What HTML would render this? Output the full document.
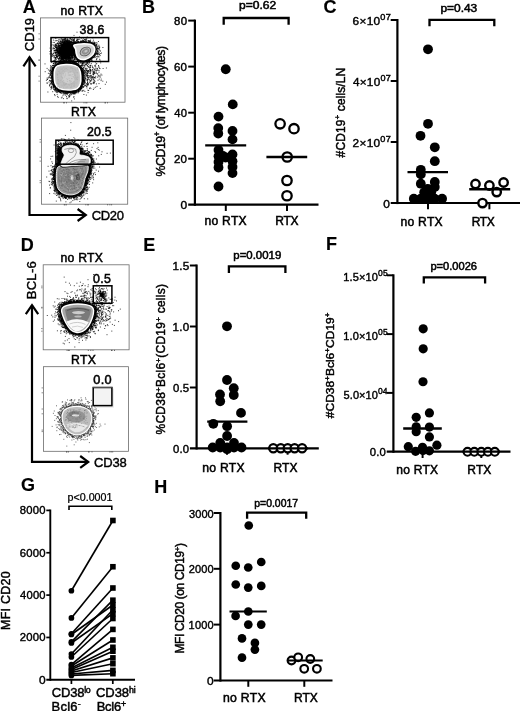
<!DOCTYPE html>
<html><head><meta charset="utf-8"><title>Figure</title><style>html,body{margin:0;padding:0;background:#fff}svg{display:block}</style></head><body>
<svg width="520" height="711" viewBox="0 0 520 711" font-family="'Liberation Sans', sans-serif" fill="#000">
<rect width="520" height="711" fill="#fff"/>
<text transform="translate(23.2 12.7) translate(-0.450 0) scale(1.0000 1)" font-size="18" letter-spacing="0.000" stroke="#000" stroke-width="0.15" font-weight="bold">A</text>
<text transform="translate(143.2 13) translate(-1.170 0) scale(1.0000 1)" font-size="18" letter-spacing="0.000" stroke="#000" stroke-width="0.15" font-weight="bold">B</text>
<text transform="translate(324.3 13) translate(-0.720 0) scale(1.0000 1)" font-size="18" letter-spacing="0.000" stroke="#000" stroke-width="0.15" font-weight="bold">C</text>
<text transform="translate(21.8 251.3) translate(-1.170 0) scale(1.0000 1)" font-size="18" letter-spacing="0.000" stroke="#000" stroke-width="0.15" font-weight="bold">D</text>
<text transform="translate(144.3 251.2) translate(-1.170 0) scale(1.0000 1)" font-size="18" letter-spacing="0.000" stroke="#000" stroke-width="0.15" font-weight="bold">E</text>
<text transform="translate(327.2 249.7) translate(-1.170 0) scale(1.0000 1)" font-size="18" letter-spacing="0.000" stroke="#000" stroke-width="0.15" font-weight="bold">F</text>
<text transform="translate(21.6 490.8) translate(-0.720 0) scale(1.0000 1)" font-size="18" letter-spacing="0.000" stroke="#000" stroke-width="0.15" font-weight="bold">G</text>
<text transform="translate(155.5 493) translate(-1.170 0) scale(1.0000 1)" font-size="18" letter-spacing="0.000" stroke="#000" stroke-width="0.15" font-weight="bold">H</text>
<rect x="40.4" y="17.9" width="84.6" height="84.30000000000001" fill="#fff" stroke="#6a6a6a" stroke-width="0.8"/>
<path d="M64.5 102.8h0M63.5 102.8h0M66.5 102.8h0M39.1 39.0h0M39.1 33.8h0M86.9 102.8h0M85.9 102.8h0M84.0 102.8h0M39.1 60.1h0M39.1 60.1h0M105.1 102.8h0M107.5 102.8h0M105.3 102.8h0M39.1 81.1h0M39.1 76.2h0" fill="none" stroke="#333" stroke-width="0.8" stroke-linecap="square" opacity="1"/>
<path d="M57.7 64.5h0M56.0 63.5h0M57.0 65.2h0M57.5 65.1h0M57.2 64.7h0M57.6 66.2h0M57.7 64.8h0M57.7 65.2h0M56.4 62.5h0M57.7 64.6h0M57.9 65.0h0M57.7 63.0h0M57.6 63.3h0M57.8 64.8h0M57.4 65.6h0M57.8 65.9h0M57.7 64.9h0M58.5 65.4h0M58.0 64.9h0M58.5 64.4h0M57.9 64.9h0M57.9 62.9h0M58.4 64.7h0M58.1 65.2h0M58.3 63.1h0M59.1 64.3h0M58.9 64.5h0M58.4 64.2h0M58.7 65.5h0M58.6 65.7h0M58.8 64.7h0M58.8 64.4h0M59.4 64.9h0M59.2 64.3h0M58.6 63.6h0M58.0 63.5h0M59.5 64.7h0M59.0 64.4h0M59.8 65.4h0M59.9 64.5h0M59.0 63.8h0M59.4 65.8h0M59.2 62.1h0M59.4 65.3h0M59.6 65.2h0M60.0 63.1h0M59.6 62.6h0M59.7 63.0h0M60.1 62.8h0M60.0 62.8h0M59.2 63.0h0M59.9 62.3h0M60.3 65.4h0M60.5 64.6h0M60.2 64.6h0M59.6 63.7h0M60.1 62.4h0M60.3 63.5h0M60.5 63.3h0M61.2 64.9h0M60.3 62.1h0M60.4 64.4h0M60.4 63.8h0M60.0 61.9h0M61.0 62.4h0M60.8 65.1h0M60.4 63.0h0M59.6 61.9h0M61.3 64.3h0M61.1 65.1h0M60.9 64.1h0M60.9 62.1h0M62.1 63.8h0M61.1 64.9h0M61.8 64.4h0M61.7 64.6h0M61.1 64.3h0M61.8 62.9h0M61.3 62.0h0M62.0 63.7h0M61.8 62.2h0M61.7 64.0h0M61.4 60.8h0M61.1 62.5h0M61.9 62.7h0M61.6 63.9h0M62.3 64.7h0M62.2 63.2h0M62.7 64.4h0M62.1 64.4h0M61.9 61.2h0M61.7 62.8h0M62.1 62.4h0M62.6 64.2h0M62.5 64.6h0M62.6 64.5h0M61.4 62.8h0M62.1 63.9h0M62.2 64.4h0M62.4 64.5h0M63.0 62.7h0M63.0 64.5h0M63.1 63.3h0M63.2 65.1h0M62.9 64.6h0M62.5 62.0h0M62.6 64.9h0M63.2 63.5h0M63.7 62.8h0M63.7 64.3h0M63.1 63.6h0M62.9 64.5h0M63.2 62.1h0M63.6 62.9h0M63.8 62.6h0M64.0 63.6h0M64.7 64.2h0M63.5 64.5h0M63.9 62.9h0M63.9 64.0h0M64.1 64.0h0M63.9 61.8h0M64.0 63.2h0M64.4 62.0h0M63.6 61.8h0M64.1 65.0h0M63.7 63.1h0M63.9 63.7h0M65.6 64.1h0M64.2 64.7h0M64.9 63.4h0M64.3 60.9h0M64.2 62.3h0M63.9 64.5h0M65.1 63.4h0M64.7 63.9h0M65.4 64.4h0M65.4 64.4h0M64.5 62.3h0M65.5 64.0h0M64.4 64.6h0M65.4 64.3h0M64.6 64.3h0M65.1 61.9h0M65.5 64.3h0M66.2 62.9h0M65.7 64.1h0M65.3 64.0h0M65.3 62.1h0M65.4 63.8h0M66.0 64.1h0M65.8 62.9h0M65.8 63.9h0M65.9 63.1h0M64.6 63.3h0M66.8 63.9h0M66.6 63.4h0M66.1 63.3h0M66.1 62.4h0M66.1 63.8h0M66.5 63.8h0M66.4 63.5h0M66.0 62.1h0M66.7 63.8h0M66.2 62.3h0M66.2 64.0h0M66.6 64.0h0M66.3 65.0h0M67.0 62.6h0M67.1 62.8h0M67.9 63.1h0M67.1 62.0h0M66.9 62.7h0M66.7 62.8h0M67.0 63.8h0M67.1 64.5h0M67.1 63.1h0M67.3 65.2h0M67.4 61.8h0M67.0 63.4h0M67.6 62.5h0M66.6 61.8h0M68.0 62.2h0M67.3 62.2h0M67.9 61.8h0M68.2 64.3h0M67.1 64.4h0M68.2 63.3h0M68.3 64.5h0M67.8 64.0h0M67.9 65.1h0M67.9 63.7h0M67.9 63.7h0M68.3 61.4h0M68.1 63.9h0M67.7 63.7h0M67.7 62.0h0M69.3 60.3h0M68.6 61.6h0M68.4 63.9h0M68.6 63.6h0M68.4 62.1h0M69.2 64.2h0M68.9 63.5h0M68.7 62.6h0M69.2 61.4h0M68.3 63.3h0M68.7 64.5h0M69.0 60.7h0M68.8 62.6h0M69.4 62.6h0M68.8 63.9h0M69.5 64.3h0M69.8 64.8h0M69.0 64.2h0M69.1 64.2h0M69.7 63.0h0M69.7 63.8h0M69.9 64.2h0M69.9 60.6h0M69.6 60.3h0M69.8 62.9h0M69.5 62.0h0M69.2 61.4h0M69.8 63.1h0M68.7 64.2h0M70.9 62.1h0M70.3 64.3h0M70.5 62.6h0M69.9 62.4h0M70.9 64.0h0M70.5 63.6h0M70.5 63.9h0M70.2 63.4h0M70.5 62.3h0M70.2 63.2h0M70.4 64.1h0M70.3 62.8h0M70.7 64.0h0M70.6 64.3h0M70.7 62.7h0M71.7 63.5h0M71.1 64.5h0M72.0 60.0h0M72.1 60.6h0M71.6 64.3h0M70.9 65.0h0M71.7 64.3h0M71.8 64.3h0M70.9 64.9h0M71.1 63.5h0M70.8 62.0h0M71.0 62.7h0M71.5 63.0h0M70.9 64.8h0M71.1 64.4h0M72.7 61.8h0M72.3 62.2h0M71.9 64.7h0M71.5 62.9h0M72.1 64.6h0M72.1 65.1h0M71.8 63.0h0M72.7 63.1h0M71.9 64.1h0M72.4 62.4h0M71.5 63.2h0M72.6 62.7h0M71.8 64.2h0M72.3 64.7h0M72.8 64.3h0M72.7 62.3h0M72.8 65.1h0M73.1 63.9h0M72.6 65.0h0M73.0 63.2h0M73.0 63.3h0M73.4 62.2h0M72.4 64.5h0M73.6 63.2h0M72.6 64.9h0M73.3 61.4h0M73.3 64.5h0M73.6 63.4h0M73.5 64.0h0M73.8 63.3h0M73.2 64.4h0M73.7 65.3h0M73.7 62.2h0M74.4 63.4h0M73.1 63.9h0M74.4 64.5h0M73.3 65.5h0M73.4 64.1h0M73.7 65.4h0M73.4 63.7h0M74.5 64.6h0M74.1 64.3h0M74.7 63.1h0M74.2 63.8h0M73.9 64.9h0M74.2 64.8h0M74.9 62.9h0M73.6 65.1h0M75.1 65.1h0M74.4 64.2h0M75.1 62.5h0M74.7 62.7h0M76.2 62.7h0M74.9 65.1h0M74.8 64.2h0M75.0 64.6h0M74.9 65.3h0M75.6 63.7h0M75.0 64.2h0M74.9 64.9h0M74.8 65.1h0M74.8 64.4h0M75.9 63.7h0M74.7 65.4h0M75.2 65.7h0M75.9 63.6h0M76.2 63.1h0M75.8 63.9h0M76.4 63.7h0M75.7 64.4h0M74.7 65.1h0M76.2 62.8h0M76.0 65.0h0M75.7 64.3h0M76.8 63.3h0M76.7 65.0h0M76.7 64.5h0M76.1 66.3h0M76.3 64.9h0M75.8 65.0h0M76.6 64.4h0M75.6 65.9h0M76.2 64.5h0M76.0 65.7h0M76.9 65.4h0M77.5 63.5h0M76.9 65.6h0M77.1 63.9h0M77.3 65.2h0M77.4 64.0h0M76.5 65.4h0M77.0 65.1h0M76.7 66.2h0M77.2 65.3h0M77.1 64.3h0M78.9 63.8h0M76.8 66.4h0M78.3 64.3h0M76.9 66.5h0M77.2 65.6h0M78.7 64.6h0M78.6 64.6h0M78.1 65.4h0M77.6 65.8h0M77.2 66.3h0M77.3 66.8h0M78.8 64.2h0M76.7 66.2h0M78.1 65.6h0M78.0 66.8h0M78.3 66.0h0M77.6 66.5h0M78.0 66.1h0M77.7 65.7h0M78.5 64.8h0M78.2 65.6h0M78.0 67.0h0M77.9 66.9h0M78.8 66.0h0M78.3 66.6h0M78.5 66.5h0M78.8 65.6h0M78.8 65.5h0M79.4 65.8h0M77.7 67.0h0M78.4 66.9h0M78.2 67.1h0M79.0 66.5h0M78.5 66.9h0M78.3 66.7h0M78.4 67.0h0M79.7 66.3h0M79.8 65.9h0M78.9 66.7h0M81.2 65.9h0M78.7 68.1h0M80.7 65.5h0M81.4 65.7h0M81.7 65.1h0M82.0 64.7h0M80.0 67.3h0M79.5 67.5h0M79.9 66.9h0M79.2 67.9h0M80.1 67.3h0M81.9 65.5h0M80.7 66.3h0M80.4 67.1h0M82.0 66.1h0M81.0 67.0h0M80.0 67.2h0M80.0 67.8h0M79.6 67.5h0M79.7 67.8h0M79.5 67.8h0M79.7 67.0h0M79.7 68.4h0M80.5 67.9h0M79.5 68.1h0M81.6 67.5h0M79.9 68.3h0M79.9 68.6h0M80.0 69.2h0M80.9 68.1h0M80.4 68.4h0M79.9 69.0h0M80.5 68.7h0M81.2 68.0h0M79.6 69.5h0M80.6 68.7h0M83.5 67.6h0M79.6 69.2h0M80.0 68.9h0M82.7 68.4h0M80.9 69.7h0M80.4 69.1h0M82.6 68.6h0M82.2 69.0h0M81.8 68.7h0M82.0 69.1h0M81.2 69.1h0M80.6 69.0h0M79.9 69.9h0M80.5 70.1h0M83.4 69.3h0M81.5 70.0h0M80.4 70.0h0M80.3 70.1h0M80.4 70.5h0M80.9 70.2h0M81.9 70.3h0M83.2 68.6h0M81.2 69.6h0M81.9 70.7h0M81.5 70.7h0M81.0 70.3h0M80.7 71.3h0M80.2 71.0h0M80.9 71.0h0M80.8 70.5h0M82.2 69.7h0M79.6 70.3h0M81.0 71.1h0M81.8 71.4h0M81.5 70.7h0M79.6 71.6h0M81.9 70.7h0M80.9 71.0h0M82.3 71.2h0M82.3 70.8h0M82.7 71.5h0M81.2 71.3h0M80.5 71.5h0M80.5 71.2h0M82.7 71.2h0M80.3 71.7h0M83.5 71.4h0M80.4 71.6h0M81.8 71.8h0M82.4 72.1h0M82.5 72.0h0M81.1 71.4h0M82.9 71.1h0M80.6 71.9h0M82.8 71.6h0M81.1 72.6h0M81.3 72.2h0M80.5 72.5h0M83.3 72.2h0M81.9 72.1h0M81.0 72.0h0M82.1 72.1h0M82.2 72.3h0M80.7 72.2h0M82.4 72.2h0M82.5 72.3h0M81.8 72.8h0M81.5 72.7h0M81.0 73.0h0M82.2 72.7h0M80.8 72.7h0M80.9 73.2h0M81.1 73.1h0M80.5 73.9h0M84.0 72.3h0M80.3 73.2h0M81.9 72.8h0M81.4 73.2h0M81.2 73.8h0M83.0 73.7h0M81.3 73.8h0M80.4 73.8h0M82.2 74.0h0M83.9 73.6h0M80.6 73.4h0M81.8 74.0h0M82.6 73.9h0M81.6 73.2h0M82.8 74.9h0M83.9 74.1h0M83.0 73.2h0M79.7 74.3h0M83.3 73.9h0M81.3 74.9h0M81.5 74.2h0M81.4 74.0h0M82.6 73.8h0M84.3 73.8h0M83.5 74.2h0M82.5 74.6h0M82.0 75.4h0M81.8 74.9h0M82.1 74.1h0M85.6 74.8h0M82.1 75.4h0M80.4 75.0h0M83.0 74.6h0M83.7 74.8h0M81.6 74.9h0M81.7 75.0h0M80.9 76.3h0M80.9 75.3h0M81.0 75.8h0M81.8 75.6h0M82.3 75.6h0M81.3 75.8h0M81.5 76.3h0M82.1 75.0h0M82.0 75.2h0M82.4 75.9h0M80.9 75.8h0M82.5 75.3h0M82.5 75.9h0M81.3 75.8h0M81.6 76.1h0M81.2 76.5h0M82.1 76.5h0M81.9 75.8h0M82.9 75.5h0M84.3 75.8h0M81.8 76.0h0M81.9 76.3h0M81.6 76.2h0M81.3 76.2h0M81.8 76.7h0M82.8 77.2h0M81.2 76.6h0M81.5 77.1h0M81.1 76.8h0M82.7 76.6h0M81.4 77.2h0M81.1 76.8h0M82.0 76.9h0M84.2 76.6h0M83.1 76.6h0M81.4 76.8h0M82.4 77.4h0M81.3 77.7h0M83.6 77.4h0M81.0 77.6h0M82.0 77.5h0M81.3 77.2h0M80.8 77.8h0M82.7 77.6h0M82.5 77.8h0M82.3 77.4h0M83.7 77.2h0M82.2 78.3h0M81.1 77.7h0M82.0 78.4h0M82.3 78.1h0M82.2 77.7h0M81.4 77.5h0M82.1 78.8h0M82.3 78.3h0M83.2 78.9h0M84.0 78.5h0M81.5 78.4h0M81.3 78.0h0M82.6 78.4h0M81.1 79.3h0M80.9 78.0h0M82.7 79.0h0M82.0 79.1h0M83.3 79.1h0M82.0 79.0h0M81.5 79.5h0M83.4 79.3h0M81.9 79.2h0M81.8 79.6h0M83.6 79.2h0M81.0 78.7h0M84.1 78.9h0M80.8 79.6h0M82.1 80.1h0M80.8 79.5h0M84.3 80.4h0M83.3 80.3h0M82.4 79.4h0M82.0 80.0h0M83.2 79.6h0M81.7 79.8h0M83.6 81.0h0M81.6 79.8h0M81.9 79.3h0M82.6 79.6h0M82.0 80.7h0M82.5 80.1h0M82.9 80.4h0M81.8 80.8h0M83.9 80.7h0M81.6 80.9h0M81.6 80.8h0M82.5 80.8h0M84.4 79.9h0M82.4 81.3h0M83.9 80.7h0M81.0 80.7h0M80.8 80.3h0M82.6 81.7h0M84.4 81.2h0M83.8 81.2h0M80.6 81.0h0M83.7 81.9h0M83.3 82.0h0M80.9 80.8h0M83.0 81.1h0M82.2 80.9h0M81.7 81.1h0M81.8 81.8h0M83.5 80.9h0M81.6 82.3h0M84.4 82.1h0M81.4 81.3h0M81.8 82.1h0M82.1 82.2h0M82.1 81.8h0M80.8 82.0h0M82.2 82.5h0M81.1 81.8h0M81.7 82.2h0M81.7 81.9h0M85.0 82.5h0M81.0 82.3h0M81.5 82.7h0M84.1 83.1h0M80.4 82.0h0M80.5 82.4h0M81.7 82.7h0M80.8 82.7h0M80.8 82.7h0M81.8 82.6h0M82.1 82.4h0M83.5 82.9h0M81.1 83.1h0M82.7 83.2h0M82.5 83.9h0M81.6 83.2h0M80.7 82.9h0M81.5 83.0h0M80.2 83.0h0M81.1 83.2h0M81.7 83.4h0M82.3 84.0h0M81.3 83.4h0M81.9 83.2h0M82.8 84.2h0M82.7 83.8h0M82.7 84.5h0M82.1 84.0h0M83.3 84.3h0M81.0 83.9h0M82.2 84.1h0M83.1 84.3h0M82.2 84.3h0M82.4 84.6h0M80.2 84.6h0M80.3 84.5h0M82.3 84.5h0M80.4 84.7h0M79.9 84.2h0M80.6 85.4h0M81.0 84.7h0M82.2 84.6h0M82.6 84.6h0M82.0 84.5h0M80.7 85.3h0M81.4 85.4h0M80.7 85.4h0M80.4 85.3h0M80.8 85.1h0M80.7 85.1h0M80.7 84.5h0M80.8 85.8h0M80.1 85.1h0M83.1 86.1h0M83.6 87.1h0M82.4 86.3h0M82.5 85.7h0M83.4 86.8h0M79.9 85.2h0M80.0 85.3h0M81.8 86.2h0M81.1 85.6h0M81.9 85.8h0M80.0 85.5h0M83.0 87.0h0M81.1 86.2h0M81.5 85.9h0M80.2 85.3h0M82.0 87.3h0M79.8 86.1h0M81.3 86.1h0M80.9 86.9h0M79.9 86.2h0M80.8 86.8h0M79.8 86.4h0M80.6 86.8h0M82.1 87.8h0M81.2 86.9h0M79.3 86.1h0M80.7 87.2h0M80.3 87.0h0M79.5 87.2h0M80.4 87.6h0M81.7 88.1h0M79.5 86.8h0M81.1 86.9h0M80.8 87.8h0M81.5 88.6h0M79.3 87.1h0M79.7 87.0h0M81.7 88.7h0M79.6 87.8h0M80.2 87.4h0M79.2 86.9h0M79.1 86.8h0M79.4 87.4h0M81.3 88.8h0M79.5 88.0h0M79.4 87.3h0M80.5 89.2h0M80.7 88.4h0M80.0 88.5h0M80.2 87.7h0M79.2 87.5h0M78.9 87.7h0M78.6 88.0h0M78.9 88.6h0M78.1 87.7h0M79.2 88.8h0M80.1 88.8h0M80.4 89.4h0M79.9 88.6h0M78.3 89.4h0M79.8 89.0h0M78.5 87.9h0M80.0 90.7h0M79.6 88.9h0M80.3 90.6h0M79.2 88.6h0M78.3 87.8h0M78.3 88.3h0M78.7 90.1h0M78.4 89.0h0M79.3 90.0h0M78.6 89.7h0M78.1 88.8h0M78.8 89.9h0M78.6 89.7h0M78.0 88.7h0M78.6 88.9h0M77.4 89.5h0M78.6 89.9h0M77.6 89.1h0M78.3 90.4h0M78.3 90.3h0M78.2 91.0h0M77.5 89.0h0M77.3 88.3h0M78.7 91.2h0M78.7 91.0h0M76.5 88.8h0M77.1 88.7h0M77.1 89.4h0M78.1 92.9h0M78.0 91.7h0M78.3 92.1h0M77.3 89.0h0M78.3 91.5h0M78.0 91.1h0M77.3 89.6h0M77.6 90.0h0M77.1 90.8h0M76.4 90.6h0M76.5 88.9h0M76.4 89.6h0M75.9 89.1h0M76.8 90.0h0M75.6 89.9h0M76.9 90.8h0M76.8 91.6h0M76.4 88.6h0M76.8 90.1h0M76.6 89.3h0M75.7 91.3h0M76.0 91.1h0M75.0 90.8h0M76.2 90.6h0M75.7 89.1h0M76.0 89.7h0M76.9 90.1h0M75.9 91.3h0M76.2 92.8h0M75.4 91.3h0M76.4 91.3h0M75.2 89.5h0M75.7 92.5h0M75.6 92.5h0M76.1 92.7h0M75.7 92.9h0M74.8 90.9h0M75.2 89.9h0M74.5 91.1h0M74.3 91.2h0M75.1 90.4h0M75.2 92.1h0M75.0 89.5h0M75.2 91.2h0M74.7 90.2h0M74.9 89.5h0M74.5 92.1h0M74.6 92.8h0M73.8 91.0h0M73.8 92.1h0M73.0 90.8h0M74.2 89.9h0M74.6 89.3h0M74.1 89.8h0M73.7 90.8h0M73.8 92.0h0M74.5 90.5h0M73.9 90.2h0M73.5 89.9h0M74.4 92.5h0M73.7 91.4h0M73.3 91.7h0M73.7 93.3h0M73.5 91.3h0M73.8 91.9h0M74.2 93.6h0M72.9 92.7h0M72.9 90.4h0M73.3 91.4h0M74.0 93.5h0M73.8 92.1h0M74.4 93.2h0M73.6 89.8h0M73.5 90.4h0M73.8 91.3h0M72.7 92.7h0M73.2 92.5h0M72.6 92.2h0M73.0 91.0h0M72.5 90.7h0M72.0 90.2h0M72.3 90.2h0M72.2 90.4h0M72.5 90.4h0M72.6 92.9h0M72.7 92.3h0M72.2 91.4h0M72.3 91.6h0M73.1 93.1h0M72.9 93.0h0M71.6 92.4h0M71.3 90.1h0M72.4 92.1h0M71.1 91.1h0M71.4 90.1h0M72.2 92.1h0M72.0 91.2h0M71.7 92.7h0M72.3 91.7h0M71.9 90.4h0M71.2 90.2h0M71.9 90.3h0M71.8 92.6h0M71.7 90.4h0M72.3 92.7h0M70.9 90.1h0M70.6 92.2h0M71.3 91.0h0M70.0 90.8h0M71.2 90.4h0M70.4 90.8h0M71.2 91.2h0M70.8 92.7h0M70.9 89.9h0M70.4 90.2h0M70.0 90.6h0M71.5 90.0h0M70.9 90.3h0M70.5 92.2h0M69.9 92.4h0M70.6 90.6h0M70.1 94.0h0M69.9 92.0h0M69.9 91.2h0M69.5 89.6h0M69.9 92.2h0M69.8 92.2h0M70.1 92.0h0M69.6 90.2h0M69.6 90.4h0M69.3 92.3h0M70.8 90.0h0M70.0 90.7h0M68.8 91.7h0M69.3 90.3h0M68.8 91.3h0M68.9 92.6h0M68.8 90.6h0M69.1 95.6h0M68.6 92.1h0M68.8 90.1h0M70.2 90.3h0M68.5 92.1h0M69.4 90.2h0M68.8 90.6h0M69.2 91.5h0M68.9 91.9h0M68.0 90.6h0M68.3 91.7h0M68.6 91.0h0M69.0 89.7h0M68.7 92.0h0M69.1 91.8h0M68.8 92.8h0M68.5 93.0h0M68.5 92.0h0M68.9 90.5h0M68.0 91.5h0M67.9 90.0h0M67.6 91.4h0M68.5 91.9h0M68.0 91.4h0M67.7 91.3h0M67.9 92.0h0M67.4 89.7h0M67.0 90.0h0M68.0 92.5h0M67.8 91.6h0M67.2 93.7h0M67.8 90.7h0M67.5 92.0h0M67.3 93.6h0M67.6 92.2h0M68.5 91.1h0M66.7 90.4h0M66.2 91.1h0M67.5 91.4h0M67.9 90.0h0M66.3 91.6h0M67.1 90.9h0M67.4 90.4h0M66.3 90.5h0M67.0 91.4h0M66.8 93.3h0M67.0 92.3h0M67.2 90.6h0M67.2 92.5h0M66.9 91.0h0M67.0 91.8h0M65.8 91.3h0M66.6 90.5h0M66.0 92.1h0M65.9 92.6h0M67.0 89.9h0M65.9 91.8h0M66.5 91.0h0M66.2 91.6h0M65.9 89.8h0M66.1 90.2h0M66.4 91.1h0M66.6 92.0h0M64.9 90.6h0M65.6 92.2h0M65.3 93.0h0M65.7 90.0h0M66.3 89.8h0M65.4 90.7h0M65.3 91.4h0M65.1 93.5h0M65.2 89.8h0M65.3 90.8h0M65.1 90.7h0M65.0 93.7h0M65.2 89.9h0M65.5 92.2h0M65.2 90.3h0M64.4 91.9h0M64.6 89.3h0M65.0 90.1h0M64.6 90.8h0M65.1 89.8h0M64.9 91.6h0M64.8 90.1h0M64.8 89.5h0M64.8 91.1h0M64.3 90.0h0M64.5 90.2h0M64.5 91.0h0M64.7 91.3h0M63.5 90.3h0M64.1 90.4h0M63.1 90.4h0M63.3 90.0h0M64.5 89.4h0M63.5 91.3h0M63.7 91.8h0M63.7 92.5h0M63.7 90.0h0M63.3 91.7h0M63.9 92.3h0M64.2 92.1h0M63.8 93.9h0M62.5 91.8h0M62.5 91.3h0M63.1 90.6h0M63.3 91.6h0M62.3 90.5h0M62.8 90.6h0M63.1 89.9h0M62.1 89.6h0M62.8 91.5h0M63.0 90.2h0M62.7 91.5h0M63.0 91.8h0M63.4 91.1h0M62.7 90.8h0M62.7 92.8h0M62.0 90.1h0M62.1 89.7h0M62.6 90.8h0M61.9 91.3h0M62.3 90.8h0M61.7 93.3h0M62.1 91.6h0M61.8 92.8h0M61.9 90.4h0M62.2 90.4h0M62.8 90.7h0M62.2 91.4h0M62.2 89.5h0M61.1 90.1h0M61.5 89.6h0M61.7 91.1h0M60.5 90.3h0M61.4 90.7h0M61.5 89.6h0M61.6 89.1h0M61.7 90.6h0M60.9 89.4h0M61.7 90.7h0M61.6 89.7h0M61.0 89.8h0M60.2 90.3h0M60.6 90.9h0M60.6 90.4h0M61.0 89.3h0M60.4 92.3h0M61.1 89.6h0M60.5 92.2h0M60.2 92.5h0M60.3 90.2h0M62.0 89.6h0M61.1 89.6h0M60.2 91.3h0M60.3 90.8h0M59.6 91.2h0M59.2 90.3h0M60.0 90.2h0M59.7 91.7h0M59.4 90.8h0M60.8 88.7h0M59.4 90.8h0M59.7 90.8h0M61.1 89.2h0M59.7 89.9h0M58.6 90.5h0M58.6 91.3h0M59.3 89.7h0M59.1 90.9h0M59.0 91.1h0M59.2 91.3h0M59.2 90.3h0M58.4 91.7h0M59.6 90.5h0M59.8 89.3h0M59.7 88.8h0M58.6 90.7h0M57.9 90.4h0M58.0 91.7h0M58.1 89.7h0M58.4 90.4h0M58.0 91.4h0M57.9 90.9h0M58.9 88.5h0M58.7 89.0h0M58.7 89.5h0M57.2 92.2h0M59.1 88.5h0M57.0 90.4h0M54.6 94.5h0M58.6 89.1h0M57.8 89.3h0M58.0 88.8h0M57.4 90.2h0M58.1 88.7h0M58.1 89.1h0M57.7 89.8h0M58.6 89.7h0M57.7 89.4h0M58.1 88.3h0M56.5 90.0h0M57.8 88.5h0M58.6 88.8h0M57.8 88.2h0M55.7 91.7h0M58.1 88.6h0M57.9 89.0h0M57.2 88.2h0M56.8 87.7h0M57.8 88.3h0M57.3 87.7h0M57.4 88.3h0M56.9 89.8h0M55.7 90.3h0M57.0 88.7h0M57.8 87.9h0M55.5 89.7h0M55.6 88.5h0M54.8 90.0h0M55.6 89.6h0M57.0 87.5h0M56.7 88.5h0M56.6 88.3h0M57.0 87.2h0M57.0 88.1h0M56.9 88.8h0M56.0 88.8h0M57.3 87.0h0M55.5 88.4h0M56.5 87.6h0M56.6 87.0h0M55.3 89.0h0M55.3 88.4h0M55.3 88.9h0M56.9 87.8h0M54.8 88.1h0M56.4 87.9h0M56.2 86.6h0M56.1 87.1h0M56.5 86.1h0M55.3 87.4h0M56.3 87.6h0M55.5 87.1h0M55.6 88.5h0M56.9 86.2h0M55.2 86.8h0M55.5 86.8h0M56.1 86.4h0M53.4 87.7h0M55.6 86.3h0M55.6 87.4h0M56.6 87.1h0M55.0 87.6h0M54.6 86.6h0M54.7 86.7h0M54.9 86.5h0M54.9 86.2h0M55.8 85.7h0M55.8 86.0h0M54.4 86.8h0M54.0 87.0h0M55.3 86.0h0M56.1 86.4h0M54.6 85.8h0M55.3 85.6h0M53.5 86.9h0M55.4 85.0h0M54.9 86.2h0M54.0 87.0h0M54.7 85.8h0M55.7 85.5h0M52.1 86.9h0M53.9 86.2h0M54.3 85.0h0M54.8 84.7h0M54.6 84.9h0M55.4 85.4h0M55.8 84.4h0M55.0 85.7h0M51.1 87.3h0M53.6 85.6h0M54.7 85.6h0M54.9 84.5h0M53.1 84.7h0M54.2 84.9h0M54.2 85.0h0M55.2 84.5h0M53.5 85.1h0M53.6 85.0h0M54.8 83.7h0M53.5 85.2h0M53.4 85.1h0M55.1 83.9h0M55.3 83.4h0M54.6 83.8h0M52.2 85.2h0M53.6 84.7h0M49.7 86.0h0M55.3 84.1h0M53.4 84.5h0M54.6 84.6h0M54.4 83.6h0M54.1 83.4h0M55.3 83.3h0M52.1 84.4h0M54.0 83.7h0M52.1 83.8h0M53.9 83.3h0M55.1 83.6h0M54.6 83.6h0M54.5 83.8h0M54.1 83.1h0M54.9 83.2h0M53.0 82.8h0M54.0 82.2h0M53.7 82.9h0M54.3 82.4h0M54.7 82.3h0M49.7 84.3h0M53.0 83.1h0M53.6 82.7h0M53.3 82.5h0M54.2 82.5h0M51.7 83.2h0M55.0 82.9h0M54.1 81.8h0M51.6 82.8h0M54.1 81.8h0M52.9 82.8h0M53.9 82.0h0M51.5 82.9h0M53.6 82.0h0M54.3 82.7h0M53.6 82.0h0M51.7 82.4h0M53.5 81.4h0M54.2 82.3h0M54.7 81.5h0M54.7 81.4h0M53.8 81.5h0M52.8 81.5h0M54.4 81.2h0M51.4 81.5h0M53.8 81.0h0M52.3 81.6h0M52.7 80.9h0M52.8 81.8h0M52.4 81.4h0M50.5 81.8h0M53.3 81.3h0M54.0 81.4h0M52.9 80.2h0M53.8 80.4h0M51.1 80.7h0M51.2 80.6h0M53.9 80.6h0M53.2 80.6h0M53.4 81.3h0M54.1 80.7h0M54.4 80.2h0M52.5 81.4h0M54.6 80.0h0M53.6 81.3h0M53.6 80.6h0M53.0 79.9h0M54.8 79.4h0M52.6 80.2h0M54.5 78.7h0M53.6 80.3h0M53.2 79.4h0M54.0 79.7h0M49.5 80.4h0M53.5 80.1h0M53.4 79.9h0M53.5 79.5h0M52.3 79.8h0M52.1 80.0h0M52.9 79.7h0M52.4 79.6h0M53.8 79.2h0M53.3 79.1h0M53.3 79.1h0M52.7 79.8h0M53.2 79.1h0M54.4 79.2h0M52.3 79.1h0M53.2 78.8h0M53.0 79.2h0M52.3 79.3h0M53.5 78.9h0M51.8 78.0h0M51.4 78.3h0M52.3 78.8h0M53.7 78.1h0M54.5 78.0h0M53.5 78.7h0M52.7 78.6h0M53.1 78.3h0M53.3 78.2h0M53.7 78.4h0M53.6 78.8h0M50.9 78.5h0M54.0 78.8h0M54.3 77.8h0M53.3 77.5h0M51.3 77.5h0M53.8 77.8h0M54.7 77.2h0M53.8 77.8h0M53.8 77.7h0M51.2 77.7h0M53.5 77.4h0M53.4 77.8h0M53.8 77.6h0M52.8 77.6h0M52.6 77.4h0M53.7 77.1h0M51.8 76.7h0M53.4 77.4h0M52.3 76.4h0M53.2 76.8h0M53.2 77.2h0M50.8 77.3h0M53.8 76.6h0M53.8 76.9h0M54.1 76.7h0M52.0 77.5h0M53.8 76.7h0M53.5 76.5h0M53.2 76.2h0M53.4 76.1h0M53.1 76.8h0M53.0 76.8h0M53.1 76.6h0M53.3 76.8h0M52.1 76.3h0M53.1 76.5h0M54.1 76.7h0M53.0 76.6h0M53.7 76.0h0M52.7 75.5h0M54.5 75.7h0M54.2 75.2h0M52.1 76.2h0M52.4 76.4h0M53.9 75.3h0M51.8 76.1h0M53.8 75.5h0M52.8 75.9h0M52.3 76.2h0M52.3 75.1h0M52.3 75.4h0M52.9 75.2h0M54.3 75.0h0M51.4 75.2h0M53.8 74.7h0M52.6 75.5h0M53.2 74.6h0M52.3 75.3h0M52.3 75.4h0M54.0 74.6h0M53.7 75.0h0M53.9 74.7h0M54.2 74.9h0M53.9 74.9h0M54.4 74.6h0M54.3 74.8h0M50.9 74.6h0M53.4 74.1h0M53.0 74.4h0M53.5 74.7h0M53.2 74.2h0M52.8 73.9h0M51.3 73.8h0M49.9 73.5h0M52.8 74.3h0M48.4 73.3h0M53.3 74.1h0M51.2 74.1h0M53.6 73.7h0M54.0 73.8h0M52.9 73.3h0M51.9 73.4h0M53.2 73.7h0M53.0 73.1h0M53.6 74.0h0M52.9 73.6h0M53.8 73.5h0M50.8 72.8h0M53.0 73.4h0M53.4 73.3h0M53.1 73.0h0M53.2 73.3h0M52.9 73.7h0M54.2 73.0h0M53.3 72.7h0M54.5 72.8h0M53.5 72.5h0M54.1 72.2h0M53.7 72.5h0M54.1 73.2h0M53.4 72.1h0M51.6 72.3h0M53.2 72.0h0M49.9 71.1h0M52.5 71.9h0M52.3 71.9h0M52.2 72.3h0M53.2 72.8h0M51.5 71.5h0M53.6 72.0h0M52.3 71.4h0M52.3 71.6h0M54.0 71.4h0M52.6 71.8h0M54.2 71.5h0M53.8 72.1h0M50.9 70.8h0M52.9 71.9h0M52.5 71.1h0M53.3 71.8h0M53.6 70.9h0M52.3 71.0h0M54.4 71.2h0M50.8 70.6h0M53.8 71.0h0M51.9 70.3h0M54.0 70.7h0M54.3 70.8h0M52.7 70.7h0M50.0 71.3h0M54.2 71.0h0M51.7 71.0h0M53.1 69.7h0M52.5 70.0h0M53.5 70.4h0M53.6 69.7h0M54.5 71.0h0M53.8 70.6h0M53.2 70.2h0M53.6 70.2h0M53.5 71.0h0M52.6 69.5h0M51.1 69.5h0M54.0 69.4h0M53.1 70.0h0M51.0 69.0h0M53.3 69.7h0M52.8 69.3h0M53.3 70.4h0M52.5 69.7h0M51.8 68.7h0M54.2 69.5h0M54.5 69.8h0M53.8 69.1h0M54.3 69.5h0M53.6 68.8h0M54.3 69.4h0M53.7 69.3h0M52.9 68.6h0M55.0 68.9h0M53.8 69.0h0M54.1 68.9h0M52.9 68.3h0M52.6 68.5h0M54.0 69.0h0M53.4 68.7h0M51.4 66.9h0M54.7 68.6h0M51.1 67.8h0M54.1 69.0h0M54.6 68.8h0M54.4 68.5h0M54.1 67.6h0M53.4 67.6h0M53.4 67.7h0M54.0 68.2h0M53.9 67.6h0M54.0 68.4h0M51.0 66.7h0M54.5 68.6h0M55.6 67.6h0M54.6 67.9h0M54.4 68.4h0M54.1 67.8h0M55.3 68.0h0M55.3 68.1h0M55.1 67.9h0M53.5 67.5h0M54.3 67.2h0M54.9 67.2h0M54.4 67.3h0M53.0 65.4h0M55.5 67.2h0M54.1 67.2h0M53.0 65.8h0M52.4 65.8h0M53.9 66.3h0M54.9 66.3h0M55.3 67.3h0M55.4 66.9h0M53.7 65.5h0M54.5 66.4h0M55.5 67.2h0M55.5 66.8h0M55.7 67.3h0M55.3 67.1h0M56.1 66.4h0M55.0 65.4h0M55.5 66.7h0M55.3 65.8h0M55.2 66.1h0M55.8 66.3h0M54.9 65.4h0M54.9 64.9h0M55.6 66.0h0M56.3 66.4h0M56.4 66.1h0M55.9 65.3h0M56.0 65.8h0M56.1 65.8h0M56.5 66.8h0M55.4 65.0h0M56.1 66.1h0M55.4 63.9h0M56.4 64.1h0M56.7 65.6h0M56.3 65.7h0M57.2 66.1h0M56.8 64.9h0M56.2 64.9h0M55.5 63.3h0M56.9 64.5h0M55.9 62.9h0M56.3 64.4h0M55.6 62.0h0M57.0 65.3h0M57.5 66.6h0M55.5 62.2h0M56.6 65.1h0M56.2 62.9h0M55.2 57.8h0M55.2 60.0h0M55.6 58.5h0M56.1 59.5h0M56.5 56.9h0M59.1 65.1h0M58.7 64.6h0M59.7 64.5h0M59.4 65.1h0M58.5 62.1h0M58.9 61.8h0M60.4 65.3h0M59.1 60.2h0M60.8 64.2h0M60.5 65.1h0M60.0 61.9h0M61.2 61.3h0M61.3 64.4h0M61.0 61.4h0M62.7 64.4h0M61.5 56.2h0M61.8 61.5h0M62.3 62.6h0M61.4 55.8h0M63.3 62.8h0M62.9 61.7h0M62.0 56.6h0M63.9 64.0h0M64.2 62.1h0M63.1 60.0h0M65.4 59.6h0M65.1 63.6h0M64.6 62.1h0M65.2 64.5h0M65.8 61.0h0M65.9 62.9h0M66.8 63.2h0M65.8 62.6h0M66.3 60.2h0M67.6 55.8h0M66.9 62.7h0M67.2 62.6h0M68.2 63.6h0M68.6 58.8h0M68.1 61.6h0M69.0 56.8h0M69.2 60.2h0M69.3 57.8h0M69.7 64.6h0M69.9 60.2h0M69.9 64.2h0M69.9 64.1h0M70.9 64.4h0M71.2 56.7h0M70.3 64.6h0M71.2 65.0h0M71.7 64.5h0M72.0 60.6h0M72.1 64.3h0M72.5 63.9h0M71.6 64.4h0M73.5 63.0h0M73.0 64.1h0M74.1 58.1h0M73.9 63.1h0M73.8 62.0h0M74.4 62.4h0M74.6 61.7h0M74.9 63.4h0M74.9 60.4h0M75.0 63.6h0M75.3 62.4h0M77.3 60.6h0M75.7 64.1h0M77.9 61.6h0M77.5 61.1h0M76.7 65.2h0M77.6 65.0h0M78.8 62.3h0M77.3 65.9h0M78.0 64.6h0M77.3 66.4h0M77.5 65.9h0M78.6 65.8h0M78.4 66.0h0M82.7 63.1h0M82.2 63.6h0M82.6 63.8h0M79.4 66.4h0M83.9 64.3h0M79.7 66.8h0M80.9 67.7h0M82.7 65.9h0M84.7 66.0h0M81.1 67.8h0M81.6 67.9h0M79.6 69.0h0M80.8 68.7h0M82.2 68.7h0M86.0 68.1h0M81.7 69.9h0M86.7 68.9h0M80.1 70.4h0M80.1 70.9h0M85.8 70.2h0M83.8 70.2h0M87.0 70.9h0M80.5 72.2h0M83.5 72.0h0M81.9 72.6h0M88.8 71.3h0M89.0 71.8h0M83.2 72.5h0M87.3 73.5h0M81.8 74.1h0M81.5 74.5h0M81.9 74.8h0M81.7 74.2h0M84.1 75.4h0M82.0 75.6h0M82.8 74.6h0M83.3 75.1h0M83.4 75.4h0M82.5 76.2h0M83.9 75.1h0M87.4 76.3h0M93.4 76.2h0M84.0 77.6h0M81.5 77.9h0M84.8 77.5h0M82.6 78.1h0M85.3 78.4h0M83.5 78.1h0M81.9 79.4h0M85.6 79.0h0M87.2 80.0h0M82.7 79.5h0M91.4 80.2h0M87.4 80.2h0M81.0 80.2h0M82.7 80.8h0M84.2 81.2h0M80.8 81.0h0M84.6 81.8h0M81.3 82.1h0M84.8 82.6h0M86.6 83.7h0M83.2 82.2h0M82.2 83.2h0M83.1 83.7h0M86.8 85.1h0M80.7 83.4h0M80.9 84.5h0M84.8 86.3h0M80.4 84.4h0M79.7 84.6h0M89.5 88.6h0M82.9 87.2h0M82.1 86.1h0M79.8 85.5h0M79.5 85.9h0M81.4 87.2h0M81.2 86.9h0M81.0 87.3h0M81.0 88.7h0M83.8 90.3h0M80.6 88.9h0M82.9 90.9h0M82.1 91.3h0M82.2 90.4h0M79.9 89.6h0M79.5 89.3h0M77.8 88.2h0M79.4 91.1h0M78.9 91.7h0M77.6 88.2h0M77.2 90.0h0M76.8 89.0h0M76.9 92.0h0M76.5 88.8h0M76.3 89.1h0M76.1 91.3h0M75.7 89.5h0M76.8 92.2h0M75.7 90.1h0M75.4 93.2h0M75.3 91.0h0M73.9 90.8h0M74.9 94.1h0M73.9 89.7h0M73.9 93.8h0M74.4 98.9h0M74.1 96.8h0M74.1 91.1h0M73.1 94.1h0M73.5 97.1h0M72.2 92.8h0M72.3 91.3h0M71.7 94.2h0M71.6 90.8h0M71.9 92.0h0M70.7 91.4h0M71.7 100.9h0M71.2 93.6h0M70.6 91.8h0M70.5 93.2h0M70.1 95.8h0M71.1 94.8h0M69.5 96.5h0M69.7 94.4h0M69.3 92.4h0M68.9 95.7h0M69.0 96.6h0M69.0 97.6h0M67.4 94.0h0M67.8 92.6h0M67.0 98.2h0M67.0 94.8h0M66.5 96.6h0M67.1 98.7h0M66.4 93.2h0M66.3 92.8h0M66.4 93.7h0M65.1 93.9h0M64.9 90.5h0M64.9 93.7h0M65.3 95.2h0M64.3 92.6h0M64.6 90.1h0M64.2 91.3h0M63.4 98.6h0M63.0 95.3h0M63.4 93.8h0M62.2 97.1h0M61.4 97.9h0M63.2 90.9h0M61.5 91.2h0M61.4 91.3h0M61.3 92.2h0M61.5 89.4h0M60.4 93.0h0M60.4 90.9h0M58.2 97.4h0M57.6 96.4h0M59.6 92.2h0M59.3 91.8h0M59.1 90.2h0M57.2 94.3h0M57.8 92.0h0M58.5 90.7h0M55.0 95.6h0M56.5 91.8h0M56.7 92.0h0M57.1 89.4h0M56.3 90.5h0M54.9 90.8h0M58.0 87.8h0M57.1 88.9h0M54.8 89.8h0M56.0 88.6h0M54.2 89.5h0M52.7 91.7h0M56.3 86.5h0M53.6 89.2h0M53.2 88.2h0M47.9 92.0h0M51.0 89.2h0M55.2 86.3h0M51.7 88.0h0M51.5 88.0h0M53.4 87.0h0M53.3 86.0h0M51.0 87.3h0M53.5 86.1h0M54.0 85.1h0M51.6 86.5h0M49.6 85.4h0M52.5 84.6h0M52.5 83.4h0M50.7 84.2h0M55.3 82.9h0M50.6 83.4h0M46.9 83.0h0M47.4 83.1h0M51.8 82.6h0M49.0 82.0h0M53.3 81.1h0M54.6 81.1h0M51.1 80.6h0M51.3 81.2h0M52.1 80.2h0M46.4 80.3h0M52.9 79.3h0M49.9 80.7h0M47.4 79.5h0M52.8 79.3h0M52.0 79.2h0M47.3 79.3h0M48.2 77.9h0M52.7 78.3h0M47.1 78.1h0M48.9 77.8h0M51.6 77.0h0M49.5 77.2h0M49.1 76.7h0M52.3 76.1h0M51.9 76.7h0M53.3 76.2h0M50.0 75.4h0M51.2 75.9h0M50.3 75.5h0M52.7 75.1h0M50.6 74.4h0M50.0 74.7h0M51.2 73.8h0M53.1 74.3h0M51.3 73.3h0M51.2 73.0h0M51.8 72.1h0M50.4 72.7h0M52.9 72.2h0M45.2 71.7h0M53.8 72.1h0M50.0 70.3h0M52.1 71.8h0M52.8 71.2h0M50.9 71.2h0M48.4 69.9h0M52.8 70.2h0M50.3 70.0h0M54.0 69.6h0M47.1 68.4h0M52.7 68.3h0M52.8 68.9h0M50.4 68.0h0M52.4 67.5h0M54.9 68.4h0M52.7 67.6h0M45.0 63.9h0M50.7 65.7h0M53.0 65.8h0M54.8 66.6h0M53.3 65.1h0M51.6 62.3h0M56.4 66.9h0M55.0 64.8h0M54.2 63.1h0M52.9 61.4h0M53.6 60.7h0M55.0 61.3h0M55.0 62.2h0M73.0 45.2h0M72.1 44.6h0M72.4 44.2h0M73.6 44.5h0M72.4 42.7h0M72.4 42.9h0M73.9 44.7h0M73.8 44.5h0M73.7 43.6h0M73.7 44.2h0M74.4 44.4h0M74.1 43.8h0M73.5 42.2h0M73.6 43.1h0M74.2 43.3h0M75.0 44.2h0M73.8 42.2h0M74.2 43.4h0M74.5 42.3h0M75.0 44.3h0M75.5 43.2h0M75.1 44.5h0M75.9 44.7h0M75.4 43.9h0M75.4 43.4h0M75.6 44.6h0M75.9 43.1h0M76.2 43.6h0M75.8 42.0h0M75.8 42.3h0M75.6 41.7h0M76.3 44.3h0M76.2 43.3h0M76.3 44.3h0M76.5 44.6h0M76.0 43.7h0M77.4 42.7h0M77.0 42.5h0M77.2 44.2h0M76.0 42.9h0M76.9 42.0h0M76.7 43.0h0M78.1 43.6h0M76.9 43.9h0M77.3 43.5h0M76.9 42.8h0M77.1 42.6h0M78.2 44.0h0M78.4 43.9h0M77.6 43.8h0M78.0 43.6h0M77.9 44.2h0M78.4 43.4h0M77.8 43.8h0M78.4 43.7h0M78.4 43.6h0M78.0 42.1h0M78.1 43.6h0M78.5 43.4h0M77.6 39.2h0M78.7 43.9h0M78.5 42.6h0M78.7 42.3h0M78.3 41.4h0M79.0 42.7h0M79.5 43.6h0M78.5 42.7h0M79.2 44.4h0M79.2 42.3h0M78.3 41.5h0M79.4 44.0h0M79.2 41.8h0M79.6 43.5h0M78.7 43.6h0M79.5 43.1h0M79.8 43.8h0M80.3 43.7h0M80.4 42.4h0M80.1 43.6h0M79.7 43.8h0M79.7 42.7h0M79.7 43.9h0M80.1 42.1h0M81.0 43.1h0M80.0 42.9h0M80.5 41.1h0M80.3 43.5h0M81.5 42.4h0M80.7 42.3h0M80.4 42.8h0M80.9 41.6h0M80.9 41.9h0M81.2 41.9h0M81.1 43.6h0M80.6 42.0h0M80.7 43.9h0M81.8 43.6h0M82.2 41.1h0M81.2 42.5h0M82.1 43.2h0M81.8 41.3h0M81.6 43.7h0M81.8 44.2h0M82.0 43.0h0M82.7 42.9h0M81.9 43.5h0M81.8 43.6h0M82.2 43.9h0M81.9 41.7h0M82.7 43.6h0M82.1 41.0h0M81.8 41.7h0M83.1 42.1h0M82.4 43.9h0M82.5 43.6h0M83.0 43.0h0M82.5 42.5h0M83.5 43.4h0M83.2 43.3h0M83.5 40.7h0M83.2 41.3h0M83.2 41.9h0M83.3 42.6h0M83.3 43.6h0M84.3 43.4h0M83.9 41.9h0M83.0 40.9h0M83.1 40.6h0M83.6 43.1h0M84.2 39.6h0M83.9 42.7h0M83.9 43.3h0M84.4 41.9h0M84.4 42.8h0M84.7 43.6h0M84.7 41.3h0M85.2 42.3h0M85.1 43.3h0M85.1 43.6h0M85.3 42.2h0M84.6 41.1h0M85.4 42.8h0M86.1 42.5h0M85.0 39.6h0M85.0 41.9h0M84.6 43.3h0M84.7 42.8h0M85.5 39.9h0M86.0 40.5h0M85.8 43.1h0M85.9 43.0h0M85.9 41.0h0M85.9 42.6h0M85.6 43.3h0M87.4 42.6h0M86.3 39.5h0M86.3 43.1h0M86.4 41.7h0M86.2 41.9h0M86.2 42.4h0M87.1 42.7h0M86.9 43.5h0M87.0 41.8h0M86.9 42.6h0M87.3 43.3h0M87.1 40.9h0M86.7 43.3h0M88.0 42.7h0M87.9 42.7h0M87.5 43.3h0M87.3 43.6h0M87.8 42.5h0M89.0 40.5h0M88.4 42.2h0M87.8 42.7h0M87.8 44.2h0M88.8 42.5h0M88.0 43.6h0M88.5 42.4h0M88.5 43.3h0M88.0 44.1h0M88.7 41.3h0M88.8 41.7h0M89.4 41.1h0M89.1 42.7h0M89.4 41.6h0M88.9 44.0h0M89.1 42.3h0M88.9 42.6h0M89.0 43.0h0M89.7 42.8h0M89.4 44.0h0M90.1 40.9h0M89.8 42.5h0M88.9 43.5h0M89.7 44.1h0M89.7 44.0h0M89.9 44.4h0M89.6 43.1h0M89.8 43.5h0M90.4 43.2h0M89.9 43.4h0M90.7 42.7h0M90.7 41.9h0M90.5 43.0h0M91.1 42.9h0M90.5 43.7h0M91.1 42.7h0M90.7 43.2h0M91.1 42.4h0M90.9 44.4h0M91.5 44.3h0M91.7 43.0h0M92.1 42.5h0M91.4 44.6h0M92.3 43.1h0M91.1 44.4h0M92.1 44.3h0M91.4 44.2h0M91.8 44.6h0M92.1 44.6h0M92.2 44.2h0M92.1 43.1h0M93.0 43.6h0M93.1 44.0h0M92.1 44.9h0M92.3 43.8h0M93.3 43.3h0M91.8 45.6h0M93.9 44.2h0M92.6 43.9h0M92.7 44.1h0M93.3 43.9h0M94.0 42.2h0M92.9 45.3h0M94.2 44.9h0M92.6 45.1h0M94.5 43.5h0M93.8 44.5h0M92.6 45.4h0M94.3 43.6h0M94.5 43.7h0M94.3 45.4h0M95.6 42.9h0M94.8 43.8h0M95.1 44.6h0M94.5 45.0h0M96.8 42.6h0M96.0 44.6h0M94.4 45.0h0M94.8 45.2h0M94.7 46.3h0M93.4 46.0h0M97.0 43.8h0M94.9 45.8h0M96.3 45.9h0M95.0 45.6h0M93.5 46.2h0M95.4 45.9h0M94.5 46.9h0M94.3 47.3h0M94.0 47.1h0M97.1 46.1h0M95.9 45.6h0M95.1 47.0h0M95.7 47.3h0M94.0 47.2h0M95.1 47.9h0M93.9 47.5h0M95.1 47.4h0M96.0 47.8h0M95.0 48.0h0M95.0 47.9h0M95.2 47.5h0M96.9 47.6h0M95.3 47.7h0M96.0 48.2h0M95.8 48.1h0M95.4 48.9h0M96.8 48.5h0M95.6 48.0h0M95.4 49.3h0M96.5 49.0h0M98.7 48.8h0M95.5 49.6h0M95.1 49.2h0M97.1 49.4h0M96.9 49.1h0M94.3 49.2h0M97.0 48.9h0M95.9 49.5h0M96.0 50.1h0M97.0 50.4h0M94.9 50.0h0M96.6 49.5h0M96.7 50.8h0M95.0 49.9h0M95.5 49.8h0M95.5 50.2h0M95.6 50.3h0M95.5 51.0h0M95.0 50.8h0M94.8 50.2h0M94.6 51.3h0M95.8 51.1h0M94.7 50.8h0M95.3 51.4h0M95.2 51.2h0M94.7 51.9h0M97.9 52.3h0M95.6 52.0h0M96.4 52.3h0M95.6 51.5h0M95.0 51.7h0M95.0 51.5h0M99.2 52.9h0M95.4 52.0h0M94.5 51.8h0M96.4 52.0h0M94.5 52.4h0M94.8 52.1h0M94.8 51.7h0M94.7 51.8h0M96.9 53.3h0M95.8 53.1h0M95.1 53.2h0M96.2 53.8h0M95.6 54.0h0M95.3 53.3h0M94.0 54.0h0M97.2 54.2h0M94.8 53.6h0M94.1 53.7h0M95.0 54.1h0M95.2 53.8h0M94.1 53.3h0M94.2 54.3h0M93.8 53.7h0M93.5 53.7h0M96.0 54.4h0M94.0 53.7h0M93.9 54.4h0M93.8 53.9h0M95.0 55.3h0M93.9 54.5h0M97.9 56.1h0M93.9 55.0h0M93.0 54.7h0M94.4 55.5h0M93.3 54.3h0M94.5 55.0h0M92.5 54.3h0M93.0 54.5h0M93.6 55.1h0M95.2 55.9h0M95.2 57.4h0M93.5 55.7h0M93.2 55.2h0M92.7 54.8h0M93.2 55.7h0M94.2 56.2h0M92.6 55.1h0M93.3 55.3h0M93.2 56.8h0M92.3 55.5h0M94.6 56.9h0M93.0 56.9h0M91.9 55.9h0M92.2 56.1h0M92.1 55.0h0M93.0 55.9h0M92.0 55.4h0M92.4 56.8h0M93.6 57.3h0M91.6 55.6h0M92.6 56.9h0M94.0 57.7h0M92.8 57.6h0M92.3 57.1h0M91.1 55.8h0M92.9 57.5h0M91.6 56.4h0M91.1 57.1h0M91.6 56.5h0M92.4 58.3h0M91.5 56.1h0M91.3 56.7h0M90.7 57.2h0M90.6 56.5h0M91.7 57.6h0M91.6 57.9h0M90.8 57.1h0M90.3 57.1h0M91.5 58.1h0M90.3 57.7h0M90.6 57.0h0M91.4 58.9h0M90.0 56.8h0M90.7 58.2h0M90.8 58.4h0M90.3 58.4h0M90.4 57.8h0M90.5 57.8h0M90.2 57.8h0M90.4 57.9h0M91.1 58.6h0M90.8 58.4h0M88.9 58.2h0M91.1 59.1h0M90.3 59.6h0M89.4 58.2h0M90.1 58.9h0M90.3 59.4h0M90.7 59.9h0M89.3 57.9h0M89.6 58.6h0M89.0 57.6h0M89.0 58.0h0M89.4 58.6h0M88.6 59.4h0M88.4 58.0h0M88.7 58.5h0M89.5 59.7h0M89.0 59.6h0M88.5 58.6h0M89.5 60.5h0M89.1 59.7h0M87.5 58.5h0M88.8 60.2h0M88.6 59.9h0M87.8 59.8h0M89.0 59.7h0M88.7 59.3h0M88.6 60.7h0M88.5 59.4h0M87.5 59.3h0M87.4 58.7h0M89.1 61.5h0M87.9 58.8h0M87.8 59.4h0M87.0 59.6h0M88.0 59.3h0M87.9 61.2h0M87.6 62.1h0M86.8 58.8h0M87.4 61.2h0M87.1 60.6h0M87.4 59.9h0M86.9 60.9h0M87.6 61.8h0M86.6 61.0h0M87.0 59.6h0M86.7 60.0h0M86.5 60.0h0M85.6 59.4h0M86.2 59.9h0M85.2 59.6h0M86.3 59.9h0M86.3 60.3h0M85.2 59.1h0M86.0 60.1h0M86.2 61.1h0M85.6 60.3h0M85.1 59.6h0M85.5 61.3h0M85.3 59.7h0M85.8 61.1h0M85.3 60.6h0M85.4 61.0h0M85.0 61.6h0M84.9 62.3h0M85.2 60.6h0M84.7 60.4h0M84.9 59.7h0M84.9 60.5h0M84.3 59.6h0M83.8 59.9h0M84.3 61.1h0M84.3 60.3h0M84.0 59.9h0M83.8 61.0h0M83.7 60.4h0M83.6 60.3h0M83.9 59.7h0M83.6 61.2h0M83.3 60.5h0M83.6 60.6h0M83.3 63.0h0M83.2 62.5h0M83.4 60.7h0M82.4 63.0h0M83.0 59.2h0M83.0 60.4h0M82.1 61.0h0M82.9 61.4h0M82.7 59.6h0M82.1 63.0h0M82.4 60.2h0M82.1 59.7h0M81.7 61.7h0M82.3 61.3h0M81.3 60.2h0M81.6 59.3h0M81.0 63.2h0M81.3 59.6h0M81.6 62.2h0M80.5 62.2h0M81.4 60.2h0M80.5 60.7h0M81.3 61.1h0M80.6 61.0h0M81.5 60.1h0M80.7 60.2h0M81.0 60.7h0M81.0 61.1h0M80.5 59.6h0M80.6 60.5h0M80.2 61.6h0M81.0 59.4h0M79.7 59.7h0M79.2 60.3h0M80.2 59.9h0M78.9 61.6h0M79.9 60.2h0M78.5 63.0h0M79.7 61.4h0M79.1 61.1h0M79.3 60.2h0M78.6 61.8h0M79.0 61.0h0M79.5 59.6h0M78.1 60.2h0M79.0 59.3h0M79.9 58.2h0M78.3 60.2h0M78.2 60.6h0M79.4 59.4h0M79.0 59.6h0M77.6 60.1h0M78.4 59.9h0M78.2 59.6h0M77.7 59.7h0M77.8 59.1h0M78.9 58.4h0M78.4 58.5h0M77.5 59.4h0M77.6 59.0h0M78.1 59.4h0M78.0 59.6h0M77.9 59.0h0M76.8 59.8h0M78.7 58.2h0M78.4 58.0h0M78.0 58.3h0M76.5 59.1h0M77.0 58.9h0M76.1 59.6h0M76.1 58.4h0M76.5 58.0h0M77.6 58.2h0M77.5 57.8h0M76.9 57.4h0M77.3 57.0h0M77.8 56.8h0M77.0 57.2h0M74.5 58.9h0M76.4 58.2h0M77.1 57.0h0M75.4 57.6h0M77.2 57.1h0M76.5 57.2h0M75.7 57.5h0M76.6 55.7h0M76.8 56.1h0M75.5 57.3h0M76.3 55.9h0M76.5 56.8h0M75.5 56.2h0M77.8 55.8h0M75.4 56.0h0M74.2 56.3h0M76.4 55.8h0M76.9 55.6h0M74.4 56.3h0M75.3 56.2h0M76.0 55.6h0M74.2 56.0h0M74.0 56.4h0M75.9 55.2h0M75.6 54.8h0M76.3 55.5h0M74.5 55.8h0M75.2 55.2h0M75.7 55.0h0M75.4 54.8h0M76.7 54.6h0M75.8 55.3h0M72.5 54.9h0M74.6 54.5h0M75.1 55.0h0M75.6 54.6h0M73.9 54.6h0M75.3 54.1h0M73.2 54.8h0M73.6 54.1h0M75.1 54.5h0M75.7 53.3h0M75.9 53.9h0M75.2 54.0h0M75.3 53.5h0M75.2 53.3h0M75.2 53.9h0M76.6 53.1h0M75.5 53.6h0M74.6 53.3h0M75.2 53.1h0M74.8 53.3h0M75.7 53.5h0M75.4 52.3h0M75.4 52.2h0M75.1 52.8h0M73.6 52.7h0M76.0 52.2h0M73.7 52.4h0M75.0 52.9h0M76.0 51.9h0M76.4 51.8h0M76.1 51.7h0M75.5 52.3h0M73.6 51.9h0M75.9 51.9h0M74.7 51.7h0M74.9 52.2h0M73.1 51.7h0M75.6 51.2h0M75.6 50.7h0M74.7 51.1h0M74.4 51.2h0M76.2 51.2h0M73.7 51.2h0M74.7 50.8h0M74.6 50.9h0M74.3 50.6h0M74.6 50.7h0M75.4 50.5h0M75.4 50.6h0M73.8 51.0h0M74.4 51.0h0M75.7 50.2h0M76.1 50.3h0M72.4 50.5h0M71.5 51.1h0M74.7 49.9h0M74.4 49.9h0M75.9 49.9h0M72.3 50.4h0M71.5 50.1h0M73.1 50.3h0M73.5 50.2h0M75.5 49.1h0M75.6 49.3h0M73.8 49.6h0M75.3 49.7h0M75.6 49.2h0M74.0 49.7h0M75.2 49.1h0M75.0 48.9h0M74.6 48.8h0M73.5 49.2h0M73.7 49.3h0M73.7 49.4h0M74.4 47.7h0M75.1 48.3h0M75.2 47.5h0M74.7 48.5h0M72.8 49.6h0M70.9 50.1h0M72.9 48.7h0M73.8 48.6h0M72.3 49.1h0M73.2 48.9h0M74.5 47.7h0M73.3 48.7h0M72.9 48.0h0M74.1 48.0h0M74.3 47.6h0M73.9 47.4h0M73.4 48.0h0M74.4 47.2h0M73.2 48.1h0M73.4 47.9h0M74.4 47.2h0M73.9 46.8h0M73.5 47.6h0M73.5 47.0h0M72.4 47.3h0M74.0 46.6h0M73.5 47.3h0M72.9 46.9h0M71.1 47.5h0M72.6 46.9h0M74.0 46.1h0M72.5 46.4h0M71.8 46.8h0M72.2 46.5h0M73.1 45.2h0M72.8 45.9h0M73.5 46.0h0M73.1 45.7h0M72.6 45.5h0M72.8 45.1h0M73.2 44.0h0M74.4 45.1h0M73.7 42.8h0M74.2 41.2h0M75.0 43.5h0M74.0 39.1h0M74.0 35.4h0M76.3 44.1h0M76.1 42.3h0M76.4 42.7h0M77.1 42.3h0M77.3 42.6h0M77.9 41.7h0M77.1 41.1h0M78.0 41.1h0M77.0 32.2h0M77.7 39.7h0M78.8 44.5h0M79.4 43.2h0M79.5 37.0h0M79.7 39.3h0M80.7 42.3h0M81.0 41.2h0M81.3 43.4h0M81.4 37.8h0M81.8 38.0h0M82.3 41.6h0M82.4 40.0h0M83.5 41.9h0M83.5 38.1h0M83.5 41.3h0M84.4 41.5h0M84.9 39.3h0M85.6 37.7h0M85.4 41.4h0M85.7 42.4h0M86.2 37.9h0M86.7 38.9h0M87.2 37.0h0M87.9 37.6h0M88.4 40.5h0M89.0 42.5h0M88.8 43.3h0M88.9 43.9h0M90.1 41.4h0M90.2 41.3h0M90.6 40.1h0M90.4 43.8h0M92.9 37.9h0M91.4 43.6h0M93.4 40.2h0M92.9 41.9h0M94.1 42.4h0M93.4 43.5h0M94.3 42.4h0M94.8 43.3h0M94.0 45.0h0M98.4 41.5h0M96.7 44.5h0M96.5 45.1h0M95.4 46.3h0M96.4 46.1h0M98.9 45.2h0M99.0 46.9h0M95.1 48.3h0M94.9 48.0h0M99.4 47.4h0M98.6 48.9h0M98.9 48.9h0M99.5 49.0h0M100.0 50.4h0M97.5 50.8h0M98.2 50.9h0M95.2 51.0h0M101.5 53.0h0M94.6 51.3h0M98.3 53.6h0M97.6 53.5h0M97.1 53.8h0M97.5 54.7h0M93.8 53.6h0M98.3 56.8h0M95.2 55.1h0M97.3 56.9h0M94.7 56.5h0M97.0 58.7h0M93.4 55.1h0M96.5 59.1h0M96.4 59.8h0M92.5 57.0h0M92.2 56.2h0M93.0 57.6h0M91.8 57.5h0M95.6 62.0h0M91.8 58.7h0M91.6 59.7h0M90.5 57.8h0M90.9 58.3h0M89.9 58.5h0M90.1 60.6h0M90.0 59.6h0M89.0 57.7h0M88.9 59.0h0M89.3 60.5h0M88.2 59.7h0M88.4 60.4h0M88.9 61.9h0M89.3 63.0h0M87.0 59.0h0M87.1 60.3h0M87.4 61.6h0M86.6 61.0h0M86.8 60.6h0M87.6 65.9h0M85.9 64.1h0M85.1 62.3h0M84.9 63.7h0M84.6 61.7h0M83.7 60.6h0M83.6 61.7h0M83.1 63.1h0M83.2 63.0h0M83.2 59.6h0M82.1 61.7h0M81.7 59.7h0M82.4 61.0h0M80.7 66.5h0M80.8 59.9h0M80.3 62.8h0M80.8 61.4h0M80.3 60.3h0M78.8 65.5h0M79.6 60.1h0M78.9 59.6h0M78.2 60.2h0M73.6 65.8h0M75.0 63.1h0M77.1 59.8h0M69.9 66.9h0M77.1 57.8h0M75.4 59.2h0M76.5 57.1h0M76.3 57.8h0M75.3 57.7h0M75.3 57.5h0M76.8 55.6h0M77.4 55.7h0M74.7 56.2h0M74.0 55.3h0M75.8 54.9h0M76.0 55.0h0M73.1 55.3h0M74.1 54.1h0M74.7 53.3h0M74.6 53.6h0M70.7 54.2h0M75.2 52.6h0M76.1 52.3h0M68.2 52.5h0M71.5 51.5h0M75.2 51.5h0M70.8 51.9h0M72.2 51.3h0M69.8 51.2h0M72.7 50.3h0M72.4 49.9h0M64.6 52.9h0M72.8 50.0h0M73.9 49.7h0M74.7 48.4h0M73.6 48.6h0M73.2 48.5h0M74.3 47.9h0M72.9 47.8h0M72.9 47.3h0M67.2 50.6h0M73.4 46.4h0M71.8 44.8h0M68.5 57.0h0M56.2 49.8h0M69.7 55.6h0M62.4 52.1h0M68.9 55.2h0M63.8 49.6h0M64.4 56.2h0M72.3 48.3h0M66.2 51.6h0M62.4 50.0h0M71.2 54.4h0M63.5 47.3h0M66.3 43.2h0M68.5 51.1h0M60.3 49.4h0M63.6 49.2h0M62.6 57.4h0M62.1 54.4h0M68.0 57.8h0M66.6 50.6h0M67.3 41.1h0M78.9 49.5h0M65.3 44.9h0M66.2 58.6h0M63.1 52.7h0M72.1 55.3h0M64.9 41.9h0M68.9 53.4h0M65.3 48.4h0M75.7 42.7h0M64.4 47.5h0M59.1 47.1h0M62.9 56.7h0M58.2 43.7h0M68.2 42.9h0M56.9 47.5h0M60.9 45.7h0M66.1 52.8h0M63.7 49.2h0M70.5 49.8h0M70.6 47.6h0M69.3 56.9h0M60.0 65.4h0M65.3 48.9h0M66.1 52.9h0M60.9 50.8h0M64.0 57.6h0M58.3 53.8h0M65.3 46.9h0M67.6 49.4h0M67.1 51.7h0M72.9 48.6h0M76.0 56.6h0M74.7 51.5h0M68.3 45.6h0M73.6 44.8h0M62.9 50.6h0M68.1 52.2h0M61.1 48.9h0M69.3 56.4h0M70.7 52.6h0M65.6 47.9h0M64.3 50.1h0M69.5 48.1h0M77.2 45.6h0M71.0 49.6h0M66.2 48.7h0M74.6 49.1h0M69.7 51.2h0M70.6 53.5h0M75.1 47.0h0M62.8 58.9h0M73.3 50.9h0M65.5 51.8h0M73.4 46.8h0M74.1 50.3h0M65.1 48.6h0M56.5 52.2h0M60.3 47.8h0M62.4 51.7h0M70.5 50.8h0M67.9 52.6h0M74.9 53.4h0M74.7 50.3h0M68.7 47.4h0M69.9 46.4h0M69.3 47.5h0M65.1 56.6h0M67.6 54.5h0M65.7 41.4h0M74.2 49.7h0M63.7 55.2h0M61.3 46.9h0M72.6 47.2h0M72.5 49.1h0M65.9 50.9h0M64.4 55.8h0M72.4 50.9h0M69.9 53.2h0M75.3 42.8h0M72.0 55.1h0M65.3 50.6h0M65.2 56.6h0M61.2 53.6h0M73.3 53.4h0M64.5 48.3h0M56.4 45.5h0M72.4 45.9h0M58.7 49.4h0M59.5 52.8h0M62.6 55.2h0M66.3 43.6h0M63.1 47.4h0M62.7 56.6h0M61.9 52.4h0M64.0 53.5h0M59.8 42.9h0M69.5 57.6h0M60.0 49.0h0M64.4 46.0h0M71.7 50.8h0M60.0 49.5h0M73.6 47.1h0M64.3 46.5h0M67.7 47.9h0M71.4 46.5h0M59.7 52.8h0M51.1 45.9h0M68.3 51.8h0M64.0 48.4h0M62.9 49.7h0M64.6 53.3h0M67.0 53.3h0M75.1 49.2h0M65.5 52.4h0M77.4 48.8h0M75.3 56.4h0M53.3 45.7h0M62.0 52.5h0M73.5 50.9h0M67.7 61.2h0M68.7 61.1h0M62.5 58.7h0M64.4 38.7h0M62.8 48.3h0M66.7 54.3h0M70.4 53.1h0M63.2 59.3h0M72.9 50.8h0M64.1 50.4h0M65.8 47.2h0M66.9 47.3h0M70.1 47.4h0M69.4 52.2h0M67.8 53.2h0M61.8 63.2h0M63.5 54.2h0M67.0 48.5h0M75.6 56.0h0M65.6 53.4h0M70.3 58.3h0M72.0 49.8h0M65.7 44.9h0M68.2 54.8h0M65.0 53.8h0M67.6 48.3h0M60.8 56.0h0M79.6 53.3h0M61.5 45.5h0M68.2 53.8h0M74.5 38.7h0M76.2 51.4h0M67.6 52.5h0M65.2 49.2h0M72.2 42.1h0M66.4 53.3h0M58.7 49.8h0M74.6 52.4h0M70.5 54.1h0M68.0 52.3h0M62.9 49.5h0M76.2 44.5h0M66.1 44.3h0M64.3 46.8h0M60.8 51.8h0M62.2 53.2h0M66.1 40.3h0M66.3 52.4h0M68.0 56.5h0M67.7 42.1h0M74.5 45.9h0M66.5 52.2h0M62.6 51.0h0M74.4 42.3h0M58.6 48.4h0M66.1 44.3h0M55.4 55.1h0M68.9 44.0h0M69.8 50.3h0M67.8 44.0h0M65.9 52.9h0M58.2 45.4h0M71.8 60.4h0M70.3 50.2h0M61.5 48.6h0M65.7 52.8h0M65.7 62.8h0M73.6 39.7h0M61.1 50.6h0M71.9 52.6h0M53.2 42.4h0M73.7 53.5h0M79.8 54.5h0M69.3 58.1h0M64.7 47.9h0M61.9 51.8h0M69.2 55.2h0M74.2 53.7h0M73.1 49.3h0M62.2 54.2h0M72.1 57.2h0M66.2 48.2h0M65.2 52.3h0M66.7 49.6h0M68.3 49.1h0M68.7 47.6h0M59.2 49.0h0M76.5 46.5h0M71.6 57.2h0M64.3 51.8h0M55.5 53.4h0M74.7 51.5h0M57.0 47.7h0M63.3 51.1h0M68.4 48.5h0M65.4 46.5h0M69.9 51.5h0M68.7 48.0h0M69.5 49.1h0M68.5 49.8h0M63.7 45.1h0M57.6 43.7h0M58.8 46.5h0M66.0 44.7h0M69.1 61.0h0M53.0 44.7h0M73.2 44.7h0M66.5 47.4h0M70.8 43.3h0M68.5 51.6h0M69.8 52.7h0M67.8 41.7h0M65.4 45.8h0M69.7 49.4h0M67.8 56.1h0M66.5 59.0h0M71.2 43.1h0M64.1 56.6h0M64.5 56.5h0M64.2 49.9h0M72.1 42.6h0M67.4 48.3h0M67.8 59.1h0M69.5 43.8h0M71.8 48.3h0M67.8 56.3h0M65.4 55.3h0M67.9 46.0h0M65.4 43.7h0M72.9 51.3h0M71.8 44.9h0M71.2 44.5h0M68.4 50.5h0M64.0 52.1h0M67.2 46.2h0M63.3 44.0h0M73.9 51.3h0M65.2 54.0h0M62.7 44.7h0M68.8 58.5h0M68.5 51.3h0M75.7 42.7h0M82.3 45.0h0M66.6 43.8h0M60.9 49.3h0M79.2 45.8h0M63.9 51.9h0M61.9 49.2h0M71.1 39.6h0M65.5 49.0h0M64.4 49.9h0M58.0 48.3h0M64.4 45.3h0M73.3 60.6h0M71.0 46.1h0M74.1 53.0h0M62.9 53.5h0M64.1 53.4h0M71.6 56.3h0M61.7 49.9h0M67.0 44.4h0M69.1 54.0h0M60.1 47.7h0M61.5 44.1h0M61.7 57.4h0M63.7 48.5h0M71.9 55.7h0M74.0 40.0h0M70.8 41.7h0M63.8 48.4h0M64.1 60.4h0M66.2 56.4h0M66.1 50.2h0M69.6 52.7h0M69.5 41.8h0M69.5 52.1h0M70.0 50.2h0M69.0 43.9h0M72.7 44.4h0M74.0 55.6h0M66.7 49.0h0M70.9 49.0h0M61.1 51.9h0M60.9 48.2h0M76.0 54.6h0M64.7 50.2h0M63.8 50.4h0M59.8 53.9h0M67.1 47.4h0M63.9 63.8h0M64.8 48.1h0M64.1 48.0h0M73.5 53.9h0M69.1 52.4h0M61.3 38.3h0M74.6 54.1h0M68.1 51.9h0M68.0 50.6h0M65.7 39.2h0M69.8 50.7h0M71.9 52.1h0M65.6 53.6h0M67.9 48.3h0M65.1 48.4h0M65.5 48.2h0M71.9 65.3h0M66.4 56.2h0M64.6 49.7h0M63.3 43.6h0M62.7 47.9h0M67.8 48.8h0M61.0 48.6h0M74.6 46.0h0M67.3 55.6h0M63.0 47.6h0M81.5 56.8h0M64.4 51.3h0M67.5 51.2h0M69.3 49.0h0M55.9 45.6h0M67.8 43.6h0M65.4 58.1h0M68.2 47.2h0M67.7 55.8h0M58.4 44.2h0M63.7 48.3h0M66.6 47.6h0M67.5 50.9h0M61.2 47.3h0M60.8 52.0h0M68.3 53.8h0M62.6 47.8h0M55.9 50.6h0M58.9 52.2h0M72.4 52.7h0M70.1 51.6h0M68.9 55.2h0M73.3 60.7h0M65.7 54.7h0M71.3 52.7h0M68.3 44.1h0M72.4 46.0h0M63.7 46.2h0M69.8 45.6h0M69.3 53.3h0M67.5 48.8h0M70.0 57.1h0M64.7 45.2h0M64.0 46.1h0M65.8 49.7h0M55.5 57.9h0M62.9 48.3h0M57.2 40.6h0M61.9 51.7h0M71.2 41.4h0M68.1 58.1h0M65.6 55.1h0M68.6 45.8h0M72.0 47.4h0M68.8 48.5h0M65.9 51.3h0M73.6 42.0h0M61.4 51.0h0M71.9 49.6h0M66.1 53.2h0M74.9 45.9h0M59.0 49.1h0M70.8 43.9h0M72.6 55.2h0M70.9 46.2h0M60.5 53.8h0M68.3 54.0h0M72.6 55.5h0M65.6 50.5h0M69.3 54.3h0M66.1 47.9h0M62.1 55.7h0M68.7 47.6h0M60.6 47.9h0M60.6 48.2h0M64.3 53.1h0M61.9 41.3h0M64.0 43.6h0M70.7 49.5h0M58.7 46.1h0M66.9 50.3h0M57.8 49.8h0M68.5 55.5h0M72.5 49.9h0M60.5 48.6h0M70.2 45.9h0M73.3 45.7h0M61.4 54.7h0M66.5 52.1h0M65.5 50.6h0M64.1 60.0h0M70.3 49.9h0M69.4 54.7h0M64.4 51.4h0M68.0 47.6h0M63.1 49.5h0M65.5 48.4h0M57.3 50.9h0M70.3 50.9h0M75.5 54.8h0M65.2 47.1h0M69.5 48.6h0M58.9 51.1h0M65.5 49.4h0M70.1 51.5h0M77.1 46.8h0M66.5 52.0h0M64.8 47.9h0M75.7 43.2h0M68.7 41.7h0M68.7 40.8h0M61.2 56.2h0M74.7 51.1h0M53.4 55.6h0M68.2 44.9h0M65.2 43.9h0M66.5 50.1h0M67.6 54.5h0M63.8 39.4h0M61.2 44.2h0M65.2 48.3h0M66.8 57.4h0M67.1 45.1h0M65.5 46.1h0M65.8 53.4h0M61.4 54.0h0M75.9 58.1h0M75.1 50.9h0M60.3 60.6h0M66.7 51.7h0M65.2 45.8h0M70.1 43.5h0M60.1 53.3h0M65.1 46.3h0M69.5 57.6h0M65.6 49.8h0M69.8 55.2h0M72.1 53.9h0M63.7 53.2h0M67.0 42.0h0M73.2 53.4h0M73.8 50.2h0M70.6 50.1h0M67.8 55.1h0M67.3 53.6h0M66.8 56.6h0M70.2 42.2h0M75.3 52.7h0M64.5 47.4h0M76.9 50.9h0M69.5 53.5h0M64.0 59.2h0M77.5 46.6h0M72.7 42.4h0M65.3 50.8h0M67.3 53.3h0M69.0 52.4h0M66.3 52.0h0M64.2 60.3h0M67.3 56.7h0M67.5 49.8h0M66.1 44.1h0M77.3 52.6h0M67.7 48.2h0M73.4 48.9h0M64.7 47.8h0M74.7 52.1h0M66.3 47.3h0M73.4 51.9h0M65.4 55.0h0M71.4 45.5h0M72.7 55.9h0M65.8 43.9h0M72.4 48.8h0M66.0 49.1h0M65.7 54.7h0M61.6 53.2h0M72.8 55.8h0M70.6 51.8h0M66.0 49.9h0M62.7 58.8h0M66.4 45.5h0M71.1 58.0h0M68.4 48.9h0M61.5 53.7h0M65.8 47.2h0M70.0 44.1h0M70.7 38.4h0M64.0 43.4h0M65.8 54.5h0M60.6 57.3h0M63.7 48.1h0M71.9 46.9h0M74.2 49.5h0M66.6 45.7h0M72.7 50.2h0M64.7 45.8h0M63.9 50.0h0M63.5 54.5h0M66.9 47.4h0M69.3 57.6h0M56.8 52.3h0M72.4 51.2h0M71.1 42.9h0M63.4 55.5h0M66.6 50.8h0M70.1 52.3h0M69.3 48.1h0M65.6 57.0h0M64.6 43.4h0M65.3 54.9h0M75.9 51.3h0M64.0 53.5h0M68.5 56.3h0M69.6 54.2h0M69.6 52.6h0M62.6 49.7h0M74.9 57.1h0M71.8 52.5h0M66.5 52.2h0M65.5 55.9h0M65.6 46.8h0M59.2 58.2h0M63.4 46.3h0M69.1 59.4h0M70.4 48.9h0M69.9 46.4h0M65.9 50.7h0M67.2 54.4h0M69.7 59.8h0M71.2 49.1h0M68.4 46.3h0M64.1 48.8h0M72.1 47.1h0M59.5 45.5h0M61.3 49.6h0M65.6 44.8h0M63.3 48.5h0M69.0 53.5h0M73.6 49.2h0M70.2 50.9h0M61.8 47.4h0M77.8 49.7h0M75.2 54.6h0M75.2 49.6h0M71.7 49.0h0M61.8 44.8h0M69.3 42.6h0M68.9 46.2h0M68.9 43.8h0M71.3 49.4h0M59.7 43.4h0M67.5 42.5h0M68.8 52.9h0M64.0 57.4h0M74.2 52.1h0M69.4 52.8h0M65.9 57.0h0M67.3 52.7h0M71.2 45.1h0M73.9 46.5h0M70.2 54.1h0M68.1 56.1h0M64.8 60.6h0M69.6 48.5h0M79.8 50.5h0M59.3 57.5h0M74.7 47.7h0M62.4 56.1h0M67.5 45.8h0M64.9 50.8h0M72.0 58.2h0M64.2 58.1h0M59.9 54.0h0M66.5 52.7h0M65.1 47.0h0M68.6 56.1h0M56.5 50.8h0M65.3 45.2h0M60.7 53.1h0M69.9 53.7h0M57.6 43.0h0M64.2 48.4h0M75.7 48.6h0M67.8 55.4h0M75.3 52.3h0M68.9 60.0h0M65.3 41.7h0M63.6 49.0h0M73.5 52.1h0M73.0 51.0h0M67.4 47.7h0M61.2 53.0h0M69.0 53.3h0M64.6 48.4h0M69.0 53.5h0M76.8 46.2h0M72.0 54.9h0M65.9 51.2h0M66.9 58.0h0M79.5 52.1h0M66.0 55.2h0M69.6 49.6h0M70.9 54.8h0M65.3 54.7h0M56.4 44.2h0M65.7 51.3h0M60.2 57.8h0M65.4 51.3h0M67.0 54.2h0M64.4 54.2h0M63.2 43.2h0M69.7 51.3h0M71.5 41.0h0M67.7 47.3h0M66.3 48.6h0M65.4 47.2h0M72.1 42.0h0M59.1 52.2h0M76.9 46.8h0M62.8 44.8h0M62.3 56.7h0M70.5 55.0h0M68.9 51.7h0M64.4 45.7h0M70.2 62.7h0M65.4 56.8h0M63.8 50.7h0M75.4 50.1h0M70.3 47.7h0M76.3 44.4h0M69.9 49.3h0M68.2 52.3h0M73.6 54.8h0M72.3 52.3h0M62.0 57.1h0M74.6 52.9h0M71.1 49.4h0M60.2 55.4h0M63.7 60.0h0M70.5 50.4h0M64.2 51.0h0M62.3 48.7h0M74.9 49.1h0M76.1 50.0h0M69.2 45.9h0M65.8 48.3h0M60.5 60.1h0M70.1 50.1h0M61.9 50.7h0M62.1 45.7h0M66.3 61.2h0M58.8 53.3h0M60.4 49.8h0M67.5 46.8h0M75.8 53.2h0M64.1 42.4h0M68.0 47.2h0M72.1 45.3h0M73.0 48.2h0M68.1 49.2h0M70.2 56.2h0M64.6 46.0h0M76.4 55.2h0M76.4 55.2h0M67.8 58.6h0M63.9 48.4h0M65.2 53.9h0M63.1 49.6h0M63.1 49.3h0M72.6 56.0h0M66.1 63.1h0M63.8 52.8h0M64.9 39.5h0M61.4 56.7h0M59.1 65.0h0M66.6 51.9h0M73.3 50.7h0M64.1 47.5h0M62.6 53.2h0M64.9 53.1h0M59.9 48.4h0M77.2 52.3h0M66.7 56.4h0M68.5 58.1h0M61.5 54.3h0M62.0 53.9h0M79.1 58.1h0M63.0 52.6h0M69.4 46.9h0M68.3 45.2h0M71.9 55.0h0M66.4 53.9h0M78.7 49.7h0M58.1 52.2h0M65.0 46.6h0M71.5 55.5h0M70.0 58.6h0M64.1 48.4h0M53.9 52.2h0M66.1 50.8h0M62.5 51.6h0M72.3 47.4h0M69.9 49.7h0M66.4 51.1h0M74.5 53.1h0M70.5 51.3h0M56.7 55.2h0M67.0 51.0h0M64.7 42.8h0M74.4 59.6h0M74.8 41.4h0M69.8 44.6h0M66.2 47.9h0M64.1 46.7h0M64.8 54.4h0M75.0 55.1h0M67.1 49.8h0M65.9 50.4h0M64.1 49.6h0M71.2 49.4h0M63.1 49.9h0M67.5 50.1h0M65.8 54.0h0M66.9 45.5h0M69.9 47.0h0M70.9 54.6h0M69.5 52.0h0M60.5 49.5h0M67.7 53.7h0M61.6 49.7h0M59.6 51.4h0M67.5 51.1h0M75.2 54.2h0M66.2 47.6h0M64.9 54.4h0M71.6 48.0h0M66.5 48.4h0M70.5 51.5h0M63.6 46.1h0M73.5 43.5h0M77.0 47.8h0M71.3 53.3h0M71.2 56.2h0M64.8 50.4h0M71.9 53.3h0M63.4 46.8h0M60.0 51.8h0M64.5 42.8h0M64.4 52.1h0M68.0 49.4h0M67.9 53.8h0M61.2 46.5h0M71.9 54.2h0M60.2 46.9h0M74.2 54.3h0M66.4 55.6h0M73.8 57.5h0M60.3 44.1h0M64.6 50.3h0M65.4 51.7h0M74.4 56.0h0M72.0 50.5h0M75.2 52.8h0M68.3 50.4h0M58.1 61.2h0M67.0 55.0h0M78.2 49.6h0M61.4 55.6h0M68.3 45.8h0M71.8 50.6h0M62.2 52.4h0M62.0 55.3h0M77.9 52.1h0M68.2 50.1h0M71.3 50.7h0M72.2 57.6h0M71.3 45.7h0M70.4 49.2h0M68.6 55.3h0M63.8 51.5h0M74.3 46.4h0M66.1 54.1h0M66.0 55.6h0M62.1 43.1h0M69.0 49.8h0M68.6 55.3h0M72.3 48.8h0M65.2 40.9h0M62.3 51.7h0M68.2 43.2h0M71.0 50.3h0M72.5 48.8h0M71.9 45.0h0M57.9 46.5h0M70.5 52.5h0M57.8 51.2h0M70.4 58.8h0M70.9 53.0h0M59.3 52.4h0M57.4 49.1h0M65.3 45.7h0M62.1 49.8h0M70.0 47.3h0M68.6 54.0h0M67.0 60.0h0M65.5 46.9h0M57.7 55.8h0M70.4 49.6h0M68.6 49.9h0M71.4 50.5h0M68.2 50.1h0M62.7 39.6h0M69.8 44.4h0M69.1 53.7h0M76.4 46.8h0M67.8 55.2h0M63.8 47.6h0M69.3 60.7h0M72.4 55.2h0M62.3 53.8h0M72.7 44.3h0M67.1 49.6h0M70.3 41.9h0M70.6 50.5h0M65.8 40.1h0M56.8 47.8h0M70.3 52.6h0M70.8 42.1h0M68.1 57.2h0M59.4 53.7h0M63.5 53.2h0M67.6 42.5h0M61.9 56.8h0M66.5 56.6h0M68.8 54.9h0M65.1 51.6h0M65.2 55.0h0M64.2 56.0h0M74.9 44.5h0M66.2 53.2h0M75.9 56.2h0M67.5 42.0h0M71.2 47.6h0M68.0 52.5h0M60.1 55.8h0M71.6 53.3h0M70.0 52.3h0M60.2 48.0h0M71.1 48.9h0M67.2 52.3h0M67.5 51.8h0M69.5 50.5h0M61.6 49.2h0M71.8 47.2h0M69.4 52.0h0M67.0 46.7h0M64.0 55.1h0M63.3 52.2h0M67.7 51.5h0M76.9 40.8h0M71.8 49.8h0M65.7 47.2h0M67.3 50.7h0M62.5 58.6h0M63.4 49.8h0M60.8 51.3h0M68.8 55.8h0M71.9 48.1h0M75.0 50.0h0M74.7 58.9h0M65.1 45.2h0M69.7 57.6h0M69.0 55.9h0M70.0 54.9h0M73.6 49.1h0M60.1 49.9h0M63.2 44.7h0M66.2 54.0h0M58.0 43.1h0M71.0 46.2h0M65.1 57.1h0M72.6 52.3h0M69.8 52.4h0M60.2 51.4h0M69.3 49.9h0M71.0 54.8h0M67.3 49.3h0M61.2 56.1h0M64.2 52.1h0M74.6 54.3h0M60.8 50.1h0M63.6 42.4h0M63.1 53.4h0M68.7 49.5h0M67.9 44.8h0M63.3 49.7h0M71.0 48.9h0M66.2 52.1h0M74.3 44.3h0M69.7 51.4h0M66.7 51.7h0M57.3 50.7h0M65.9 44.5h0M71.2 49.9h0M65.4 54.2h0M62.5 47.0h0M71.1 54.8h0M77.0 48.3h0M59.9 43.2h0M61.2 51.0h0M65.9 47.2h0M62.1 47.1h0M65.3 56.3h0M70.1 57.2h0M71.1 54.2h0M72.9 52.7h0M74.6 56.0h0M76.0 51.6h0M63.2 62.8h0M65.7 53.1h0M65.2 47.1h0M69.2 45.0h0M66.3 57.4h0M67.7 54.5h0M70.2 52.4h0M67.6 53.5h0M62.3 53.4h0M61.8 46.8h0M64.2 44.0h0M57.3 52.4h0M69.5 53.7h0M77.9 51.4h0M70.7 46.9h0M70.5 44.9h0M76.8 45.8h0M65.0 54.2h0M56.2 57.1h0M62.4 51.5h0M71.9 51.3h0M71.6 48.0h0M70.0 39.9h0M74.5 47.3h0M62.8 50.6h0M75.4 47.1h0M66.9 48.7h0M62.4 44.1h0M69.9 54.0h0M63.3 51.6h0M69.2 52.4h0M66.2 50.7h0M68.4 45.3h0M66.3 54.4h0M64.3 56.9h0M65.8 45.1h0M65.6 43.9h0M70.0 42.7h0M67.1 49.4h0M65.5 52.6h0M68.4 47.8h0M71.1 48.3h0M71.5 57.1h0M68.9 55.0h0M60.4 53.3h0M59.7 49.6h0M63.2 46.7h0M62.4 50.6h0M70.2 44.8h0M64.0 41.4h0M63.5 40.3h0M59.6 52.8h0M71.3 46.5h0M68.7 46.7h0M72.3 59.1h0M54.9 46.3h0M63.9 48.2h0M74.7 58.2h0M66.9 53.6h0M59.2 49.0h0M65.6 49.8h0M68.5 42.9h0M61.9 61.0h0M58.5 50.8h0M70.6 52.9h0M67.3 42.6h0M64.7 42.9h0M76.7 52.3h0M70.6 51.5h0M65.1 56.3h0M71.4 53.6h0M69.9 54.1h0M65.6 52.6h0M67.4 49.3h0M70.2 61.0h0M57.0 57.5h0M64.9 56.4h0M62.0 49.6h0M72.1 50.2h0M68.7 44.6h0M61.4 58.7h0M67.8 50.1h0M60.2 45.4h0M61.9 50.3h0M66.4 47.5h0M63.7 51.0h0M72.8 43.6h0M60.0 56.0h0M60.0 48.5h0M67.6 59.4h0M66.6 55.8h0M67.7 46.5h0M67.9 40.4h0M71.1 57.8h0M66.0 54.5h0M61.8 57.7h0M63.8 46.6h0M63.2 41.8h0M70.3 60.3h0M60.0 49.5h0M69.2 47.7h0M59.3 52.1h0M72.0 51.0h0M61.7 49.0h0M57.5 50.2h0M73.0 55.9h0M66.6 52.6h0M64.4 51.1h0M64.1 51.3h0M64.5 51.5h0M70.4 50.4h0M60.6 53.0h0M65.8 48.1h0M69.8 46.4h0M71.6 53.2h0M63.6 47.1h0M66.4 46.1h0M71.7 39.4h0M67.7 48.8h0M61.6 53.6h0M64.6 52.7h0M64.9 49.1h0M69.6 55.2h0M71.9 50.4h0M74.3 48.8h0M60.3 41.3h0M59.9 46.3h0M58.2 52.1h0M67.2 50.3h0M68.2 50.0h0M65.8 48.9h0M67.2 45.0h0M73.3 58.1h0M67.2 61.7h0M62.2 54.9h0M59.0 53.5h0M63.3 55.4h0M67.6 55.2h0M70.0 53.1h0M65.7 58.3h0M68.8 52.9h0M74.1 49.2h0M75.6 55.8h0M67.4 43.4h0M73.0 49.0h0M67.5 51.1h0M71.7 53.6h0M58.0 47.3h0M68.7 51.4h0M70.9 53.3h0M75.0 47.0h0M73.4 52.4h0M68.5 53.9h0M65.4 54.0h0M66.0 54.1h0M63.3 56.3h0M59.5 47.3h0M66.8 51.7h0M63.1 48.5h0M68.3 55.7h0M73.4 48.2h0M66.7 49.0h0M59.5 48.3h0M72.6 43.9h0M81.1 55.3h0M75.5 51.4h0M55.7 52.7h0M74.8 47.7h0M73.3 54.2h0M70.9 54.2h0M69.9 53.7h0M72.9 52.6h0M70.1 52.6h0M67.7 46.2h0M58.2 45.5h0M60.9 43.2h0M70.4 48.9h0M73.3 65.9h0M70.8 48.2h0M68.9 49.5h0M68.4 60.8h0M74.9 56.8h0M68.4 59.3h0M71.1 54.9h0M61.3 47.5h0M67.9 49.4h0M64.5 40.7h0M63.4 50.0h0M68.6 45.2h0M66.4 59.4h0M67.8 40.8h0M66.1 50.5h0M73.3 51.5h0M73.8 52.2h0M72.8 57.2h0M74.6 51.5h0M61.0 51.5h0M69.4 47.1h0M71.1 49.7h0M70.9 51.5h0M62.5 55.7h0M76.9 55.1h0M68.4 42.0h0M68.6 50.4h0M63.2 41.1h0M69.2 55.3h0M70.5 61.8h0M57.7 52.3h0M66.9 57.6h0M66.9 45.7h0M66.8 52.7h0M63.4 46.6h0M68.4 54.8h0M65.9 52.9h0M64.6 48.8h0M68.0 55.3h0M74.8 49.9h0M69.3 60.3h0M71.1 48.8h0M69.1 43.5h0M56.8 46.8h0M63.5 43.9h0M72.1 48.3h0M67.5 50.9h0M66.1 44.7h0M76.5 40.7h0M66.9 54.0h0M66.1 50.0h0M68.6 51.7h0M65.4 55.9h0M69.5 58.0h0M67.5 40.7h0M59.0 48.0h0M69.3 42.5h0M64.3 56.7h0M68.7 47.0h0M66.5 51.1h0M65.0 49.0h0M64.0 51.6h0M74.8 57.7h0M61.0 62.0h0M66.5 43.6h0M59.8 51.2h0M68.2 47.4h0M63.2 49.5h0M68.3 53.9h0M69.8 38.8h0M64.2 51.8h0M68.9 54.5h0M59.8 58.3h0M61.3 49.5h0M64.8 48.2h0M63.3 54.6h0M70.9 52.3h0M60.9 47.4h0M66.8 52.5h0M64.4 49.2h0M79.9 50.8h0M65.6 38.4h0M63.4 58.6h0M71.2 44.6h0M70.9 51.4h0M63.2 54.5h0M64.1 49.0h0M67.2 51.6h0M65.0 52.0h0M67.1 51.5h0M69.0 47.4h0M60.4 50.2h0M73.1 52.2h0M68.2 46.9h0M61.5 44.4h0M62.6 48.7h0M59.6 49.9h0M59.5 53.8h0M67.0 41.8h0M64.4 51.7h0M68.9 54.4h0M65.4 49.8h0M66.0 53.2h0M63.7 49.7h0M67.8 48.8h0M61.8 57.3h0M69.5 46.0h0M76.6 46.7h0M62.9 48.7h0M69.7 57.9h0M73.7 53.3h0M67.4 53.8h0M63.3 47.1h0M69.7 51.5h0M68.2 45.5h0M68.3 43.4h0M71.6 50.6h0M64.0 48.2h0M63.7 57.3h0M53.0 56.1h0M67.2 51.8h0M62.5 44.0h0M68.2 48.3h0M69.5 55.8h0M66.5 53.2h0M67.9 51.7h0M64.6 51.7h0M69.2 50.9h0M64.9 43.3h0M61.9 58.3h0M72.0 52.0h0M68.5 49.8h0M70.4 55.3h0M65.9 52.1h0M71.7 42.7h0M62.6 47.7h0M61.5 48.4h0M63.0 48.6h0M69.4 44.7h0M67.6 57.4h0M68.0 44.5h0M64.2 56.3h0M65.8 47.4h0M70.9 47.0h0M61.7 53.6h0M67.2 47.3h0M69.3 56.0h0M72.3 51.0h0M69.3 53.0h0M59.9 58.8h0M63.9 47.8h0M63.1 45.8h0M72.4 50.6h0M64.3 41.5h0M67.9 50.3h0M62.1 50.1h0M58.3 53.8h0M61.2 53.0h0M67.6 40.0h0M61.7 47.3h0M70.9 53.5h0M70.1 58.8h0M65.7 48.0h0M58.1 45.4h0M69.8 46.4h0M62.9 55.3h0M55.2 57.4h0M73.3 41.7h0M69.4 50.5h0M71.5 48.9h0M66.5 57.5h0M64.2 52.6h0M70.1 50.0h0M71.3 53.1h0M71.1 42.1h0M62.1 52.0h0M72.7 57.6h0M67.2 46.9h0M61.8 40.9h0M64.7 53.4h0M66.8 43.2h0M66.6 50.8h0M63.5 57.8h0M69.2 56.0h0M67.6 45.7h0M72.3 56.0h0M64.3 44.0h0M71.0 47.7h0M61.5 50.1h0M69.8 46.8h0M67.3 55.5h0M70.7 42.8h0M70.5 59.3h0M71.5 50.1h0M68.9 42.7h0M64.3 48.0h0M77.1 50.6h0M62.4 58.9h0M73.0 42.4h0M66.1 42.2h0M72.1 39.3h0M76.0 45.3h0M62.1 61.0h0M69.7 52.3h0M71.2 45.6h0M71.3 49.2h0M69.6 51.7h0M73.7 44.2h0M60.4 53.8h0M78.4 53.3h0M66.3 53.9h0M61.3 51.0h0M59.1 51.1h0M70.6 59.0h0M64.7 55.2h0M73.5 45.4h0M65.8 41.3h0M62.9 52.7h0M57.4 49.1h0M70.6 57.7h0M55.1 52.5h0M64.2 39.1h0M62.2 53.5h0M67.0 54.0h0M65.7 53.8h0M62.4 45.7h0M66.3 41.9h0M73.0 49.3h0M62.4 46.3h0M62.5 51.2h0M65.3 54.8h0M61.6 50.2h0M59.9 48.2h0M73.6 50.0h0M71.4 50.2h0M61.9 46.2h0M61.7 52.3h0M68.2 65.2h0M75.1 54.8h0M62.4 51.1h0M62.8 62.3h0M63.6 56.4h0M60.6 54.4h0M61.2 48.2h0M67.9 51.2h0M66.8 50.2h0M63.0 50.0h0M66.8 45.9h0M69.8 51.4h0M63.5 57.0h0M64.4 41.1h0M73.1 48.7h0M74.1 52.7h0M62.8 56.1h0M69.3 55.2h0M67.3 58.3h0M71.5 48.9h0M59.9 50.3h0M67.4 45.6h0M66.2 58.0h0M64.8 56.2h0M62.6 45.7h0M71.6 49.7h0M68.1 55.7h0M74.9 44.4h0M69.9 51.7h0M67.8 59.5h0M65.9 47.6h0M69.5 40.4h0M68.8 46.1h0M68.6 46.8h0M69.5 49.3h0M63.7 53.2h0M70.7 42.5h0M60.9 49.2h0M65.3 57.2h0M74.7 52.9h0M72.3 48.9h0M60.5 52.1h0M58.7 58.7h0M68.3 56.4h0M64.0 42.5h0M66.1 53.0h0M66.0 48.0h0M67.4 49.6h0M73.7 44.0h0M56.5 50.1h0M68.4 42.9h0M66.9 52.8h0M68.7 52.1h0M63.5 43.3h0M71.6 48.8h0M60.5 58.3h0M79.4 51.3h0M59.4 55.3h0M68.6 56.8h0M67.1 42.2h0M66.3 48.4h0M68.4 49.6h0M69.7 44.4h0M64.4 47.9h0M69.0 42.0h0M67.1 62.5h0M58.4 55.7h0M67.5 55.5h0M67.3 51.8h0M68.8 52.8h0M61.3 49.9h0M75.8 57.6h0M63.0 45.8h0M66.2 55.8h0M71.4 47.6h0M55.7 50.3h0M59.1 56.5h0M74.1 53.9h0M69.9 53.4h0M75.9 56.0h0M74.0 44.8h0M64.6 50.5h0M56.4 49.1h0M66.9 50.2h0M79.1 49.5h0M66.1 49.9h0M65.4 43.4h0M72.4 50.6h0M68.8 50.7h0M63.3 42.5h0M65.7 53.2h0M66.5 54.2h0M63.3 49.1h0M67.8 50.0h0M67.9 57.7h0M65.0 51.2h0M63.9 53.3h0M68.1 46.8h0M62.2 44.5h0M65.7 51.3h0M64.7 50.0h0M67.7 62.3h0M72.7 62.2h0M67.7 51.6h0M76.4 52.4h0M70.2 48.0h0M64.4 54.4h0M64.2 47.2h0M59.9 52.0h0M66.6 53.3h0M62.9 44.3h0M72.3 50.6h0M70.8 44.8h0M68.5 55.5h0M73.4 59.4h0M58.3 45.0h0M64.5 46.5h0M66.0 46.5h0M60.0 50.3h0M67.6 46.7h0M67.2 44.0h0M65.4 48.8h0M64.8 50.1h0M60.9 43.8h0M63.0 54.2h0M62.5 45.8h0M76.5 49.2h0M65.2 46.1h0M74.1 53.2h0M68.3 58.5h0M61.3 42.1h0M72.3 52.7h0M64.5 54.5h0M66.6 60.3h0M60.9 52.3h0M71.7 55.0h0M65.3 48.5h0M64.9 54.0h0M65.1 49.8h0M71.9 50.0h0M68.2 49.9h0M67.0 39.4h0M62.5 52.4h0M63.9 47.4h0M67.3 62.0h0M63.4 45.7h0M58.4 52.8h0M66.7 46.3h0M65.0 55.4h0M71.9 52.4h0M72.6 55.6h0M64.8 54.5h0M67.8 54.4h0M68.3 61.2h0M61.0 52.3h0M61.8 62.2h0M64.5 48.7h0M66.9 50.3h0M75.2 50.2h0M68.2 55.9h0M74.3 45.7h0M68.5 43.8h0M69.4 57.6h0M64.5 49.1h0M72.7 52.7h0M70.9 48.2h0M65.5 48.6h0M74.5 43.0h0M64.5 58.4h0M66.7 45.0h0M68.1 49.4h0M66.4 53.0h0M70.8 43.0h0M68.0 58.1h0M60.5 50.0h0M61.4 53.9h0M62.9 48.8h0M65.0 52.8h0M60.7 43.4h0M67.9 57.4h0M64.6 52.6h0M68.3 51.0h0M66.9 47.7h0M65.8 56.6h0M69.1 57.0h0M63.5 51.1h0M63.9 43.8h0M71.3 49.1h0M68.1 43.3h0M65.8 49.9h0M65.1 55.6h0M69.2 51.2h0M68.1 48.2h0M63.6 49.1h0M62.1 49.6h0M66.4 56.2h0M64.9 62.8h0M64.5 51.2h0M66.9 47.4h0M66.7 41.5h0M72.3 47.6h0M66.8 41.3h0M69.7 44.0h0M73.5 45.2h0M63.5 53.9h0M73.1 40.4h0M58.9 58.7h0M69.1 42.8h0M64.9 54.0h0M65.1 58.2h0M63.5 51.4h0M72.5 58.0h0M68.1 53.5h0M65.4 50.2h0M64.2 52.5h0M71.0 45.4h0M61.4 50.7h0M76.6 51.7h0M67.6 50.3h0M58.9 46.9h0M74.2 39.8h0M75.6 44.4h0M76.7 63.9h0M74.2 49.8h0M69.8 47.7h0M64.8 51.5h0M51.9 53.4h0M65.5 45.0h0M65.6 53.8h0M63.3 52.3h0M60.5 51.0h0M61.4 54.4h0M62.0 53.6h0M57.4 51.4h0M72.2 46.3h0M67.2 46.1h0M69.3 54.4h0M72.5 57.3h0M73.2 46.8h0M67.5 53.2h0M67.9 43.8h0M76.7 63.5h0M75.7 49.5h0M77.8 45.1h0M69.5 54.5h0M60.1 48.8h0M69.3 53.9h0M55.5 52.4h0M74.6 42.6h0M68.8 55.3h0M62.3 42.4h0M68.2 48.2h0M66.5 49.4h0M66.4 52.1h0M64.4 50.3h0M64.2 46.0h0M68.6 46.2h0M69.5 50.3h0M72.1 53.5h0M57.3 50.3h0M70.1 51.0h0M67.2 56.0h0M70.2 43.6h0M67.4 55.6h0M67.7 43.9h0M70.7 53.6h0M72.5 51.4h0M67.5 54.9h0M61.7 59.3h0M68.9 51.6h0M70.6 54.5h0M56.4 55.3h0M66.4 46.4h0M71.3 55.3h0M68.8 47.3h0M67.5 45.6h0M79.0 47.1h0M71.1 58.9h0M62.8 47.7h0M56.2 49.2h0M60.6 51.3h0M65.9 50.5h0M67.1 48.1h0M67.5 50.1h0M63.5 48.9h0M64.2 43.8h0M66.8 40.9h0M69.5 50.3h0M67.7 56.4h0M71.5 48.2h0M68.6 56.6h0M66.2 52.4h0M68.9 45.1h0M68.3 48.5h0M65.7 52.7h0M70.1 45.8h0M65.7 49.5h0M62.4 52.4h0M66.0 46.8h0M71.4 50.0h0M61.4 50.0h0M66.1 52.0h0M77.7 53.3h0M73.8 49.6h0M69.2 53.0h0M66.4 51.7h0M64.8 54.0h0M62.6 59.3h0M66.3 52.4h0M67.6 42.1h0M69.0 45.9h0M67.9 48.3h0M65.6 42.6h0M60.7 47.6h0M61.8 51.7h0M60.2 51.6h0M69.6 46.6h0M62.3 48.7h0M70.7 57.6h0M77.3 50.9h0M69.9 51.5h0M66.8 45.0h0M65.2 56.2h0M73.5 47.4h0M59.2 60.2h0M67.1 52.8h0M66.1 41.2h0M68.4 45.5h0M65.6 47.3h0M65.7 62.8h0M74.1 40.4h0M59.5 47.9h0M63.7 54.5h0M74.4 46.7h0M69.7 49.4h0M57.5 56.5h0M75.3 46.2h0M69.9 47.8h0M66.5 48.1h0M66.3 50.7h0M64.0 51.9h0M60.7 54.7h0M62.4 40.9h0M70.9 48.7h0M64.4 55.2h0M66.8 60.5h0M69.0 43.1h0M64.5 47.0h0M65.5 59.2h0M79.9 59.3h0M69.1 53.3h0M67.7 39.1h0M73.6 60.7h0M64.4 50.3h0M63.5 49.4h0M62.8 44.6h0M72.7 40.4h0M71.9 44.6h0M65.7 40.1h0M70.1 45.3h0M78.9 45.7h0M68.1 53.9h0M62.3 46.2h0M61.8 53.4h0M68.4 55.7h0M60.0 45.7h0M66.4 48.2h0M68.4 56.3h0M67.6 46.4h0M66.7 46.8h0M63.8 60.1h0M70.2 59.9h0M65.9 50.1h0M60.9 51.7h0M70.4 54.1h0M61.4 51.0h0M71.4 48.1h0M70.3 47.9h0M66.9 47.5h0M59.8 46.2h0M67.8 49.0h0M66.9 47.5h0M71.2 49.6h0M68.8 48.0h0M73.2 50.0h0M69.0 61.9h0M69.0 42.4h0M63.7 52.1h0M60.6 42.9h0M66.4 42.3h0M72.1 52.7h0M65.4 56.7h0M63.7 44.4h0M71.3 50.6h0M65.9 55.8h0M66.3 53.8h0M68.0 56.5h0M69.6 48.1h0M74.2 48.6h0M75.3 43.9h0M67.2 38.9h0M69.4 57.4h0M65.1 52.9h0M65.9 57.9h0M68.6 52.3h0M72.2 42.6h0M70.3 51.2h0M73.2 50.6h0M69.9 50.2h0M62.2 47.9h0M66.1 43.6h0M66.7 48.1h0M75.7 49.2h0M67.6 51.0h0M70.3 42.2h0M58.6 58.7h0M63.0 45.9h0M72.6 52.0h0M63.1 54.3h0M61.5 58.9h0M65.5 52.2h0M66.9 60.4h0M62.4 50.0h0M77.2 40.0h0M64.6 51.9h0M65.9 52.8h0M72.5 44.6h0M63.9 57.3h0M69.6 55.6h0M63.7 46.0h0M61.6 49.5h0M61.5 54.1h0M63.7 53.2h0M59.5 55.1h0M70.2 55.4h0M68.3 62.3h0M71.6 50.7h0M74.7 48.7h0M67.7 58.9h0M64.8 50.5h0M68.2 51.5h0M65.9 55.7h0M77.3 48.5h0M60.0 48.1h0M60.4 44.0h0M62.0 56.0h0M67.7 54.2h0M66.5 55.8h0M65.1 57.2h0M71.2 51.6h0M60.0 44.8h0M68.2 45.1h0M66.2 49.7h0M73.6 47.0h0M67.6 48.1h0M63.4 52.8h0M71.6 43.2h0M74.2 62.0h0M67.7 53.2h0M62.0 48.4h0M68.5 50.0h0M73.6 46.0h0M65.8 53.2h0M66.7 49.2h0M66.4 52.6h0M57.8 63.9h0M70.6 45.1h0M62.7 44.7h0M69.1 40.9h0M78.7 47.7h0M60.3 61.1h0M67.0 53.1h0M66.1 49.2h0M76.9 40.4h0M68.2 46.7h0M65.4 50.2h0M58.2 53.7h0M68.0 53.4h0M64.2 54.3h0M64.8 54.5h0M73.5 53.7h0M60.1 50.9h0M62.1 60.5h0M68.0 44.0h0M59.7 57.3h0M62.2 52.6h0M65.4 49.8h0M64.9 50.6h0M74.7 46.0h0M69.5 53.0h0M63.8 44.9h0M62.8 53.5h0M67.8 55.8h0M68.8 51.1h0M67.1 51.7h0M67.2 54.0h0M62.9 56.0h0M74.8 50.1h0M69.7 44.5h0M67.5 43.2h0M71.8 50.8h0M72.2 56.3h0M63.5 54.7h0M74.4 61.9h0M66.5 53.3h0M64.0 53.8h0M69.9 57.9h0M66.3 50.8h0M69.4 49.7h0M76.9 39.2h0M58.8 47.9h0M70.3 50.6h0M69.0 42.8h0M69.9 53.3h0M74.9 54.7h0M64.1 46.8h0M61.6 48.0h0M66.6 56.9h0M75.0 50.9h0M69.9 49.7h0M60.8 53.2h0M63.5 42.3h0M63.0 58.1h0M61.5 57.5h0M60.5 50.2h0M69.5 48.5h0M62.4 50.5h0M75.1 53.9h0M68.0 53.5h0M72.7 57.3h0M65.7 46.0h0M62.3 50.9h0M65.6 50.6h0M64.1 63.2h0M63.7 57.8h0M62.9 46.5h0M61.4 45.0h0M59.2 46.3h0M65.9 54.1h0M58.5 52.8h0M66.5 50.5h0M56.7 53.0h0M70.2 56.4h0M65.6 56.8h0M67.4 45.9h0M69.5 55.5h0M68.2 50.4h0M65.8 53.9h0M58.3 52.1h0M60.8 47.9h0M68.0 56.8h0M67.0 45.8h0M80.1 52.2h0M54.0 50.0h0M63.5 47.5h0M72.1 61.4h0M67.5 43.7h0M71.2 51.0h0M65.1 51.6h0M61.5 51.5h0M68.7 56.6h0M76.7 47.3h0M68.9 46.5h0M67.6 56.4h0M70.2 49.0h0M75.7 55.1h0M73.0 51.0h0M73.5 49.8h0M71.2 50.7h0M67.0 42.7h0M71.8 53.5h0M64.0 50.9h0M69.9 53.8h0M57.0 58.1h0M62.1 60.2h0M72.6 51.3h0M68.0 52.0h0M65.1 58.3h0M63.8 47.8h0M65.9 42.5h0M72.1 44.5h0M74.4 55.4h0M76.8 47.5h0M65.6 48.2h0M70.9 46.0h0M65.5 38.7h0M67.3 51.6h0M76.7 46.3h0M71.7 53.4h0M71.3 44.9h0M50.1 48.1h0M71.7 51.4h0M74.1 61.6h0M63.6 48.5h0M74.5 42.0h0M54.8 51.9h0M68.7 58.3h0M70.6 50.3h0M64.3 41.2h0M69.6 47.4h0M65.2 52.2h0M57.1 50.1h0M64.0 60.8h0M66.5 56.3h0M62.2 42.4h0M71.4 48.8h0M60.5 56.0h0M69.5 41.7h0M65.9 60.8h0M67.6 43.6h0M62.9 57.7h0M74.4 54.1h0M59.6 54.8h0M63.0 47.9h0M64.6 56.1h0M69.6 53.5h0M64.9 47.9h0M72.4 47.4h0M65.7 53.4h0M66.2 55.7h0M69.8 53.9h0M78.5 47.7h0M77.4 43.9h0M63.7 46.4h0M70.5 57.1h0M78.5 47.8h0M72.3 49.6h0M65.3 40.4h0M71.4 45.7h0M70.3 47.0h0M69.4 45.6h0M69.0 60.0h0M68.9 43.4h0M63.2 51.2h0M71.1 44.1h0M62.5 42.1h0M75.8 52.0h0M68.7 48.2h0M76.6 53.6h0M66.6 56.9h0M70.0 49.0h0M65.2 50.6h0M73.9 43.1h0M58.8 54.1h0M72.3 58.2h0M69.9 42.7h0M71.1 51.4h0M62.0 42.1h0M59.4 50.9h0M60.6 52.4h0M66.3 53.9h0M71.4 45.7h0M65.2 54.4h0M63.9 55.9h0M70.0 55.3h0M64.1 54.7h0M66.0 51.7h0M70.2 47.6h0M63.6 53.8h0M61.7 39.4h0M59.9 48.9h0M70.4 53.3h0M60.0 52.6h0M61.0 56.3h0M69.0 47.2h0M64.7 50.1h0M64.2 56.7h0M68.5 47.5h0M69.3 43.2h0M67.8 48.8h0M64.2 50.2h0M68.2 42.8h0M71.0 47.4h0M68.8 59.3h0M61.7 59.3h0M65.3 60.5h0M63.0 56.0h0M64.2 57.1h0M71.4 52.3h0M63.0 56.0h0M68.9 44.8h0M69.8 49.6h0M66.5 45.3h0M68.1 55.1h0M62.9 54.8h0M58.2 51.1h0M68.3 45.4h0M67.8 43.5h0M76.2 52.6h0M72.3 45.6h0M56.1 50.0h0M73.6 49.6h0M72.7 52.6h0M68.6 56.1h0M64.2 48.3h0M72.4 52.9h0M64.4 44.8h0M71.5 49.7h0M60.8 52.6h0M69.3 62.6h0M62.5 54.5h0M64.7 50.2h0M66.6 58.1h0M68.6 49.7h0M64.0 55.8h0M63.7 52.7h0M69.0 54.5h0M70.8 52.0h0M76.5 54.7h0M63.4 45.7h0M63.7 57.5h0M61.8 58.8h0M69.1 47.4h0M62.3 50.0h0M70.6 50.1h0M70.5 51.4h0M73.5 47.9h0M66.4 44.5h0M65.5 45.2h0M59.8 49.3h0M70.3 38.6h0M61.0 43.1h0M68.8 53.5h0M68.6 49.5h0M63.4 51.5h0M62.9 49.3h0M68.9 49.1h0M72.7 38.9h0M59.5 55.8h0M64.4 48.0h0M64.4 50.2h0M66.3 52.4h0M71.4 60.3h0M57.0 49.9h0M62.8 51.6h0M62.3 50.8h0M68.3 50.3h0M68.1 54.0h0M62.0 50.2h0M72.0 55.4h0M71.6 46.1h0M63.9 55.7h0M67.0 52.0h0M65.4 55.3h0M67.8 45.2h0M68.8 48.6h0M65.8 53.5h0M67.7 47.5h0M61.5 48.1h0M66.4 44.2h0M64.1 62.8h0M64.0 50.8h0M61.2 48.8h0M68.2 51.3h0M59.1 50.7h0M62.4 56.3h0M66.5 58.9h0M68.7 44.3h0M71.5 47.9h0M66.5 51.0h0M60.9 56.7h0M67.7 45.0h0M60.6 52.9h0M72.7 52.6h0M68.5 48.3h0M72.2 53.4h0M63.3 47.3h0M56.9 56.6h0M81.1 49.9h0M69.1 54.5h0M66.0 61.8h0M62.3 46.1h0M74.6 55.3h0M70.6 49.9h0M66.8 51.3h0M69.0 47.3h0M71.9 59.7h0M64.5 45.5h0M67.6 63.5h0M62.5 57.6h0M63.8 46.5h0M72.1 49.6h0M66.8 54.2h0M72.3 51.8h0M74.3 47.0h0M64.6 54.1h0M70.1 41.4h0M65.6 54.1h0M66.3 60.0h0M59.6 51.6h0M63.0 42.1h0M62.6 49.7h0M61.5 46.2h0M69.3 43.7h0M60.2 41.5h0M71.1 41.1h0M74.6 44.5h0M63.7 59.9h0M57.5 58.0h0M56.1 47.2h0M67.4 52.1h0M66.1 52.0h0M73.6 40.3h0M59.8 55.4h0M55.0 45.9h0M79.0 58.2h0M67.1 50.6h0M63.0 44.7h0M58.7 44.1h0M56.2 50.9h0M66.6 44.4h0M64.8 42.0h0M66.3 48.1h0M63.6 51.3h0M72.0 51.4h0M60.0 51.0h0M66.4 53.3h0M70.5 45.1h0M56.7 53.9h0M57.1 52.8h0M80.7 57.7h0M55.0 45.1h0M66.4 48.4h0M68.3 51.6h0M66.1 53.5h0M54.4 57.0h0M55.3 44.7h0M66.5 47.8h0M67.5 43.1h0M61.8 51.6h0M63.6 52.6h0M74.2 54.4h0M57.8 49.9h0M62.6 44.9h0M68.0 47.8h0M65.5 54.0h0M76.9 46.4h0M68.5 63.2h0M73.8 52.0h0M59.5 51.1h0M60.2 47.6h0M53.4 48.4h0M51.7 56.1h0M67.2 47.7h0M64.2 50.9h0M62.5 51.9h0M62.9 52.9h0M59.0 50.6h0M74.4 45.2h0M59.1 55.9h0M66.0 51.1h0M65.2 47.7h0M60.8 53.3h0M65.1 54.1h0M66.8 63.7h0M64.6 58.7h0M65.0 63.8h0M70.1 45.6h0M73.8 46.7h0M70.3 45.6h0M66.3 51.1h0M52.1 56.2h0M68.7 47.1h0M64.6 39.6h0M61.7 46.2h0M69.5 51.7h0M63.1 57.2h0M60.0 54.8h0M62.6 53.0h0M62.2 58.7h0M61.3 62.5h0M69.0 45.2h0M61.3 58.4h0M73.2 42.9h0M65.1 54.0h0M78.8 54.3h0M62.8 55.9h0M64.6 45.0h0M63.8 48.9h0M62.7 50.8h0M66.3 45.5h0M68.3 40.7h0M68.2 53.3h0M66.7 41.2h0M61.0 51.5h0M67.0 54.8h0M54.6 50.4h0M70.8 43.3h0M56.5 47.5h0M62.4 48.7h0M71.8 52.0h0M52.2 55.1h0M64.7 55.5h0M63.9 58.7h0M65.0 47.4h0M56.6 56.0h0M63.2 39.7h0M69.3 58.2h0M51.1 53.8h0M68.1 60.8h0M71.7 45.9h0M66.9 54.8h0M54.9 59.1h0M67.2 55.5h0M58.6 55.4h0M63.8 48.5h0M64.3 52.5h0M54.6 50.4h0M66.3 40.6h0M74.6 66.0h0M68.3 50.4h0M57.6 43.7h0M56.4 55.8h0M58.6 51.6h0M61.3 55.9h0M72.0 56.0h0M68.2 56.9h0M74.7 45.2h0M65.7 46.5h0M64.4 49.1h0M64.8 54.8h0M65.8 56.9h0M61.6 59.4h0M78.1 50.9h0M62.7 53.6h0M68.8 41.4h0M57.4 51.8h0M66.0 43.2h0M64.3 58.3h0M53.8 53.9h0M72.0 42.3h0M71.5 53.2h0M62.1 50.6h0M63.8 50.7h0M62.8 46.0h0M69.7 60.8h0M62.8 59.1h0M59.2 42.7h0M68.0 51.9h0M66.9 44.7h0M61.6 56.7h0M74.0 52.1h0M60.0 58.4h0M75.9 45.5h0M55.9 47.9h0M60.3 48.2h0M58.0 54.5h0M65.9 42.5h0M54.2 63.1h0M67.6 51.8h0M53.5 63.6h0M57.6 51.2h0M66.1 46.1h0M64.8 47.7h0M51.2 42.1h0M60.1 47.3h0M66.7 60.6h0M62.5 63.8h0M61.3 51.2h0M62.6 40.3h0M63.6 49.2h0M58.8 55.1h0M66.5 48.6h0M58.5 52.3h0M59.0 45.3h0M60.9 56.3h0M62.2 49.5h0M61.9 54.1h0M63.0 55.6h0M63.0 55.7h0M62.1 46.0h0M66.5 49.3h0M61.1 59.3h0M60.8 45.8h0M61.8 59.3h0M55.6 57.6h0M67.1 48.1h0M61.8 46.1h0M51.3 44.9h0M55.2 40.8h0M61.2 54.2h0M58.1 48.5h0M59.1 49.3h0M66.3 57.9h0M67.6 52.8h0M72.4 54.9h0M66.8 54.0h0M68.9 44.3h0M58.3 51.1h0M52.8 48.9h0M61.7 52.5h0M68.1 58.5h0M65.9 59.3h0M59.9 53.1h0M62.8 44.8h0M65.3 56.4h0M61.6 51.1h0M70.5 49.4h0M61.8 52.4h0M66.5 53.1h0M71.4 53.3h0M56.3 40.7h0M63.1 60.8h0M64.0 47.9h0M65.4 53.8h0M71.4 42.8h0M68.5 51.7h0M68.8 57.2h0M66.8 45.8h0M62.9 57.0h0M54.4 56.0h0M68.6 61.3h0M58.5 46.8h0M69.9 48.9h0M78.5 39.3h0M53.5 53.6h0M66.8 45.6h0M50.0 53.9h0M65.1 45.0h0M64.5 47.1h0M57.3 54.9h0M63.7 50.8h0M56.0 46.3h0M61.9 46.9h0M65.8 50.8h0M62.3 49.5h0M66.2 56.8h0M57.0 56.4h0M69.2 55.4h0M60.2 51.9h0M76.7 42.5h0M68.8 49.0h0M73.9 51.4h0M68.9 46.8h0M60.6 60.4h0M55.8 47.4h0M62.1 42.9h0M67.5 43.1h0M63.9 49.1h0M50.0 51.5h0M54.1 50.7h0M68.7 52.3h0M70.6 60.5h0M68.2 49.4h0M62.9 54.4h0M55.9 44.2h0M63.6 61.2h0M56.7 52.1h0M59.3 55.0h0M65.8 50.4h0M69.3 49.0h0M53.3 63.4h0M62.9 52.5h0M68.5 45.6h0M60.7 45.9h0M67.2 53.0h0M64.9 42.6h0M58.5 41.7h0M55.2 46.0h0M65.4 53.6h0M52.5 54.4h0M65.8 60.3h0M68.9 41.3h0M66.7 52.0h0M65.6 46.1h0M72.5 51.1h0M60.0 39.4h0M62.0 42.1h0M54.5 60.5h0M63.2 56.5h0M70.5 55.1h0M61.0 43.3h0M62.6 51.3h0M62.7 48.7h0M64.5 41.7h0M70.2 43.3h0M64.4 45.1h0M72.0 47.1h0M57.9 48.2h0M69.1 42.9h0M55.6 47.3h0M69.4 64.5h0M62.5 56.3h0M62.8 39.1h0M61.0 54.3h0M56.7 48.7h0M59.5 52.9h0M79.0 51.0h0M55.6 60.8h0M61.8 47.9h0M66.7 55.2h0M65.0 52.7h0M64.7 43.1h0M68.5 55.9h0M58.8 39.7h0M59.9 51.6h0M72.4 51.9h0M64.0 52.0h0M54.2 48.3h0M64.5 54.8h0M68.7 60.7h0M59.4 47.8h0M60.8 53.6h0M76.1 51.6h0M64.7 44.8h0M55.6 61.5h0M63.1 59.3h0M68.8 47.4h0M65.2 44.9h0M67.6 49.6h0M68.6 58.2h0M60.0 55.5h0M66.4 47.2h0M65.4 58.2h0M64.7 56.6h0M65.8 58.4h0M62.8 48.4h0M60.4 60.0h0M59.0 62.0h0M73.8 47.4h0M58.9 52.9h0M69.4 61.4h0M73.3 46.1h0M69.1 47.3h0M70.5 53.4h0M72.7 50.0h0M68.9 42.6h0M57.6 53.7h0M64.3 56.0h0M78.2 46.6h0M56.3 43.9h0M59.8 57.7h0M66.1 48.6h0M68.0 49.4h0M65.3 50.4h0M55.2 55.5h0M64.9 64.3h0M64.4 46.7h0M64.9 45.9h0M63.5 48.1h0M65.9 44.7h0M63.1 47.9h0M57.6 50.0h0M68.1 55.0h0M65.7 49.7h0M69.8 48.7h0M68.0 39.6h0M56.2 45.9h0M70.9 48.8h0M66.7 43.6h0M74.2 61.4h0M63.8 46.3h0M65.4 48.9h0M60.6 40.8h0M76.4 42.4h0M61.3 52.7h0M61.8 51.9h0M69.7 46.4h0M67.1 49.6h0M55.5 52.2h0M57.0 56.9h0M63.9 51.5h0M70.2 45.2h0M58.8 59.4h0M68.4 53.1h0M51.2 50.5h0M57.8 46.6h0M53.4 40.1h0M61.1 52.7h0M60.6 49.2h0M64.3 58.8h0M60.1 51.2h0M81.4 50.2h0M69.1 42.9h0M57.1 47.5h0M83.5 46.4h0M72.9 47.2h0M55.8 38.6h0M64.9 57.0h0M58.8 47.8h0M56.7 45.7h0M70.4 46.9h0M57.1 54.2h0M65.6 50.0h0M77.1 52.2h0M71.3 42.5h0M63.4 58.3h0M68.7 56.0h0M54.4 48.5h0M74.7 59.5h0M72.7 55.3h0M64.5 55.3h0M71.9 44.2h0M70.8 55.3h0M60.5 60.3h0M72.2 55.9h0M60.9 52.1h0M63.8 60.7h0M79.9 44.9h0M77.0 53.1h0M59.5 45.7h0M74.0 52.3h0M59.6 49.1h0M61.4 49.5h0M75.8 46.0h0M67.3 56.2h0M77.5 46.4h0M62.0 47.8h0M55.8 50.3h0M58.8 48.8h0M65.0 55.0h0M64.4 65.4h0M66.2 53.6h0M67.4 49.7h0M70.3 51.2h0M55.1 46.9h0M73.8 40.1h0M75.6 51.0h0M65.7 58.1h0M65.5 47.3h0M56.2 54.6h0M64.6 44.3h0M71.8 55.8h0M78.8 51.9h0M55.8 50.9h0M69.0 55.8h0M55.2 53.2h0M68.5 52.7h0M53.2 47.3h0M63.2 48.8h0M70.1 47.8h0M67.2 45.2h0M63.7 57.1h0M60.5 50.0h0M54.4 42.6h0M67.9 57.5h0M59.6 49.0h0M66.2 47.4h0M64.5 47.7h0M68.0 47.0h0M60.8 41.6h0M58.9 40.9h0M63.1 56.4h0M55.4 44.8h0M58.9 53.0h0M62.0 48.1h0M57.6 48.5h0M61.7 45.1h0M73.4 53.2h0M62.9 52.1h0M79.3 54.0h0M60.4 49.9h0M71.6 53.0h0M62.2 50.7h0M56.5 48.1h0M61.3 48.6h0M73.1 50.3h0M71.8 50.1h0M54.0 57.7h0M60.4 49.4h0M71.4 58.8h0M65.1 58.0h0M60.7 54.1h0M57.9 56.2h0M60.2 54.2h0M56.0 59.0h0M74.9 48.5h0M64.4 44.1h0M62.7 41.1h0M94.8 73.5h0M97.8 74.1h0M88.5 66.8h0M94.3 73.0h0M82.0 61.0h0M96.4 73.2h0M89.6 69.3h0M86.5 74.0h0M91.3 63.6h0M106.5 82.1h0M97.5 68.4h0M85.9 74.1h0M101.0 74.1h0M98.9 67.3h0M87.4 80.0h0M82.6 70.3h0M85.2 68.4h0M87.8 75.5h0M83.9 84.6h0M88.9 61.1h0M93.3 82.2h0M93.0 74.5h0M94.1 88.1h0M94.4 82.8h0M86.8 86.4h0M85.4 77.0h0M95.2 66.0h0M87.7 62.6h0M90.4 69.9h0M85.4 71.1h0M87.3 74.0h0M88.2 84.0h0M99.0 72.2h0M92.4 66.1h0M94.0 79.0h0M86.3 64.2h0M93.4 77.9h0M82.6 77.5h0M98.5 65.5h0M86.2 64.6h0M92.4 67.1h0M101.2 79.1h0M88.7 70.5h0M96.7 70.5h0M87.5 74.9h0M97.0 86.4h0M87.7 63.4h0M84.0 72.5h0M94.3 77.5h0M91.4 61.1h0M90.7 69.5h0M83.8 79.2h0M98.3 75.6h0M93.9 82.6h0M90.3 70.3h0M100.0 68.6h0M88.1 76.9h0M87.3 65.7h0M97.3 73.8h0M85.5 68.9h0M94.0 81.0h0M91.5 83.9h0M90.1 87.7h0M96.1 64.0h0M89.5 76.8h0M90.0 65.4h0M93.3 73.4h0M87.6 81.9h0M89.9 75.5h0M96.4 72.0h0M90.3 73.3h0M96.1 68.3h0M92.7 67.7h0M90.8 83.4h0M85.1 78.1h0M90.7 75.9h0M93.6 74.6h0M93.4 89.5h0M85.7 64.6h0M95.1 77.3h0M103.1 68.5h0M94.9 69.2h0M87.1 68.8h0M85.0 65.8h0M88.2 72.5h0M90.6 80.9h0M84.4 73.2h0M84.6 81.0h0M84.4 70.9h0M85.2 83.1h0M82.5 64.1h0M87.7 70.9h0M84.3 83.6h0M89.0 62.6h0M86.1 69.7h0M84.5 70.3h0M87.7 79.2h0M106.4 68.0h0M87.3 83.6h0M101.1 80.6h0M88.6 90.5h0M90.8 84.1h0M86.8 63.4h0M98.8 66.3h0M83.6 75.1h0M84.3 79.7h0M90.7 72.2h0M86.7 86.4h0M99.0 83.6h0M90.9 88.6h0M93.6 68.1h0M97.9 70.1h0M100.7 62.9h0M94.3 72.9h0M87.7 71.5h0M86.0 72.6h0M84.9 91.4h0M87.6 75.7h0M88.2 84.8h0M93.9 82.5h0M89.3 79.4h0M86.0 75.2h0M84.0 70.9h0M92.5 69.6h0M84.8 72.7h0M92.3 77.5h0M82.7 70.3h0M82.8 65.3h0M105.3 84.3h0M94.7 71.5h0M95.6 87.2h0M98.0 80.2h0M83.9 94.5h0M95.0 81.4h0M92.4 77.2h0M93.2 79.8h0M90.0 80.5h0M89.2 73.3h0M99.0 70.6h0M93.6 79.2h0M100.3 88.4h0M94.1 72.9h0M85.1 81.2h0M84.1 67.6h0M90.0 81.4h0M88.8 71.0h0M91.3 70.8h0M93.1 83.4h0M90.8 78.0h0M85.6 85.4h0M92.8 70.1h0M89.4 67.1h0M87.1 76.9h0M94.3 69.8h0M82.9 80.1h0M101.9 75.1h0M91.5 77.1h0M90.9 65.3h0M87.9 90.2h0M86.4 70.6h0M82.2 68.6h0M97.5 77.1h0M86.6 70.8h0M95.0 69.1h0M84.7 71.3h0M84.6 80.5h0M89.7 82.7h0M86.4 95.1h0M93.3 72.1h0M88.1 92.6h0M92.0 61.4h0M93.8 72.2h0M99.1 76.1h0M102.8 81.2h0M94.6 80.7h0M99.3 79.1h0M92.4 76.7h0M91.1 78.8h0M100.1 60.2h0M86.9 61.4h0M86.0 76.4h0M91.0 77.3h0M94.5 77.7h0M87.6 72.9h0M82.9 70.2h0M89.1 77.2h0M89.3 60.7h0M88.7 78.9h0M90.4 70.4h0M84.0 75.9h0M90.8 76.6h0M87.3 84.5h0M90.8 81.1h0M87.8 77.8h0M88.5 83.8h0M85.9 78.6h0M91.8 60.5h0M97.2 69.0h0M82.4 68.3h0M95.2 70.5h0M94.7 65.9h0M87.8 85.0h0M86.3 75.5h0M88.2 77.8h0M87.2 65.1h0M87.4 71.2h0M83.0 72.6h0M83.4 69.8h0M91.6 75.8h0M88.1 77.5h0M100.6 77.0h0M90.4 73.2h0M91.7 79.4h0M95.7 78.0h0M85.7 73.0h0M84.7 85.3h0M85.2 60.2h0M88.1 66.7h0M90.8 75.2h0M84.2 60.9h0M87.4 63.0h0M88.3 75.4h0M87.0 75.3h0M86.9 87.9h0M96.7 63.6h0M93.4 72.1h0M89.5 62.0h0M86.9 72.7h0M90.4 70.9h0M88.6 64.3h0M83.8 76.4h0M85.9 79.9h0M92.2 78.3h0M84.2 65.9h0M82.1 74.6h0M87.6 84.0h0M87.3 85.0h0M87.7 82.4h0M95.7 76.3h0M90.3 71.3h0M87.9 79.7h0M99.5 68.2h0M97.0 70.0h0M87.4 70.9h0M89.2 67.4h0M85.5 71.9h0M83.5 73.3h0M95.7 66.9h0M90.5 67.5h0M82.0 73.7h0M87.5 82.2h0M93.7 74.6h0M85.2 85.2h0M93.8 77.2h0M93.2 72.0h0M93.8 83.6h0M95.3 65.2h0M83.3 76.9h0M93.1 73.7h0M88.6 70.7h0M89.9 68.8h0M92.9 71.1h0M100.1 75.3h0M85.9 60.2h0M87.6 73.4h0M99.1 76.9h0M90.4 66.2h0M90.6 65.7h0M86.5 62.6h0M96.4 83.9h0M92.1 60.1h0M84.0 65.7h0M95.0 72.9h0M84.0 62.2h0M95.0 54.3h0M97.2 46.3h0M98.1 52.0h0M100.3 51.2h0M94.6 51.3h0M99.2 54.4h0M99.1 56.9h0M95.4 50.7h0M98.9 46.2h0M96.6 56.7h0M102.9 47.5h0M100.2 55.6h0M97.7 48.3h0M97.6 48.2h0M97.4 48.1h0M96.9 53.4h0M94.1 56.3h0M97.5 51.1h0M95.6 49.6h0M97.3 52.9h0M99.7 47.2h0M95.0 50.3h0M100.6 53.6h0M99.3 54.7h0M96.5 53.8h0M98.9 54.1h0M97.7 51.5h0M94.6 54.6h0M99.6 59.3h0" fill="none" stroke="#000" stroke-width="0.75" stroke-linecap="square" opacity="1"/>
<path d="M57.50 66.00C59.37 65.18 63.08 64.67 66.00 64.60C68.92 64.53 72.78 64.87 75.00 65.60C77.22 66.33 78.33 67.27 79.30 69.00C80.27 70.73 80.63 73.50 80.80 76.00C80.97 78.50 80.93 81.90 80.30 84.00C79.67 86.10 79.05 87.60 77.00 88.60C74.95 89.60 70.92 90.00 68.00 90.00C65.08 90.00 61.62 89.60 59.50 88.60C57.38 87.60 56.18 86.10 55.30 84.00C54.42 81.90 54.28 78.42 54.20 76.00C54.12 73.58 54.25 71.17 54.80 69.50C55.35 67.83 55.63 66.82 57.50 66.00Z" fill="#000" stroke="#000" stroke-width="2.4" stroke-linejoin="round"/>
<path d="M57.50 66.00C59.37 65.18 63.08 64.67 66.00 64.60C68.92 64.53 72.78 64.87 75.00 65.60C77.22 66.33 78.33 67.27 79.30 69.00C80.27 70.73 80.63 73.50 80.80 76.00C80.97 78.50 80.93 81.90 80.30 84.00C79.67 86.10 79.05 87.60 77.00 88.60C74.95 89.60 70.92 90.00 68.00 90.00C65.08 90.00 61.62 89.60 59.50 88.60C57.38 87.60 56.18 86.10 55.30 84.00C54.42 81.90 54.28 78.42 54.20 76.00C54.12 73.58 54.25 71.17 54.80 69.50C55.35 67.83 55.63 66.82 57.50 66.00Z" fill="#c6c6c6" stroke="#fff" stroke-width="1.5" stroke-linejoin="round"/>
<path d="M59.46 68.17C60.95 67.51 63.93 67.10 66.26 67.04C68.59 66.99 71.69 67.26 73.46 67.84C75.24 68.43 76.13 69.18 76.90 70.56C77.67 71.95 77.97 74.17 78.10 76.17C78.23 78.17 78.21 80.89 77.70 82.56C77.20 84.24 76.70 85.44 75.06 86.24C73.42 87.04 70.19 87.37 67.86 87.37C65.53 87.37 62.76 87.04 61.06 86.24C59.37 85.44 58.41 84.24 57.70 82.56C57.00 80.89 56.89 78.10 56.82 76.17C56.76 74.23 56.86 72.30 57.30 70.97C57.74 69.63 57.97 68.82 59.46 68.17Z" fill="#c0c0c0" stroke="#bbb" stroke-width="0.5"/>
<path d="M63.83 72.60C64.67 72.23 66.34 72.00 67.65 71.97C68.96 71.94 70.70 72.09 71.70 72.42C72.70 72.75 73.20 73.17 73.64 73.95C74.07 74.73 74.23 75.97 74.31 77.10C74.39 78.22 74.37 79.75 74.08 80.70C73.80 81.65 73.52 82.32 72.60 82.77C71.68 83.22 69.86 83.40 68.55 83.40C67.24 83.40 65.68 83.22 64.72 82.77C63.77 82.32 63.23 81.65 62.84 80.70C62.44 79.75 62.38 78.19 62.34 77.10C62.30 76.01 62.36 74.92 62.61 74.17C62.86 73.42 62.98 72.97 63.83 72.60Z" fill="#cecece" stroke="#ccc" stroke-width="0.4"/>
<path d="M73.7 76.7h0M71.5 78.6h0M77.8 68.1h0M72.9 84.2h0M70.7 87.4h0M58.1 79.9h0M72.7 68.5h0M68.2 84.2h0M71.1 75.0h0M74.2 86.2h0M61.8 72.2h0M74.3 82.9h0M66.0 87.8h0M77.5 79.5h0M65.0 68.9h0M57.3 75.2h0M66.1 68.8h0M61.7 85.2h0M72.7 74.5h0M59.2 86.6h0M76.0 83.0h0M71.3 81.4h0M62.7 78.7h0M57.0 73.8h0M60.9 69.3h0M72.2 76.3h0M63.7 83.4h0M70.4 81.2h0M76.0 70.9h0M66.4 68.5h0M72.4 82.8h0M57.7 74.2h0M58.5 84.2h0M69.7 72.2h0M71.7 86.6h0M75.4 75.1h0M57.5 74.7h0M62.5 81.8h0M64.0 84.8h0M62.9 85.8h0M76.5 78.4h0M57.7 83.6h0M75.0 69.8h0M72.3 68.9h0M63.7 73.1h0M60.3 80.5h0M77.7 77.6h0M76.8 72.6h0M59.7 72.9h0M74.2 73.9h0M64.3 85.3h0M69.8 75.3h0M75.3 70.0h0M61.2 80.0h0M67.4 81.4h0M74.1 81.4h0M60.7 82.2h0M61.9 69.0h0M63.2 75.1h0M67.6 69.5h0M70.3 75.0h0M77.8 77.1h0M74.5 84.0h0M69.7 80.9h0M58.8 86.1h0M77.3 86.3h0M58.7 71.5h0M63.6 70.7h0M62.4 69.0h0M69.3 85.3h0M64.0 84.5h0M75.2 79.1h0M75.1 72.3h0M69.8 80.5h0M57.1 87.7h0M62.5 77.9h0M73.6 77.1h0M59.6 87.8h0M75.3 77.4h0M63.8 67.1h0M63.6 87.6h0M72.9 70.1h0M70.6 68.8h0M67.3 87.0h0M57.6 77.5h0M77.3 69.1h0M66.4 83.8h0M74.7 78.2h0M69.1 78.4h0M71.1 87.6h0M70.9 71.7h0M61.9 77.3h0M71.0 83.7h0M62.7 71.0h0M58.9 83.0h0M57.6 67.2h0M66.3 83.9h0M77.6 72.6h0M64.4 69.3h0M59.8 71.1h0M73.7 81.9h0M71.7 83.3h0M61.2 87.3h0M68.2 72.6h0M73.9 72.2h0M57.4 83.0h0M59.7 87.8h0M74.7 74.0h0M77.3 79.4h0M68.4 73.0h0M75.9 79.9h0M63.1 73.5h0M63.3 73.9h0M76.7 79.1h0M70.2 82.6h0M58.3 79.7h0M73.4 68.7h0M76.6 77.3h0M57.4 87.5h0M65.6 84.4h0M77.6 67.7h0M62.7 77.3h0M63.3 81.9h0M64.6 77.0h0M65.6 83.3h0M68.4 75.1h0M75.3 76.2h0M77.8 69.7h0M59.0 81.6h0M75.7 68.1h0M64.2 82.3h0M72.1 78.6h0M71.4 85.3h0M69.2 74.9h0M61.3 74.0h0M74.2 85.0h0M64.6 71.9h0M77.5 68.1h0M65.2 75.6h0M71.7 67.8h0M71.3 67.8h0M61.3 76.3h0M73.1 71.0h0M70.7 67.5h0M60.3 73.4h0M58.6 84.0h0M69.1 84.4h0M66.8 78.7h0M57.6 86.6h0M63.6 80.5h0M74.8 75.5h0M64.2 83.0h0M73.9 86.1h0M65.5 74.1h0M67.6 79.5h0M71.1 84.4h0M70.2 72.3h0M73.3 83.3h0M74.6 69.1h0M65.4 84.9h0" fill="none" stroke="#aaa" stroke-width="0.8" stroke-linecap="square" opacity="0.6"/>
<path d="M73.80 45.40C74.20 44.62 76.30 44.58 78.00 44.30C79.70 44.02 82.00 43.70 84.00 43.70C86.00 43.70 88.37 43.82 90.00 44.30C91.63 44.78 93.02 45.65 93.80 46.60C94.58 47.55 94.80 48.77 94.70 50.00C94.60 51.23 94.07 52.77 93.20 54.00C92.33 55.23 90.87 56.50 89.50 57.40C88.13 58.30 86.48 59.10 85.00 59.40C83.52 59.70 81.83 59.60 80.60 59.20C79.37 58.80 78.33 58.03 77.60 57.00C76.87 55.97 76.53 54.33 76.20 53.00C75.87 51.67 76.00 50.27 75.60 49.00C75.20 47.73 73.40 46.18 73.80 45.40Z" fill="#000" stroke="#000" stroke-width="2.0" stroke-linejoin="round"/>
<path d="M73.80 45.40C74.20 44.62 76.30 44.58 78.00 44.30C79.70 44.02 82.00 43.70 84.00 43.70C86.00 43.70 88.37 43.82 90.00 44.30C91.63 44.78 93.02 45.65 93.80 46.60C94.58 47.55 94.80 48.77 94.70 50.00C94.60 51.23 94.07 52.77 93.20 54.00C92.33 55.23 90.87 56.50 89.50 57.40C88.13 58.30 86.48 59.10 85.00 59.40C83.52 59.70 81.83 59.60 80.60 59.20C79.37 58.80 78.33 58.03 77.60 57.00C76.87 55.97 76.53 54.33 76.20 53.00C75.87 51.67 76.00 50.27 75.60 49.00C75.20 47.73 73.40 46.18 73.80 45.40Z" fill="#d6d6d6" stroke="#fff" stroke-width="1.6" stroke-linejoin="round"/>
<ellipse cx="85.4" cy="51.5" rx="5.6" ry="4.0" fill="#b8b8b8" stroke="#5a5a5a" stroke-width="0.9" transform="rotate(-28 85.4 51.5)"/>
<ellipse cx="85.6" cy="51.4" rx="3.6" ry="2.3" fill="#9a9a9a" stroke="#777" stroke-width="0.5" transform="rotate(-28 85.6 51.4)"/>
<ellipse cx="86" cy="51.2" rx="1.6" ry="1.0" fill="#c8c8c8" transform="rotate(-28 86 51.2)"/>
<rect x="51" y="37.6" width="57.599999999999994" height="23.9" fill="none" stroke="#000" stroke-width="1.5"/>
<text transform="translate(80 33.6) translate(-0.434 0) scale(1.0330 1)" font-size="12" letter-spacing="0.264" stroke="#000" stroke-width="0.5">38.6</text>
<text transform="translate(61.2 15.1) translate(-0.793 0) scale(1.0171 1)" font-size="12" letter-spacing="0.264" stroke="#000" stroke-width="0.5">no RTX</text>
<rect x="41.5" y="118.1" width="86.2" height="86.1" fill="#fff" stroke="#6a6a6a" stroke-width="0.8"/>
<path d="M66.4 204.8h0M65.0 204.8h0M64.3 204.8h0M40.2 139.6h0M40.2 142.1h0M85.8 204.8h0M87.7 204.8h0M88.4 204.8h0M40.2 161.1h0M40.2 157.2h0M109.9 204.8h0M111.6 204.8h0M107.6 204.8h0M40.2 182.7h0M40.2 180.6h0" fill="none" stroke="#333" stroke-width="0.8" stroke-linecap="square" opacity="1"/>
<path d="M58.0 164.8h0M57.1 163.9h0M56.4 163.1h0M58.8 166.4h0M58.6 166.7h0M58.1 165.7h0M58.4 166.0h0M58.4 165.3h0M58.2 163.3h0M57.4 161.8h0M58.0 162.6h0M59.0 165.7h0M58.2 162.8h0M59.1 165.2h0M58.4 163.7h0M59.5 165.8h0M59.4 163.9h0M59.5 163.3h0M58.9 164.6h0M59.5 165.4h0M58.6 164.3h0M59.0 161.7h0M58.9 164.9h0M59.8 166.5h0M59.1 163.2h0M60.5 164.8h0M60.1 164.1h0M60.2 164.9h0M59.6 162.7h0M59.8 162.4h0M60.1 165.4h0M60.4 166.0h0M59.5 162.3h0M59.5 165.2h0M59.6 164.5h0M60.8 164.5h0M60.2 164.5h0M60.2 163.8h0M61.0 165.5h0M60.7 163.3h0M61.4 164.7h0M60.3 165.9h0M60.9 165.6h0M60.7 165.1h0M59.5 161.9h0M61.3 165.4h0M61.2 164.1h0M61.3 164.9h0M61.3 165.2h0M61.6 164.7h0M61.7 165.3h0M61.4 165.2h0M61.8 165.3h0M61.1 162.4h0M61.8 163.4h0M61.2 165.5h0M62.1 161.9h0M62.7 165.1h0M62.2 162.3h0M61.7 163.8h0M61.9 163.9h0M62.0 165.4h0M62.4 164.2h0M61.7 165.5h0M61.7 164.5h0M62.1 163.7h0M62.0 165.5h0M63.0 164.5h0M61.7 164.2h0M62.5 164.7h0M62.7 165.3h0M61.9 164.1h0M62.6 166.4h0M63.8 164.8h0M62.6 165.4h0M63.0 164.3h0M63.4 164.6h0M62.9 164.9h0M63.4 165.1h0M63.8 165.5h0M64.6 164.3h0M63.4 164.0h0M63.1 164.7h0M63.0 162.6h0M63.8 165.3h0M63.0 163.6h0M62.7 162.7h0M63.7 164.6h0M63.1 163.9h0M63.4 165.2h0M64.6 162.0h0M64.3 164.7h0M63.9 165.0h0M64.2 165.0h0M64.1 163.8h0M64.1 164.5h0M64.2 163.8h0M64.4 165.0h0M64.4 164.9h0M63.7 165.1h0M64.1 163.8h0M64.0 164.9h0M65.4 165.3h0M65.2 163.2h0M65.2 164.8h0M65.1 161.9h0M65.2 165.7h0M65.2 165.3h0M64.7 162.6h0M65.5 163.3h0M64.6 166.2h0M65.4 165.2h0M64.9 163.4h0M65.6 162.8h0M64.8 163.8h0M65.5 164.0h0M65.4 165.7h0M65.2 164.2h0M65.5 164.0h0M65.6 164.7h0M65.3 165.7h0M65.4 163.5h0M65.5 163.2h0M65.8 164.6h0M65.5 162.4h0M66.3 165.3h0M66.4 164.3h0M66.7 164.5h0M66.1 164.8h0M66.8 165.9h0M65.9 163.5h0M66.0 163.7h0M66.0 163.9h0M66.9 162.3h0M66.3 163.3h0M66.4 163.2h0M66.3 165.7h0M67.5 161.2h0M67.2 164.6h0M66.3 162.8h0M67.2 163.4h0M67.0 164.0h0M66.5 164.9h0M66.9 164.1h0M67.3 165.1h0M65.9 164.1h0M67.1 164.1h0M66.8 165.3h0M67.4 165.3h0M67.7 164.5h0M67.2 165.6h0M68.2 164.3h0M68.1 160.7h0M67.5 164.0h0M67.6 163.5h0M68.0 165.0h0M68.0 161.0h0M67.9 164.6h0M67.1 163.6h0M68.0 164.9h0M67.6 164.2h0M67.7 162.5h0M68.2 164.8h0M67.7 165.4h0M68.8 162.7h0M69.0 164.8h0M69.0 163.9h0M68.7 165.2h0M68.4 165.1h0M69.0 163.5h0M69.3 165.7h0M68.6 165.7h0M69.0 165.4h0M69.3 163.2h0M68.0 164.4h0M69.0 164.1h0M68.8 164.8h0M68.7 165.0h0M69.9 162.7h0M69.9 163.0h0M69.4 163.9h0M69.9 164.6h0M70.0 164.8h0M70.0 163.2h0M70.1 163.8h0M69.0 165.6h0M69.5 162.1h0M69.6 165.2h0M69.5 162.8h0M69.1 163.0h0M69.6 164.1h0M68.8 165.0h0M70.8 164.2h0M70.6 165.1h0M69.9 164.7h0M70.4 163.7h0M71.0 165.2h0M70.5 162.0h0M69.9 163.9h0M70.4 165.3h0M70.7 162.4h0M70.5 163.7h0M70.4 165.5h0M70.4 164.8h0M71.1 164.6h0M70.5 162.4h0M71.5 165.1h0M71.2 162.3h0M71.5 163.8h0M71.1 164.6h0M70.9 162.1h0M70.8 164.2h0M71.7 164.8h0M71.7 165.3h0M71.6 164.0h0M71.0 165.2h0M71.5 164.9h0M71.5 164.1h0M71.6 164.3h0M71.9 164.7h0M72.8 162.8h0M72.0 164.6h0M72.3 163.8h0M72.8 164.7h0M71.8 162.9h0M72.1 164.9h0M71.9 163.1h0M72.1 163.2h0M72.5 164.0h0M72.5 162.2h0M72.4 165.1h0M72.4 164.3h0M71.8 165.5h0M71.7 164.9h0M73.3 164.2h0M73.5 165.3h0M73.3 161.6h0M73.6 164.8h0M72.9 161.9h0M73.1 162.8h0M72.5 162.5h0M73.7 163.0h0M72.5 165.3h0M73.4 165.2h0M72.9 163.3h0M73.7 164.8h0M73.0 162.3h0M73.2 165.4h0M74.7 163.8h0M74.3 164.1h0M74.4 163.3h0M74.4 164.3h0M73.6 162.6h0M74.3 163.5h0M74.0 163.5h0M74.3 163.8h0M74.1 163.1h0M74.1 164.1h0M74.4 164.3h0M74.1 165.0h0M73.6 163.9h0M74.5 164.8h0M74.7 164.2h0M75.5 163.7h0M74.7 164.5h0M74.6 163.4h0M74.4 163.8h0M74.6 163.9h0M74.3 163.4h0M75.7 163.9h0M74.9 161.7h0M74.1 162.8h0M75.1 163.7h0M74.4 165.2h0M74.3 162.2h0M76.0 163.7h0M76.0 164.6h0M74.6 165.7h0M75.2 164.4h0M74.9 163.6h0M75.7 163.3h0M75.3 164.3h0M75.7 165.4h0M75.6 162.2h0M75.3 164.6h0M75.4 162.3h0M76.0 165.4h0M74.9 165.1h0M76.8 164.1h0M77.0 164.9h0M76.8 165.2h0M76.3 163.7h0M76.4 164.7h0M76.1 161.7h0M76.0 164.0h0M76.4 161.8h0M76.0 164.5h0M75.6 162.3h0M76.2 165.0h0M76.1 162.6h0M77.1 164.9h0M76.9 164.4h0M77.2 164.3h0M76.4 163.7h0M76.8 163.8h0M77.1 164.4h0M77.0 164.6h0M77.2 163.8h0M77.0 163.0h0M76.6 162.8h0M77.5 164.7h0M77.8 164.6h0M77.6 162.9h0M77.3 162.3h0M77.5 164.1h0M78.5 165.2h0M77.8 163.9h0M77.6 162.1h0M77.6 164.2h0M77.9 163.1h0M77.0 162.9h0M77.7 164.7h0M77.7 162.4h0M77.4 163.9h0M78.3 164.6h0M78.5 164.1h0M78.5 164.4h0M78.3 161.4h0M78.3 163.2h0M77.7 161.3h0M78.8 163.8h0M78.1 164.8h0M78.7 163.3h0M78.2 165.0h0M78.5 163.2h0M78.3 163.8h0M79.1 161.4h0M78.8 163.3h0M79.0 163.0h0M79.0 163.6h0M79.1 161.8h0M79.2 162.6h0M79.4 160.8h0M78.5 162.3h0M78.8 164.3h0M79.0 163.5h0M78.8 163.0h0M79.6 162.2h0M79.8 164.3h0M80.5 164.1h0M79.7 163.0h0M79.4 159.7h0M79.6 164.2h0M79.8 163.3h0M79.7 162.6h0M80.0 163.5h0M79.7 164.8h0M79.5 162.8h0M80.5 162.1h0M80.3 161.5h0M80.4 163.8h0M80.7 162.7h0M80.3 161.2h0M81.1 163.2h0M80.6 164.0h0M81.2 164.5h0M80.7 162.9h0M80.2 163.6h0M81.0 164.5h0M80.7 164.2h0M81.0 162.6h0M81.8 164.1h0M82.3 164.6h0M80.9 164.2h0M81.6 162.5h0M81.1 162.6h0M81.3 163.1h0M81.2 162.8h0M81.0 163.9h0M81.9 164.2h0M81.6 163.3h0M81.7 161.3h0M81.6 162.5h0M82.3 162.8h0M81.7 163.2h0M81.9 163.5h0M82.0 163.8h0M81.7 163.5h0M81.7 162.9h0M82.6 164.0h0M82.6 161.2h0M82.3 163.3h0M82.5 164.1h0M83.0 163.9h0M82.7 161.7h0M82.5 161.6h0M82.8 164.1h0M82.0 163.8h0M83.0 163.9h0M83.0 162.7h0M83.6 163.6h0M83.3 162.1h0M83.1 164.1h0M83.3 163.3h0M82.4 163.0h0M82.6 163.6h0M82.8 159.7h0M82.6 163.4h0M83.3 163.2h0M83.6 162.8h0M83.7 163.3h0M83.8 163.8h0M84.1 162.1h0M82.9 162.7h0M83.9 161.2h0M83.7 162.3h0M83.9 163.5h0M84.4 163.3h0M84.8 161.1h0M84.9 162.1h0M84.8 161.3h0M84.8 163.4h0M84.3 163.4h0M84.7 163.2h0M85.1 163.4h0M85.1 164.3h0M84.8 163.3h0M84.7 164.3h0M84.6 163.7h0M85.1 163.8h0M85.0 161.7h0M85.5 162.8h0M85.2 163.7h0M86.0 164.1h0M85.2 163.0h0M85.7 161.4h0M85.5 162.5h0M85.9 160.9h0M86.5 161.8h0M86.0 164.1h0M85.6 164.3h0M85.7 162.8h0M86.6 160.9h0M85.4 163.7h0M86.0 163.3h0M86.2 163.5h0M86.0 164.0h0M86.8 162.4h0M86.9 163.2h0M86.3 164.0h0M86.5 163.6h0M86.5 162.7h0M86.2 164.3h0M86.7 163.9h0M87.5 162.8h0M86.2 164.4h0M86.4 164.3h0M86.2 164.4h0M87.6 161.7h0M87.0 164.6h0M88.3 162.2h0M87.2 163.2h0M87.2 164.4h0M87.7 163.7h0M88.1 162.8h0M89.0 161.3h0M89.2 161.1h0M87.9 163.1h0M87.3 164.1h0M87.7 164.9h0M88.2 163.4h0M88.4 163.9h0M89.0 163.0h0M87.2 164.3h0M88.1 164.6h0M88.0 164.5h0M89.9 163.6h0M87.8 164.5h0M88.9 164.6h0M90.9 162.3h0M87.9 165.8h0M89.1 164.3h0M90.6 162.9h0M87.4 165.3h0M88.0 165.3h0M88.5 165.3h0M89.5 165.0h0M89.2 165.2h0M90.0 164.9h0M88.2 165.9h0M88.0 164.9h0M88.7 165.6h0M88.4 166.2h0M89.0 166.3h0M90.4 165.1h0M88.7 165.9h0M89.2 165.8h0M91.4 165.6h0M88.3 166.7h0M90.5 166.0h0M89.4 166.5h0M88.2 166.9h0M90.0 166.1h0M92.2 166.4h0M89.3 166.6h0M89.3 166.8h0M90.9 166.2h0M90.1 166.4h0M89.1 166.8h0M89.7 167.1h0M88.4 167.2h0M89.5 166.9h0M88.9 167.7h0M90.5 167.7h0M91.5 167.5h0M90.6 167.2h0M92.7 166.9h0M90.2 167.3h0M89.7 168.5h0M88.7 167.7h0M89.0 167.6h0M88.8 168.0h0M89.4 167.9h0M88.6 167.9h0M87.8 167.6h0M88.8 167.7h0M89.6 168.1h0M90.2 168.5h0M88.6 168.6h0M88.1 169.0h0M88.7 169.3h0M90.1 168.5h0M91.2 168.7h0M91.3 169.0h0M89.9 169.5h0M90.1 168.9h0M91.5 169.9h0M88.4 168.9h0M91.2 168.9h0M88.8 169.1h0M88.3 169.0h0M89.9 168.6h0M87.7 169.7h0M88.2 169.1h0M89.1 168.9h0M90.3 169.9h0M92.2 170.1h0M89.8 169.4h0M89.1 169.5h0M90.4 170.1h0M88.5 170.0h0M88.6 169.4h0M89.6 170.6h0M90.0 170.6h0M88.8 169.8h0M89.8 170.8h0M89.2 170.8h0M89.1 170.2h0M90.7 170.3h0M90.6 170.4h0M89.1 170.0h0M88.0 170.4h0M91.2 171.6h0M88.0 170.6h0M90.9 170.7h0M89.6 170.4h0M88.4 170.7h0M90.2 171.5h0M88.9 171.3h0M89.8 171.0h0M91.6 170.7h0M88.9 171.4h0M87.6 171.7h0M88.8 171.1h0M89.9 172.0h0M89.1 170.9h0M89.0 171.8h0M89.4 171.7h0M90.0 171.4h0M89.3 170.8h0M89.1 171.7h0M88.6 172.1h0M90.8 173.0h0M90.3 172.3h0M90.2 172.1h0M87.8 172.0h0M90.0 172.5h0M88.7 171.8h0M90.3 172.6h0M87.7 172.2h0M88.3 172.4h0M91.0 173.3h0M88.4 171.8h0M87.8 172.5h0M88.9 172.9h0M89.6 172.7h0M89.9 172.9h0M90.1 172.8h0M89.2 173.2h0M88.5 172.9h0M87.9 172.9h0M89.9 173.3h0M90.8 173.5h0M89.5 173.7h0M88.3 173.4h0M88.1 172.9h0M89.8 174.3h0M88.4 173.7h0M89.6 174.3h0M88.8 173.6h0M89.1 174.9h0M89.8 174.1h0M87.6 174.0h0M87.7 173.4h0M88.2 173.9h0M87.2 173.0h0M92.9 176.0h0M87.6 174.4h0M89.3 175.0h0M88.3 174.5h0M87.3 173.8h0M89.2 174.2h0M87.7 174.7h0M87.8 173.7h0M87.3 174.3h0M88.2 174.8h0M86.8 174.3h0M88.8 175.0h0M87.5 174.7h0M88.7 175.3h0M88.4 175.3h0M88.9 175.3h0M88.0 174.4h0M88.2 175.0h0M87.9 175.4h0M89.4 176.2h0M87.3 175.4h0M86.7 175.3h0M88.7 176.0h0M86.6 175.5h0M87.0 176.1h0M88.4 176.1h0M87.5 175.3h0M89.6 177.5h0M88.2 176.5h0M89.0 176.7h0M87.6 175.8h0M87.3 176.3h0M88.8 176.2h0M87.4 176.3h0M89.3 176.8h0M87.4 176.1h0M89.2 177.6h0M86.1 176.2h0M89.8 177.5h0M87.2 176.2h0M87.0 176.2h0M86.8 176.2h0M88.2 177.3h0M87.9 176.1h0M87.6 176.5h0M86.7 176.6h0M86.4 177.5h0M86.8 177.6h0M87.4 177.1h0M85.3 176.9h0M85.8 176.7h0M87.2 177.0h0M87.8 176.5h0M87.5 176.8h0M91.1 178.7h0M85.8 176.7h0M87.4 178.2h0M87.3 178.0h0M85.6 176.6h0M85.2 177.3h0M86.1 177.7h0M85.9 177.1h0M86.8 177.3h0M86.2 177.6h0M86.8 177.3h0M86.7 177.5h0M88.2 178.0h0M85.6 177.5h0M85.7 177.6h0M87.6 178.7h0M85.5 177.1h0M87.6 178.2h0M86.2 178.5h0M86.2 177.5h0M86.3 178.6h0M85.1 178.1h0M85.1 179.2h0M85.1 178.7h0M86.7 178.1h0M87.4 179.0h0M85.7 178.8h0M87.6 178.6h0M85.4 178.0h0M87.3 178.6h0M85.9 178.0h0M87.4 179.0h0M85.4 178.4h0M86.8 179.0h0M86.6 179.5h0M85.7 178.8h0M86.4 178.5h0M86.6 179.9h0M86.2 179.4h0M85.6 179.3h0M85.7 179.1h0M85.7 179.7h0M85.8 179.3h0M86.6 180.4h0M85.5 179.4h0M85.0 179.8h0M87.5 180.1h0M87.0 179.9h0M87.5 179.7h0M85.6 180.0h0M85.4 179.8h0M84.7 179.9h0M86.1 180.6h0M87.3 180.8h0M85.2 180.3h0M85.1 180.2h0M88.2 180.1h0M88.0 180.8h0M85.4 179.9h0M86.3 180.4h0M88.7 180.1h0M85.0 180.2h0M84.5 180.6h0M84.7 180.8h0M86.0 181.1h0M84.9 180.7h0M87.0 180.4h0M86.8 181.1h0M85.6 181.1h0M85.5 180.1h0M86.9 180.8h0M84.7 180.1h0M85.9 181.5h0M88.8 182.0h0M85.5 181.4h0M86.5 181.0h0M84.5 181.1h0M85.3 181.0h0M84.5 181.3h0M85.1 181.3h0M86.8 182.1h0M85.3 182.0h0M84.9 181.3h0M86.0 181.3h0M84.0 181.8h0M87.2 183.0h0M86.2 182.3h0M84.5 181.6h0M87.2 182.9h0M85.0 182.1h0M86.4 182.8h0M85.2 182.5h0M86.7 182.4h0M87.6 183.4h0M84.5 183.2h0M85.3 182.7h0M84.3 183.5h0M84.2 182.3h0M85.3 182.6h0M86.6 183.3h0M86.8 183.3h0M86.1 183.6h0M86.5 183.2h0M84.5 184.4h0M84.0 183.6h0M85.3 183.5h0M85.2 183.8h0M87.2 183.5h0M87.2 183.9h0M85.4 182.7h0M84.9 183.3h0M84.1 183.0h0M87.8 184.2h0M85.6 183.5h0M85.3 183.5h0M85.3 184.1h0M85.8 184.1h0M85.7 183.7h0M84.2 183.7h0M86.5 184.6h0M85.6 184.4h0M86.7 185.1h0M84.5 183.9h0M85.0 183.7h0M84.4 185.0h0M84.9 185.0h0M85.8 184.8h0M85.4 185.3h0M84.3 184.2h0M85.6 185.0h0M84.5 184.6h0M84.6 184.1h0M83.5 184.3h0M85.3 184.3h0M86.4 185.1h0M84.9 184.3h0M84.6 185.0h0M84.0 185.6h0M86.1 186.3h0M84.3 185.5h0M85.2 185.6h0M86.3 187.4h0M85.6 185.9h0M85.4 185.6h0M86.2 185.7h0M86.1 185.2h0M84.7 186.1h0M84.2 186.3h0M84.2 186.1h0M84.7 186.8h0M84.1 185.9h0M83.5 185.3h0M87.4 186.8h0M83.6 186.1h0M83.3 185.9h0M83.5 185.9h0M83.5 185.8h0M83.5 186.9h0M86.7 187.5h0M86.0 187.1h0M84.0 187.3h0M88.2 189.0h0M84.7 187.0h0M83.6 186.7h0M83.3 186.5h0M84.6 186.7h0M84.3 187.4h0M87.2 189.2h0M84.1 187.0h0M82.6 187.2h0M83.5 186.9h0M85.1 187.2h0M84.4 187.8h0M83.9 187.5h0M84.5 187.1h0M84.5 188.0h0M83.0 187.9h0M85.1 188.2h0M87.0 189.2h0M84.3 187.6h0M84.6 187.7h0M83.0 188.2h0M84.1 187.8h0M84.2 188.5h0M84.1 188.2h0M84.5 189.1h0M85.9 189.7h0M82.8 187.9h0M84.5 189.0h0M83.0 188.1h0M84.4 189.1h0M82.7 188.2h0M84.2 189.0h0M85.7 189.1h0M85.3 188.8h0M84.3 189.1h0M84.1 188.6h0M86.6 190.7h0M85.8 190.3h0M83.4 189.0h0M82.1 188.4h0M83.4 189.2h0M84.2 189.3h0M83.4 188.7h0M84.0 189.9h0M82.3 189.6h0M83.0 188.8h0M83.1 189.4h0M82.9 189.5h0M82.9 189.6h0M82.4 189.0h0M82.0 189.2h0M83.5 189.9h0M81.8 190.5h0M81.2 190.1h0M83.7 191.3h0M81.9 190.4h0M84.3 190.6h0M82.0 190.0h0M83.0 190.3h0M82.2 190.8h0M82.8 190.4h0M82.8 191.2h0M81.9 190.2h0M82.8 191.0h0M82.8 190.8h0M83.1 190.8h0M82.0 191.0h0M82.2 189.8h0M83.4 191.4h0M81.8 190.2h0M83.9 192.4h0M81.5 190.8h0M81.6 191.7h0M81.5 190.7h0M81.4 191.1h0M80.6 191.2h0M81.7 190.9h0M83.3 192.4h0M82.3 191.9h0M82.4 192.5h0M80.5 191.3h0M81.2 191.4h0M82.1 192.3h0M81.8 192.0h0M81.7 192.1h0M80.8 191.4h0M82.7 192.4h0M82.2 192.0h0M82.0 193.5h0M80.3 191.1h0M80.9 192.2h0M81.9 193.1h0M83.2 194.1h0M82.2 193.6h0M81.5 192.4h0M79.7 191.9h0M83.2 193.1h0M81.0 193.0h0M80.8 193.4h0M80.9 193.2h0M83.1 195.7h0M80.1 192.7h0M80.4 192.5h0M80.6 193.2h0M81.1 192.8h0M80.1 192.5h0M80.3 192.9h0M79.3 192.9h0M80.9 194.1h0M80.4 193.6h0M80.3 193.7h0M80.0 193.5h0M80.8 194.4h0M81.5 195.3h0M79.6 191.6h0M79.4 194.6h0M79.8 194.6h0M79.4 193.1h0M79.8 194.5h0M80.8 194.9h0M79.0 193.3h0M79.0 193.2h0M79.4 193.6h0M79.1 192.9h0M78.2 193.0h0M78.7 194.1h0M77.9 193.3h0M79.1 194.1h0M79.7 195.5h0M80.5 196.7h0M78.9 193.5h0M79.1 193.1h0M79.8 195.5h0M78.6 193.6h0M79.2 193.5h0M78.4 195.5h0M77.9 194.1h0M77.8 193.7h0M78.8 193.6h0M78.0 193.0h0M79.3 195.2h0M79.2 195.8h0M79.3 196.2h0M78.5 195.0h0M78.1 193.7h0M78.5 193.1h0M76.8 194.2h0M77.3 195.1h0M76.5 194.3h0M78.2 195.7h0M77.6 194.2h0M77.1 193.5h0M78.3 195.1h0M77.1 193.9h0M77.2 194.3h0M79.0 196.4h0M77.5 194.5h0M76.6 195.1h0M76.2 194.1h0M77.6 197.5h0M76.1 194.1h0M77.4 195.5h0M76.5 193.7h0M76.6 196.5h0M76.9 194.9h0M76.8 194.7h0M76.5 193.3h0M76.3 192.9h0M76.3 195.2h0M76.4 195.1h0M75.9 195.1h0M76.0 195.1h0M75.9 195.6h0M76.0 195.7h0M75.8 196.4h0M76.4 195.0h0M76.7 198.7h0M76.3 194.4h0M76.0 195.5h0M75.1 194.8h0M75.1 195.5h0M75.3 194.9h0M75.3 195.1h0M75.7 194.7h0M75.4 194.6h0M75.6 195.2h0M75.4 194.4h0M76.5 197.3h0M75.7 194.9h0M75.3 196.6h0M75.3 196.1h0M74.9 195.0h0M74.8 195.4h0M74.3 195.0h0M75.1 196.2h0M75.4 196.9h0M75.1 194.5h0M75.8 196.3h0M73.7 194.6h0M74.5 194.6h0M74.9 197.7h0M74.2 194.3h0M74.5 198.2h0M74.0 195.4h0M74.3 196.0h0M73.3 194.6h0M73.8 195.9h0M74.5 197.3h0M74.4 197.3h0M73.9 194.9h0M73.7 195.5h0M73.9 197.3h0M74.2 195.6h0M73.3 197.4h0M73.2 194.9h0M73.5 197.2h0M73.5 198.4h0M72.8 195.6h0M73.5 194.7h0M73.5 195.0h0M73.2 197.3h0M73.1 196.0h0M73.0 196.6h0M72.9 195.3h0M72.0 195.5h0M72.5 196.2h0M73.3 197.3h0M72.9 196.4h0M72.8 196.2h0M72.4 196.3h0M72.2 195.6h0M72.3 196.4h0M72.2 195.4h0M72.2 194.7h0M72.2 195.4h0M71.2 195.3h0M71.5 197.7h0M71.9 196.0h0M70.7 197.0h0M71.7 196.2h0M71.9 197.5h0M72.1 196.8h0M72.3 196.4h0M71.8 195.2h0M72.3 196.2h0M71.1 196.3h0M70.3 195.8h0M70.8 195.6h0M70.4 195.7h0M71.7 195.1h0M71.3 195.9h0M70.4 195.7h0M70.6 195.7h0M71.2 195.8h0M71.0 196.2h0M70.9 196.4h0M70.8 196.0h0M70.3 196.6h0M69.8 197.7h0M70.3 195.7h0M70.8 194.9h0M70.0 195.8h0M70.3 195.2h0M70.3 195.4h0M70.6 196.6h0M70.3 195.3h0M70.5 195.7h0M70.6 195.8h0M69.7 195.6h0M69.2 198.3h0M70.1 196.2h0M69.7 196.1h0M69.4 196.1h0M69.7 195.6h0M69.3 195.2h0M69.9 195.8h0M69.4 197.0h0M69.4 196.3h0M69.6 195.5h0M69.0 198.8h0M69.1 195.0h0M69.1 197.2h0M68.2 196.1h0M68.4 197.9h0M68.7 197.2h0M68.5 196.5h0M68.5 196.5h0M68.7 194.7h0M68.4 196.5h0M69.3 195.4h0M68.8 196.2h0M68.6 196.6h0M67.8 195.2h0M67.5 194.8h0M67.6 196.1h0M67.6 196.4h0M67.5 194.9h0M67.5 195.8h0M68.3 196.5h0M67.5 196.0h0M67.7 195.2h0M67.6 196.3h0M68.1 196.5h0M67.8 196.3h0M66.7 196.1h0M67.1 196.2h0M66.9 196.0h0M66.8 195.8h0M67.9 194.6h0M66.6 194.7h0M66.6 198.2h0M67.5 195.9h0M67.1 197.3h0M66.4 197.2h0M66.8 195.8h0M66.6 195.3h0M65.9 195.3h0M65.5 197.6h0M65.9 196.5h0M66.1 195.2h0M66.5 195.5h0M66.6 195.6h0M65.9 197.0h0M66.1 195.7h0M66.9 195.4h0M65.4 198.5h0M65.8 197.8h0M66.0 195.4h0M65.0 197.3h0M65.6 194.4h0M65.5 195.2h0M66.4 194.5h0M65.5 194.4h0M65.4 197.7h0M65.5 194.9h0M65.3 195.3h0M64.7 197.7h0M64.6 197.3h0M65.1 195.2h0M65.4 194.4h0M65.0 194.1h0M63.9 196.9h0M65.1 194.7h0M64.6 196.7h0M65.5 194.1h0M64.7 195.4h0M65.0 194.5h0M65.0 194.0h0M64.1 196.9h0M65.5 194.5h0M65.0 195.2h0M64.1 194.1h0M63.8 194.8h0M63.7 195.4h0M64.0 195.0h0M63.3 195.8h0M64.1 194.4h0M64.0 194.0h0M64.4 194.3h0M64.3 194.2h0M64.2 194.7h0M65.0 193.9h0M62.6 196.2h0M62.2 195.8h0M64.2 194.0h0M62.9 194.7h0M63.2 194.4h0M63.3 194.7h0M62.8 194.8h0M62.6 194.7h0M63.7 194.3h0M63.7 193.8h0M61.9 196.8h0M62.2 195.5h0M62.5 195.0h0M63.1 193.8h0M62.3 195.8h0M62.6 194.5h0M61.3 196.4h0M62.2 196.5h0M62.9 194.1h0M62.9 194.5h0M62.4 194.0h0M61.8 193.3h0M61.4 195.0h0M62.1 193.5h0M62.6 193.3h0M62.1 193.5h0M62.3 193.2h0M61.2 195.3h0M62.7 193.7h0M62.0 194.6h0M61.8 192.6h0M61.6 193.7h0M61.0 192.9h0M61.2 193.7h0M61.7 193.4h0M61.6 193.8h0M62.0 192.9h0M61.7 193.2h0M61.6 193.0h0M61.6 193.6h0M61.8 192.7h0M61.0 193.6h0M60.7 193.2h0M59.8 194.8h0M61.3 193.7h0M61.2 192.8h0M61.4 192.6h0M60.8 193.6h0M60.9 193.7h0M60.5 193.8h0M59.8 193.9h0M59.6 193.1h0M60.0 192.6h0M60.1 193.8h0M60.3 193.5h0M61.2 193.1h0M58.5 193.5h0M60.7 192.2h0M59.7 194.6h0M59.8 193.6h0M58.4 193.1h0M58.9 193.2h0M61.1 191.8h0M59.5 193.0h0M59.8 193.1h0M59.8 192.5h0M58.2 194.3h0M59.9 192.8h0M58.9 193.7h0M60.1 192.3h0M57.5 193.8h0M59.2 191.7h0M59.3 191.8h0M58.9 192.0h0M58.6 192.8h0M59.0 191.7h0M60.0 190.6h0M59.2 193.0h0M60.0 191.6h0M59.2 191.7h0M58.4 191.6h0M58.3 192.3h0M58.4 192.0h0M58.8 191.4h0M59.5 191.0h0M59.2 191.7h0M59.0 191.2h0M59.3 191.4h0M57.2 192.9h0M59.6 191.0h0M58.7 190.9h0M58.6 190.5h0M56.9 192.5h0M58.5 190.2h0M58.4 190.6h0M58.8 190.4h0M59.2 190.2h0M58.0 190.4h0M59.2 190.8h0M59.0 190.4h0M58.3 189.5h0M58.0 189.9h0M58.9 189.8h0M56.9 191.3h0M57.1 190.9h0M56.8 191.0h0M58.1 190.6h0M58.1 190.6h0M58.9 189.9h0M58.0 190.8h0M56.9 190.1h0M58.2 189.6h0M55.1 191.9h0M57.6 189.4h0M57.6 190.4h0M57.8 189.7h0M55.9 190.9h0M58.0 189.3h0M56.1 191.0h0M55.0 191.3h0M56.8 190.1h0M57.6 188.8h0M54.9 190.6h0M57.2 188.8h0M58.4 189.2h0M57.6 189.2h0M57.8 188.7h0M57.9 188.5h0M55.7 190.0h0M54.7 190.9h0M56.7 188.9h0M56.1 188.6h0M55.2 189.6h0M56.7 188.7h0M56.3 189.4h0M57.7 188.8h0M56.9 188.3h0M57.2 188.2h0M57.0 189.2h0M57.2 188.3h0M57.4 187.6h0M57.2 187.9h0M55.0 188.8h0M56.5 188.0h0M55.2 187.9h0M55.3 188.5h0M57.6 187.5h0M56.8 188.2h0M57.5 188.6h0M57.2 188.2h0M56.9 187.2h0M57.1 186.9h0M55.0 187.9h0M56.3 187.4h0M56.4 187.3h0M55.1 187.2h0M57.3 187.7h0M57.4 186.9h0M57.2 186.7h0M55.9 187.3h0M56.2 187.5h0M55.8 187.2h0M56.2 186.9h0M57.6 186.4h0M57.0 186.5h0M56.7 186.5h0M56.6 186.4h0M56.2 186.4h0M56.5 186.7h0M56.3 186.9h0M56.2 186.1h0M55.9 186.2h0M55.6 185.8h0M54.3 186.2h0M57.0 185.9h0M56.1 185.8h0M55.8 185.6h0M55.6 185.5h0M57.2 186.4h0M56.0 185.9h0M56.7 185.4h0M54.7 186.0h0M57.3 185.0h0M56.5 185.4h0M55.4 186.0h0M55.1 185.4h0M55.6 184.8h0M56.1 184.0h0M56.3 184.8h0M55.6 185.2h0M56.5 185.4h0M56.0 185.1h0M56.1 185.0h0M56.5 184.9h0M54.6 185.4h0M56.0 185.0h0M55.3 184.9h0M56.0 184.0h0M55.0 185.4h0M54.7 183.9h0M54.5 184.7h0M55.6 183.8h0M55.2 183.9h0M56.3 184.5h0M56.4 184.7h0M55.8 184.1h0M54.9 184.2h0M54.2 184.6h0M55.6 183.9h0M56.0 184.4h0M54.9 184.0h0M56.2 183.3h0M55.7 183.4h0M56.0 183.7h0M56.6 183.3h0M52.3 183.6h0M55.9 183.6h0M56.7 182.6h0M56.1 183.5h0M57.1 183.1h0M55.9 183.1h0M56.5 182.7h0M55.7 182.7h0M55.6 182.3h0M53.3 182.8h0M56.2 182.7h0M56.1 183.2h0M56.0 182.1h0M55.9 183.0h0M54.6 182.8h0M54.4 182.6h0M55.7 182.2h0M52.9 183.3h0M55.1 182.2h0M55.7 181.4h0M54.2 181.9h0M54.8 181.7h0M52.2 182.4h0M55.1 181.7h0M56.2 182.3h0M55.3 181.8h0M56.4 181.2h0M56.5 181.8h0M56.0 181.1h0M52.1 181.4h0M54.2 180.9h0M53.2 181.5h0M55.3 181.0h0M56.6 181.4h0M55.4 180.8h0M56.1 181.4h0M52.7 181.4h0M54.9 181.1h0M54.7 181.3h0M55.0 181.5h0M55.6 181.1h0M55.4 181.1h0M55.5 180.9h0M54.0 181.1h0M56.6 180.7h0M55.6 180.5h0M55.3 180.4h0M56.0 180.9h0M56.3 181.0h0M55.5 180.3h0M55.9 180.7h0M55.3 180.3h0M55.8 180.7h0M54.6 180.4h0M55.6 179.7h0M56.3 179.9h0M54.9 179.9h0M53.9 179.5h0M54.7 179.3h0M55.8 179.4h0M54.5 179.4h0M53.0 179.5h0M54.7 179.8h0M52.3 180.2h0M55.9 178.5h0M56.6 179.5h0M53.7 179.1h0M55.0 179.2h0M55.6 178.7h0M54.4 179.5h0M53.5 179.4h0M56.6 178.8h0M54.6 178.5h0M51.9 179.7h0M54.7 178.6h0M53.4 178.5h0M55.8 178.4h0M55.8 178.7h0M53.0 177.9h0M55.2 178.4h0M55.2 177.7h0M52.1 178.4h0M55.8 178.1h0M55.4 178.9h0M55.8 177.4h0M54.9 178.3h0M54.8 178.2h0M56.5 177.1h0M56.2 178.3h0M55.4 177.9h0M56.4 177.6h0M56.1 177.5h0M56.0 177.6h0M53.7 177.2h0M54.8 177.1h0M56.0 177.6h0M53.4 177.7h0M53.8 177.3h0M55.5 176.8h0M55.3 176.7h0M55.5 176.5h0M56.4 176.8h0M56.4 176.1h0M56.2 175.9h0M55.2 176.4h0M55.2 176.7h0M55.4 175.8h0M54.8 176.7h0M56.2 176.0h0M55.5 176.6h0M55.3 176.4h0M55.3 175.8h0M55.6 175.7h0M52.7 175.4h0M53.6 175.1h0M53.3 175.6h0M54.7 175.7h0M53.5 176.0h0M54.3 176.2h0M55.3 175.3h0M54.8 175.8h0M55.6 176.1h0M55.9 176.6h0M54.8 174.7h0M54.4 174.5h0M54.1 174.7h0M54.1 174.7h0M56.5 174.8h0M54.9 175.4h0M53.1 175.1h0M54.4 175.4h0M56.0 174.9h0M55.4 175.3h0M52.1 174.6h0M55.5 175.6h0M56.5 174.3h0M54.9 174.1h0M53.6 174.3h0M54.8 174.1h0M54.7 174.1h0M55.3 174.5h0M56.6 174.9h0M55.8 174.8h0M52.3 174.0h0M54.7 174.7h0M55.6 174.5h0M53.5 174.5h0M55.2 173.8h0M55.5 174.0h0M54.5 173.5h0M54.3 173.4h0M54.7 173.9h0M55.3 173.6h0M56.3 173.7h0M55.7 173.3h0M56.0 173.6h0M56.1 173.4h0M54.2 174.0h0M54.1 172.7h0M55.6 172.8h0M53.9 173.0h0M54.6 173.3h0M55.9 172.9h0M55.0 172.7h0M54.8 172.9h0M56.2 172.7h0M55.2 172.3h0M54.2 172.4h0M54.3 172.2h0M57.2 172.7h0M54.4 172.5h0M52.9 172.1h0M55.4 172.0h0M56.7 172.7h0M54.7 171.6h0M56.6 172.4h0M54.3 172.4h0M53.6 172.1h0M56.1 171.8h0M54.4 171.0h0M55.8 171.9h0M55.8 171.4h0M54.4 171.8h0M56.4 172.0h0M55.2 171.5h0M56.3 171.6h0M52.3 171.7h0M55.2 171.2h0M55.5 171.0h0M56.0 170.5h0M56.3 170.8h0M54.5 171.2h0M55.1 171.5h0M56.8 171.9h0M56.5 171.6h0M54.3 171.3h0M56.2 171.3h0M55.9 170.9h0M53.9 170.1h0M54.4 170.7h0M55.6 170.3h0M54.9 170.4h0M53.0 169.7h0M55.2 170.5h0M55.8 170.1h0M55.4 169.9h0M54.6 169.8h0M56.3 170.1h0M56.8 170.0h0M56.4 170.4h0M56.1 170.1h0M56.1 170.2h0M53.2 170.3h0M54.6 169.0h0M55.4 169.2h0M54.8 169.4h0M56.1 169.7h0M56.3 169.4h0M56.7 169.2h0M55.1 169.5h0M55.4 169.1h0M55.5 169.3h0M54.5 169.3h0M56.1 168.9h0M56.5 169.6h0M54.4 168.9h0M56.5 169.0h0M54.5 168.8h0M55.7 168.9h0M54.4 168.0h0M56.8 168.5h0M54.4 168.7h0M57.1 168.8h0M57.3 168.8h0M52.3 167.7h0M55.6 167.6h0M57.2 168.0h0M57.3 169.0h0M56.6 167.6h0M57.5 168.2h0M54.8 167.3h0M57.1 168.3h0M54.8 166.5h0M55.2 166.9h0M56.8 167.4h0M56.8 167.8h0M57.5 167.6h0M56.2 167.8h0M56.2 168.3h0M56.2 167.1h0M56.6 167.3h0M55.5 166.2h0M56.9 167.6h0M55.0 166.0h0M57.6 167.1h0M57.3 166.3h0M54.7 165.1h0M57.4 166.3h0M56.8 166.4h0M56.2 166.5h0M57.5 167.6h0M56.7 165.9h0M57.4 166.1h0M57.1 166.4h0M57.2 165.6h0M57.7 166.8h0M57.2 167.2h0M56.0 165.1h0M57.5 166.4h0M57.3 165.3h0M57.4 165.7h0M57.8 165.0h0M57.5 165.8h0M57.0 165.2h0M56.1 164.1h0M58.0 164.5h0M59.3 166.5h0M57.9 164.4h0M58.4 160.5h0M57.9 158.8h0M59.7 165.4h0M59.9 164.8h0M59.3 160.2h0M60.3 166.1h0M60.0 161.4h0M60.0 164.5h0M60.3 157.3h0M60.1 158.7h0M61.7 160.1h0M62.8 165.0h0M61.4 158.4h0M62.6 164.4h0M63.1 160.5h0M62.3 153.9h0M63.2 162.8h0M63.5 164.9h0M62.9 158.9h0M64.0 161.3h0M64.3 164.4h0M64.1 159.0h0M64.9 157.2h0M65.1 162.6h0M65.0 162.2h0M66.3 163.8h0M65.6 163.7h0M65.2 158.5h0M66.8 164.9h0M66.0 161.0h0M66.3 163.4h0M66.4 164.4h0M67.4 164.0h0M66.4 161.6h0M67.5 158.1h0M67.7 164.9h0M67.4 163.7h0M68.9 165.9h0M68.3 160.9h0M69.3 161.7h0M69.7 159.1h0M69.2 164.0h0M69.6 158.9h0M70.4 156.9h0M70.0 148.9h0M70.5 163.2h0M70.9 162.7h0M71.9 161.0h0M71.5 164.8h0M70.8 163.1h0M71.9 165.0h0M71.9 161.3h0M72.6 165.0h0M72.8 162.8h0M73.3 158.6h0M73.1 161.4h0M73.5 164.2h0M73.3 164.8h0M73.6 164.6h0M75.0 162.0h0M74.4 163.2h0M74.7 161.4h0M75.3 164.7h0M75.4 160.5h0M75.3 162.0h0M76.2 164.4h0M76.4 163.1h0M75.9 157.4h0M76.4 159.5h0M75.8 158.7h0M76.0 159.8h0M76.7 157.9h0M77.3 157.4h0M77.3 163.0h0M78.2 163.0h0M78.0 159.6h0M78.1 163.6h0M78.6 163.0h0M79.1 162.9h0M78.5 160.1h0M79.9 162.0h0M79.5 161.0h0M79.6 162.6h0M80.8 161.4h0M79.5 157.3h0M79.3 156.5h0M81.2 162.9h0M80.2 159.8h0M81.0 158.6h0M81.8 161.5h0M80.9 155.9h0M81.0 154.8h0M82.2 161.7h0M83.2 163.5h0M83.3 161.1h0M83.9 160.0h0M83.2 164.1h0M83.6 161.3h0M84.0 158.9h0M84.6 162.2h0M84.6 158.8h0M85.4 157.0h0M85.2 162.1h0M86.4 154.5h0M85.7 164.0h0M86.8 159.7h0M87.6 158.2h0M86.8 164.5h0M88.9 160.0h0M88.1 160.8h0M87.5 164.2h0M89.5 160.1h0M90.4 161.9h0M87.9 165.1h0M96.4 159.0h0M88.8 165.4h0M89.1 164.9h0M92.5 164.7h0M91.5 164.6h0M92.6 165.9h0M90.1 166.4h0M88.8 167.1h0M91.6 166.9h0M99.6 167.0h0M92.8 167.8h0M94.8 168.1h0M92.2 168.1h0M93.4 168.1h0M88.9 168.3h0M96.2 170.1h0M91.4 169.3h0M98.5 171.2h0M89.4 169.5h0M89.4 170.1h0M89.9 170.3h0M91.2 171.2h0M90.4 171.4h0M94.9 172.7h0M91.0 171.7h0M91.8 173.1h0M93.6 173.4h0M88.2 172.2h0M95.5 174.6h0M89.7 173.7h0M91.3 174.2h0M93.6 174.6h0M90.8 174.6h0M87.4 174.4h0M92.0 175.7h0M90.1 174.8h0M93.4 177.3h0M89.9 175.8h0M91.8 177.1h0M87.3 175.4h0M93.0 178.1h0M90.6 177.4h0M89.0 177.0h0M93.6 179.7h0M88.0 177.0h0M88.2 176.8h0M89.6 178.1h0M89.4 178.0h0M88.0 177.9h0M86.1 176.4h0M90.1 179.3h0M90.0 179.4h0M88.3 179.2h0M88.4 179.8h0M87.8 179.9h0M86.3 179.3h0M88.6 180.8h0M85.5 180.2h0M87.2 180.4h0M87.7 180.4h0M85.4 180.1h0M89.7 181.4h0M85.9 181.1h0M87.5 181.7h0M85.4 181.9h0M92.7 182.9h0M85.0 181.0h0M87.4 181.9h0M85.6 182.3h0M88.1 182.8h0M89.5 184.4h0M87.7 183.7h0M85.9 184.0h0M86.6 183.7h0M85.1 184.5h0M85.3 184.1h0M84.7 184.5h0M84.7 185.0h0M84.9 185.9h0M85.0 185.5h0M85.9 185.7h0M87.4 187.4h0M84.2 186.2h0M89.2 187.3h0M86.4 187.4h0M83.9 186.1h0M86.2 187.6h0M83.1 187.4h0M85.9 188.2h0M87.2 189.6h0M84.4 189.0h0M84.7 189.1h0M82.7 188.1h0M86.0 190.1h0M87.4 191.0h0M86.9 191.3h0M82.4 189.2h0M87.3 193.4h0M85.9 191.8h0M86.3 193.2h0M84.2 192.0h0M83.8 191.9h0M85.1 193.9h0M83.6 192.3h0M80.6 191.5h0M82.2 192.1h0M81.3 192.7h0M87.7 198.9h0M83.9 195.1h0M80.9 193.5h0M79.6 192.2h0M81.4 194.6h0M82.5 196.2h0M84.3 198.7h0M80.8 194.7h0M80.9 196.0h0M81.8 197.4h0M81.5 197.1h0M81.0 198.5h0M78.0 194.4h0M78.4 195.2h0M80.0 199.2h0M77.8 195.3h0M77.2 194.1h0M76.8 195.5h0M79.8 201.5h0M77.2 196.1h0M76.9 196.3h0M75.9 195.6h0M77.9 199.0h0M76.3 199.3h0M77.1 199.8h0M74.6 194.4h0M74.8 196.5h0M75.8 197.9h0M74.1 197.2h0M75.1 199.6h0M74.2 199.8h0M73.0 195.7h0M73.3 195.9h0M73.7 196.8h0M71.9 195.4h0M72.8 200.6h0M72.3 196.9h0M71.5 198.7h0M71.2 194.5h0M70.4 198.6h0M71.0 196.9h0M71.2 201.9h0M70.5 195.9h0M70.3 197.1h0M70.0 202.8h0M69.4 196.8h0M69.1 196.6h0M69.7 195.4h0M68.5 196.2h0M68.9 197.4h0M66.8 196.6h0M67.8 196.1h0M67.5 199.4h0M66.4 198.1h0M65.9 201.8h0M67.0 194.8h0M65.9 196.9h0M65.7 197.3h0M65.6 198.2h0M64.5 196.8h0M64.8 195.4h0M65.1 196.5h0M64.6 196.0h0M65.0 195.1h0M64.6 194.9h0M62.8 197.7h0M63.8 196.0h0M63.3 198.3h0M60.8 200.8h0M63.3 194.7h0M63.2 194.9h0M61.5 196.2h0M60.5 199.7h0M60.3 198.4h0M61.9 195.3h0M59.9 196.9h0M59.5 197.4h0M58.4 197.2h0M56.3 201.1h0M58.9 195.9h0M58.9 194.5h0M58.8 193.4h0M59.6 192.6h0M59.6 191.5h0M57.4 195.0h0M56.5 195.4h0M58.9 192.1h0M56.7 193.6h0M58.0 191.9h0M55.2 194.0h0M59.2 191.2h0M57.0 192.5h0M53.9 193.4h0M59.3 190.7h0M57.6 190.2h0M57.3 190.7h0M54.6 190.6h0M57.1 189.3h0M49.6 193.6h0M55.2 189.3h0M55.9 189.4h0M53.9 190.4h0M56.8 187.6h0M56.4 187.8h0M54.3 189.2h0M54.8 187.8h0M56.4 187.0h0M53.9 187.8h0M55.9 186.0h0M50.4 187.7h0M50.3 188.0h0M55.0 185.9h0M53.7 186.1h0M54.7 186.3h0M56.0 185.1h0M56.2 184.4h0M51.7 184.7h0M49.5 185.1h0M52.8 185.2h0M52.7 184.2h0M53.5 183.2h0M56.5 183.4h0M54.4 183.7h0M55.8 182.3h0M55.7 183.0h0M49.7 181.6h0M54.6 181.8h0M53.5 182.4h0M51.6 182.4h0M55.2 181.0h0M53.7 181.5h0M55.4 180.5h0M49.0 181.3h0M56.2 179.1h0M55.2 179.4h0M54.0 179.4h0M53.7 179.3h0M56.5 178.7h0M52.7 178.7h0M55.1 178.1h0M55.2 178.4h0M54.3 178.7h0M53.5 177.6h0M54.5 177.0h0M55.6 177.6h0M53.4 177.1h0M46.7 177.0h0M53.7 176.4h0M56.2 176.2h0M55.6 175.8h0M54.1 176.1h0M54.5 175.2h0M53.6 174.9h0M51.0 174.8h0M51.7 174.0h0M54.3 174.5h0M53.7 174.3h0M50.6 174.0h0M55.2 173.1h0M52.1 173.6h0M56.5 172.9h0M53.3 173.0h0M55.6 171.9h0M52.2 172.0h0M55.2 172.9h0M53.1 171.7h0M49.0 171.1h0M56.2 170.9h0M51.4 170.5h0M54.6 170.9h0M55.4 170.8h0M51.1 170.6h0M53.4 169.7h0M51.8 169.6h0M55.7 169.3h0M55.2 170.0h0M53.8 168.9h0M48.1 166.3h0M56.9 168.6h0M53.3 166.9h0M53.1 166.5h0M52.8 166.4h0M54.3 166.2h0M56.8 167.6h0M56.4 167.8h0M52.5 163.3h0M57.4 166.9h0M51.9 161.8h0M56.6 164.4h0M57.0 165.4h0M63.0 145.1h0M63.0 145.7h0M63.3 146.8h0M63.3 145.8h0M63.4 146.6h0M63.7 146.6h0M63.8 146.3h0M63.3 145.0h0M64.0 146.0h0M64.0 146.8h0M64.4 146.1h0M61.7 144.0h0M64.1 146.7h0M64.6 146.1h0M63.3 143.5h0M63.8 144.0h0M64.2 145.2h0M63.6 144.8h0M63.6 145.5h0M64.4 145.9h0M64.6 146.1h0M64.1 143.5h0M64.5 145.1h0M64.3 144.0h0M64.4 145.3h0M63.8 145.5h0M64.0 144.3h0M63.9 142.8h0M65.3 144.7h0M65.8 145.9h0M64.8 145.3h0M65.1 145.6h0M65.1 145.1h0M64.6 143.9h0M65.3 146.4h0M64.4 143.9h0M65.6 144.2h0M65.1 145.0h0M65.7 145.8h0M65.2 141.5h0M65.4 144.2h0M66.1 145.2h0M66.0 144.3h0M65.4 145.8h0M66.0 145.3h0M65.4 142.5h0M66.3 143.7h0M66.3 145.7h0M66.0 145.1h0M67.0 144.9h0M65.9 143.6h0M65.8 142.1h0M66.6 145.7h0M67.1 145.1h0M67.1 144.9h0M67.3 145.9h0M66.8 145.3h0M66.8 144.6h0M67.0 144.8h0M67.9 144.6h0M67.1 143.6h0M67.0 144.7h0M66.8 145.7h0M67.0 144.2h0M67.3 144.6h0M66.9 143.7h0M67.3 143.3h0M67.3 144.5h0M67.6 144.8h0M67.2 141.8h0M68.2 145.6h0M67.8 145.4h0M68.6 144.0h0M68.5 145.1h0M68.8 143.9h0M68.4 144.0h0M68.9 144.3h0M68.9 144.3h0M68.9 145.3h0M68.1 144.6h0M68.1 144.8h0M69.5 145.0h0M69.4 144.7h0M69.3 144.5h0M69.3 144.8h0M69.7 145.2h0M69.9 144.6h0M68.4 144.7h0M68.7 144.1h0M68.2 143.4h0M69.5 143.2h0M69.8 144.4h0M69.2 140.8h0M70.0 145.4h0M69.7 144.2h0M69.3 142.3h0M70.2 144.7h0M68.8 142.7h0M70.0 144.4h0M70.0 144.7h0M70.7 145.1h0M70.5 144.9h0M70.5 143.9h0M70.3 143.0h0M70.2 142.9h0M69.5 144.9h0M70.6 144.9h0M70.6 144.6h0M71.4 144.8h0M70.6 142.9h0M71.7 143.5h0M71.3 144.1h0M71.3 142.9h0M70.9 143.4h0M72.1 144.2h0M72.0 144.0h0M71.8 145.5h0M71.3 144.9h0M71.1 144.6h0M71.3 144.9h0M71.7 144.2h0M71.6 144.6h0M71.3 144.9h0M72.6 144.5h0M71.8 144.5h0M72.0 142.3h0M71.6 144.5h0M71.8 145.4h0M71.7 144.8h0M72.2 141.5h0M72.2 144.6h0M72.6 145.0h0M72.7 145.8h0M73.0 142.1h0M73.7 144.4h0M72.8 144.9h0M72.8 143.9h0M72.6 144.8h0M72.5 145.1h0M73.7 142.2h0M73.1 144.6h0M73.5 144.3h0M73.3 143.0h0M73.1 143.8h0M73.6 142.6h0M73.5 144.3h0M73.3 144.5h0M74.4 145.5h0M74.9 141.4h0M74.3 144.8h0M74.0 145.9h0M74.7 142.0h0M74.1 143.4h0M74.6 141.7h0M74.8 145.0h0M74.6 142.9h0M74.6 144.6h0M75.1 144.8h0M74.6 144.7h0M74.3 144.4h0M74.7 145.8h0M74.9 145.8h0M75.1 145.2h0M75.2 145.9h0M75.3 144.6h0M75.2 145.2h0M75.4 145.7h0M75.5 145.5h0M75.0 145.0h0M75.3 145.6h0M76.0 144.3h0M76.3 144.9h0M75.6 144.3h0M75.4 145.9h0M75.9 143.5h0M75.4 146.1h0M75.7 145.2h0M76.2 146.4h0M76.2 145.5h0M75.6 146.2h0M76.6 143.4h0M76.1 145.5h0M76.6 145.6h0M76.8 145.0h0M76.7 145.5h0M76.0 146.2h0M76.6 144.7h0M76.5 146.0h0M76.0 145.9h0M76.3 145.9h0M76.3 146.1h0M76.9 145.6h0M77.2 144.7h0M77.7 145.3h0M77.0 146.1h0M77.6 145.8h0M77.6 145.9h0M77.0 147.1h0M78.3 144.6h0M76.9 147.4h0M76.7 146.2h0M78.4 145.6h0M78.4 146.2h0M78.3 146.4h0M78.2 146.1h0M78.1 146.0h0M77.8 146.8h0M78.1 146.9h0M78.1 147.6h0M79.3 146.4h0M79.4 145.9h0M78.6 147.5h0M80.4 144.1h0M78.6 146.4h0M79.1 146.0h0M78.9 147.3h0M78.3 147.3h0M78.5 146.3h0M79.7 147.2h0M80.1 147.0h0M78.1 147.7h0M78.3 148.2h0M79.0 146.7h0M80.7 147.3h0M78.7 147.5h0M79.5 147.8h0M78.3 148.5h0M78.8 148.1h0M78.7 148.3h0M79.0 148.6h0M79.6 147.5h0M81.7 146.6h0M79.4 148.0h0M80.8 148.3h0M80.1 148.8h0M81.9 147.6h0M79.4 148.1h0M78.3 149.1h0M79.1 148.2h0M79.7 148.4h0M81.1 148.6h0M80.3 149.2h0M81.2 148.5h0M79.5 149.0h0M81.2 148.5h0M80.2 149.3h0M81.7 148.9h0M79.3 148.8h0M80.9 148.7h0M79.3 150.1h0M78.9 149.4h0M81.5 148.7h0M80.7 149.2h0M79.5 150.2h0M79.3 150.4h0M81.9 149.5h0M79.7 150.2h0M80.2 150.2h0M81.3 149.6h0M79.3 150.7h0M79.7 150.4h0M82.0 150.6h0M79.9 150.5h0M80.3 150.7h0M81.4 151.2h0M81.6 150.9h0M80.2 150.9h0M81.9 151.1h0M81.0 150.8h0M81.0 150.9h0M80.5 151.8h0M79.7 151.5h0M81.2 152.2h0M81.9 151.4h0M79.4 151.2h0M82.2 151.7h0M80.4 152.5h0M80.8 152.0h0M82.1 151.6h0M80.4 152.0h0M81.0 151.6h0M82.0 152.0h0M79.7 152.0h0M81.2 152.3h0M80.4 152.6h0M79.6 151.9h0M80.7 152.7h0M83.0 153.0h0M79.7 152.8h0M79.4 152.3h0M79.7 152.5h0M80.3 152.0h0M78.8 152.8h0M79.5 152.9h0M79.5 152.7h0M80.7 152.9h0M80.3 153.0h0M79.3 153.1h0M82.4 153.3h0M80.2 153.0h0M80.9 153.9h0M80.6 153.8h0M80.6 152.7h0M81.8 153.4h0M80.9 153.1h0M79.9 153.4h0M79.7 153.8h0M80.2 153.2h0M79.8 153.7h0M81.1 153.8h0M81.3 153.5h0M80.8 153.8h0M81.0 153.5h0M81.3 152.9h0M81.6 153.0h0M82.2 153.3h0M80.1 153.9h0M79.9 154.2h0M80.5 153.9h0M79.7 154.4h0M80.8 154.4h0M79.6 154.3h0M81.2 152.6h0M79.4 155.0h0M81.0 153.2h0M81.1 153.0h0M80.4 154.6h0M80.9 154.5h0M80.5 153.7h0M80.2 154.4h0M80.8 153.8h0M80.5 154.5h0M81.3 154.5h0M81.2 154.2h0M81.8 152.7h0M81.1 154.2h0M81.3 153.8h0M81.0 154.6h0M82.0 152.9h0M81.4 153.8h0M81.3 154.9h0M81.5 154.6h0M81.4 155.0h0M81.4 154.2h0M81.9 154.0h0M81.2 153.8h0M81.5 155.2h0M81.6 155.3h0M82.0 152.6h0M81.5 153.4h0M81.7 154.5h0M83.1 152.9h0M82.0 154.4h0M81.9 154.3h0M81.9 153.9h0M81.9 154.7h0M82.8 151.3h0M82.6 153.6h0M82.8 154.2h0M82.4 153.6h0M82.0 154.2h0M82.8 153.9h0M82.0 155.3h0M83.1 153.4h0M83.2 154.5h0M82.6 153.0h0M83.0 154.9h0M83.9 153.1h0M83.2 153.3h0M82.7 155.3h0M82.7 154.8h0M83.6 155.0h0M83.7 154.9h0M83.6 154.1h0M83.9 153.7h0M84.1 154.6h0M84.2 151.9h0M83.4 155.1h0M85.1 153.6h0M84.3 153.9h0M84.6 154.6h0M84.1 154.4h0M83.7 155.8h0M84.3 151.9h0M83.8 154.4h0M84.2 153.4h0M84.4 154.6h0M83.9 155.2h0M85.0 153.9h0M84.8 153.6h0M84.2 155.8h0M85.4 153.4h0M85.2 153.1h0M85.3 155.0h0M84.5 155.0h0M85.1 154.8h0M85.7 153.7h0M85.1 154.6h0M85.5 155.3h0M85.3 154.2h0M84.8 155.8h0M85.2 155.5h0M84.8 155.4h0M85.8 153.7h0M85.3 155.2h0M86.1 153.1h0M86.4 153.5h0M86.1 155.1h0M86.2 154.8h0M86.0 155.2h0M86.4 154.2h0M86.6 153.1h0M87.3 153.4h0M86.6 156.0h0M87.0 153.6h0M86.6 154.2h0M87.1 155.5h0M86.1 156.3h0M86.7 155.7h0M86.7 154.7h0M86.4 155.1h0M86.0 155.4h0M87.3 156.5h0M86.5 156.3h0M87.2 154.2h0M88.0 154.1h0M88.2 153.3h0M87.4 155.5h0M86.6 155.6h0M88.7 151.7h0M87.8 155.9h0M88.4 154.6h0M87.2 156.5h0M88.5 154.1h0M88.1 156.2h0M88.1 155.6h0M87.4 156.2h0M88.9 153.5h0M87.6 155.9h0M88.1 155.6h0M88.7 154.9h0M88.4 156.7h0M89.2 155.5h0M89.3 154.4h0M88.5 155.9h0M89.2 155.3h0M88.5 156.9h0M88.6 156.7h0M88.6 156.7h0M89.4 155.7h0M88.9 156.5h0M89.5 155.9h0M89.4 156.9h0M89.1 156.8h0M91.0 154.5h0M89.9 156.2h0M89.2 156.3h0M89.4 156.5h0M89.5 156.9h0M89.4 157.5h0M90.4 155.9h0M91.1 155.0h0M89.4 156.8h0M91.2 155.7h0M89.6 157.9h0M90.0 156.5h0M90.9 156.2h0M90.1 157.5h0M90.1 157.2h0M91.3 157.4h0M90.2 157.7h0M90.3 158.0h0M92.5 155.9h0M93.3 155.8h0M90.4 158.4h0M90.6 158.0h0M91.7 157.4h0M90.0 157.9h0M91.6 157.5h0M90.3 158.4h0M90.8 158.4h0M89.7 158.4h0M90.5 158.9h0M89.7 157.8h0M90.5 158.3h0M89.7 158.7h0M90.3 158.5h0M92.6 158.7h0M91.6 158.7h0M92.2 159.1h0M90.7 159.2h0M90.8 159.2h0M90.4 159.4h0M90.6 159.5h0M92.0 159.9h0M91.5 159.2h0M91.9 159.3h0M92.7 159.1h0M92.3 159.0h0M91.7 159.7h0M91.9 159.6h0M91.0 160.7h0M91.6 160.0h0M90.4 160.1h0M91.0 160.9h0M91.1 160.5h0M93.0 160.0h0M93.2 160.4h0M90.6 159.9h0M91.0 160.4h0M90.7 160.8h0M90.8 160.3h0M91.1 160.4h0M91.6 161.3h0M90.5 161.0h0M91.6 161.1h0M91.3 161.2h0M93.5 161.1h0M90.1 161.4h0M91.0 161.2h0M91.2 162.1h0M91.7 161.2h0M91.5 161.4h0M90.8 161.7h0M92.6 162.6h0M94.0 161.6h0M93.8 162.6h0M92.5 161.8h0M90.1 161.7h0M92.4 162.6h0M93.4 162.2h0M90.8 161.6h0M90.6 162.1h0M91.4 162.2h0M92.2 161.8h0M91.9 162.4h0M91.7 162.6h0M90.3 162.6h0M90.8 162.3h0M90.8 162.4h0M90.7 163.0h0M89.9 162.5h0M90.1 163.5h0M90.9 163.1h0M90.6 162.7h0M94.1 164.1h0M91.2 163.1h0M92.3 164.8h0M90.7 163.2h0M91.0 163.7h0M90.8 164.2h0M89.8 163.9h0M90.4 163.1h0M90.5 164.0h0M89.8 163.5h0M89.2 164.1h0M90.3 164.4h0M89.3 164.0h0M90.9 166.0h0M90.0 164.2h0M90.4 165.8h0M90.4 165.3h0M89.9 164.6h0M89.9 164.5h0M89.1 164.6h0M88.8 164.2h0M88.7 164.4h0M89.0 164.1h0M90.1 166.1h0M89.2 166.3h0M89.7 166.7h0M89.0 164.9h0M88.9 164.5h0M88.3 164.7h0M88.7 165.4h0M88.7 165.0h0M88.7 166.2h0M88.8 164.9h0M88.0 164.5h0M88.5 165.3h0M88.4 164.5h0M88.0 165.3h0M88.3 164.4h0M87.7 166.1h0M88.0 165.3h0M87.1 165.1h0M88.2 165.9h0M88.4 167.5h0M86.9 166.2h0M87.4 165.6h0M88.4 165.8h0M86.9 166.1h0M88.0 170.2h0M87.6 166.4h0M86.8 166.1h0M87.7 166.6h0M87.1 166.1h0M87.0 165.2h0M86.5 164.8h0M86.7 165.1h0M87.3 166.2h0M86.7 165.1h0M86.4 164.5h0M86.0 167.0h0M85.6 166.8h0M86.1 164.5h0M86.2 166.1h0M87.2 167.1h0M85.8 165.8h0M86.0 164.5h0M85.9 165.4h0M86.1 167.4h0M85.8 166.2h0M86.7 169.4h0M86.3 165.1h0M86.2 166.7h0M84.9 166.2h0M85.4 164.5h0M85.3 165.2h0M85.0 166.0h0M85.7 167.0h0M85.7 166.1h0M85.1 164.5h0M85.0 165.5h0M85.2 166.5h0M85.9 166.4h0M85.2 166.1h0M84.6 165.3h0M85.6 165.9h0M84.7 165.8h0M84.4 166.4h0M84.5 167.4h0M84.2 167.9h0M84.3 166.8h0M84.9 166.2h0M83.5 165.0h0M83.6 165.6h0M83.6 165.9h0M84.1 165.5h0M83.8 166.1h0M84.2 167.5h0M84.2 165.1h0M84.6 165.6h0M83.9 165.4h0M83.8 166.1h0M84.8 167.1h0M84.1 165.3h0M83.2 169.0h0M82.6 165.2h0M83.4 168.0h0M83.0 167.7h0M83.3 166.1h0M82.9 166.8h0M83.1 166.5h0M82.6 165.7h0M82.8 164.9h0M82.7 168.2h0M82.5 165.3h0M82.6 168.5h0M82.6 165.9h0M83.6 165.7h0M82.1 167.6h0M83.6 166.1h0M81.3 166.0h0M81.6 165.6h0M81.7 166.3h0M81.1 166.6h0M81.4 166.5h0M81.3 167.0h0M82.0 167.7h0M81.0 166.1h0M82.0 166.7h0M80.7 168.2h0M81.7 165.9h0M81.6 167.5h0M82.5 166.9h0M81.0 165.5h0M81.2 167.8h0M80.8 165.7h0M82.1 165.9h0M79.9 166.0h0M80.4 165.3h0M80.0 168.3h0M80.0 166.2h0M80.0 167.5h0M80.2 164.9h0M79.4 165.1h0M81.2 164.9h0M79.7 165.8h0M80.0 165.3h0M80.6 165.7h0M80.6 166.1h0M80.1 165.4h0M80.8 165.9h0M80.8 168.8h0M81.0 165.4h0M80.6 167.2h0M79.0 165.7h0M78.8 166.0h0M78.7 167.4h0M78.7 165.5h0M79.5 166.4h0M79.7 166.3h0M79.4 165.2h0M79.1 166.6h0M79.2 165.9h0M80.0 166.1h0M78.5 167.2h0M79.5 168.7h0M79.7 165.9h0M78.9 165.9h0M78.8 165.7h0M78.5 167.4h0M78.7 166.3h0M79.3 168.7h0M78.4 167.0h0M77.9 166.8h0M78.1 166.0h0M78.0 168.0h0M77.9 165.6h0M78.4 165.8h0M78.2 166.5h0M77.1 165.7h0M77.8 166.3h0M77.7 166.0h0M78.3 167.0h0M78.0 165.6h0M77.1 165.6h0M78.2 167.6h0M78.6 164.7h0M77.1 165.9h0M78.1 166.8h0M76.4 167.6h0M77.3 167.2h0M76.5 165.3h0M77.5 166.3h0M76.9 166.5h0M76.4 166.1h0M77.8 168.3h0M75.9 166.7h0M77.3 165.8h0M76.4 165.3h0M76.2 165.9h0M76.5 166.4h0M76.8 165.5h0M76.1 166.1h0M76.7 167.2h0M76.8 166.2h0M75.2 166.3h0M75.5 165.9h0M75.8 166.2h0M75.3 165.3h0M76.5 167.1h0M76.0 168.3h0M75.5 167.5h0M75.9 165.9h0M75.4 165.4h0M75.3 166.8h0M74.8 165.7h0M75.1 167.7h0M76.2 168.0h0M75.5 165.3h0M76.5 166.9h0M74.6 167.9h0M74.1 166.1h0M74.0 165.4h0M74.4 167.4h0M74.5 166.7h0M74.5 166.1h0M74.5 168.4h0M75.4 167.5h0M74.2 166.4h0M75.0 168.7h0M75.0 165.6h0M74.6 165.4h0M75.5 166.0h0M74.0 167.7h0M74.2 166.7h0M75.0 167.7h0M73.1 166.2h0M73.4 168.0h0M73.9 167.2h0M73.5 166.5h0M73.5 167.1h0M74.0 168.0h0M74.1 167.8h0M73.9 168.6h0M72.9 166.5h0M73.4 166.9h0M73.7 167.2h0M73.9 168.0h0M74.0 166.5h0M72.8 165.7h0M73.7 166.9h0M74.5 165.8h0M71.7 165.8h0M71.7 167.0h0M72.5 166.7h0M71.9 166.2h0M72.1 166.6h0M72.0 167.6h0M72.1 166.8h0M72.1 167.6h0M72.0 165.8h0M72.7 167.2h0M72.1 166.0h0M72.4 166.1h0M72.3 167.4h0M72.8 169.6h0M72.5 168.2h0M71.7 168.5h0M72.6 165.6h0M71.3 168.0h0M70.9 167.3h0M71.4 168.4h0M71.0 166.9h0M71.8 165.7h0M71.2 166.1h0M71.2 167.7h0M71.1 167.9h0M71.5 165.9h0M71.3 165.5h0M71.7 166.1h0M71.4 165.5h0M71.3 166.7h0M71.9 166.4h0M71.6 165.6h0M70.6 168.9h0M71.7 167.4h0M69.5 169.4h0M70.1 166.8h0M70.2 166.1h0M69.6 169.6h0M70.4 166.5h0M69.8 166.4h0M69.6 167.2h0M69.5 167.8h0M70.2 166.7h0M70.9 168.7h0M70.2 166.1h0M69.8 166.6h0M70.0 166.7h0M69.7 166.0h0M70.2 169.5h0M70.1 166.6h0M69.9 166.7h0M69.2 168.9h0M69.3 167.6h0M68.3 168.1h0M69.3 165.6h0M69.1 168.5h0M68.0 167.6h0M69.0 166.9h0M68.0 166.1h0M69.6 166.7h0M68.8 167.5h0M69.1 167.2h0M68.3 166.9h0M69.3 166.5h0M68.5 166.8h0M68.9 167.2h0M68.9 166.9h0M67.5 167.3h0M67.8 166.3h0M68.2 168.0h0M67.2 167.4h0M68.3 168.6h0M67.4 166.9h0M67.8 169.8h0M67.9 166.5h0M67.4 167.5h0M66.8 166.8h0M67.3 167.8h0M67.1 166.2h0M67.4 167.5h0M66.7 166.7h0M67.4 167.2h0M66.8 166.5h0M66.5 168.3h0M66.9 168.5h0M67.3 167.8h0M66.8 166.8h0M66.6 168.0h0M65.7 166.6h0M66.6 166.8h0M66.8 166.3h0M66.9 168.3h0M66.1 167.8h0M66.0 167.7h0M66.8 167.2h0M67.0 167.6h0M67.1 166.8h0M65.0 166.7h0M64.9 167.2h0M65.5 167.8h0M65.9 166.9h0M65.5 166.9h0M66.2 168.3h0M64.9 168.2h0M64.9 167.5h0M65.9 166.6h0M66.0 167.0h0M65.2 167.0h0M65.1 166.3h0M65.4 166.7h0M65.1 166.2h0M64.9 169.5h0M64.6 167.0h0M64.3 168.0h0M64.4 168.8h0M64.7 169.3h0M64.4 167.1h0M64.7 167.4h0M64.9 167.1h0M64.4 168.2h0M64.6 166.8h0M64.5 169.3h0M64.1 168.0h0M64.5 169.1h0M63.4 167.9h0M63.1 167.1h0M63.8 166.5h0M63.3 166.6h0M64.2 166.9h0M63.6 168.1h0M63.9 166.2h0M62.9 166.6h0M63.5 167.7h0M63.7 170.2h0M63.7 168.2h0M62.4 166.5h0M62.8 167.3h0M62.2 166.5h0M62.3 165.5h0M63.0 168.2h0M63.2 166.7h0M63.1 167.9h0M62.5 168.4h0M63.3 166.4h0M63.4 167.9h0M62.3 167.4h0M61.9 168.3h0M61.5 167.8h0M62.4 167.4h0M62.5 166.4h0M61.8 168.4h0M61.9 167.9h0M62.2 166.3h0M61.7 166.6h0M61.2 167.1h0M61.7 166.4h0M60.9 168.6h0M61.2 167.0h0M60.7 167.7h0M61.0 166.7h0M61.2 167.3h0M61.3 166.5h0M59.6 167.6h0M61.6 165.8h0M59.0 168.9h0M61.4 165.6h0M59.8 166.9h0M60.5 166.6h0M61.1 166.2h0M60.4 165.1h0M60.3 165.5h0M59.6 166.2h0M59.4 165.9h0M60.4 165.3h0M60.7 165.9h0M60.7 165.2h0M59.3 165.4h0M58.1 165.3h0M59.0 164.5h0M60.4 164.9h0M60.8 164.6h0M59.5 164.9h0M58.1 164.7h0M60.3 164.9h0M57.4 164.2h0M60.2 164.3h0M57.3 164.3h0M60.5 164.1h0M61.0 163.6h0M59.2 163.9h0M60.0 164.5h0M59.5 164.4h0M59.3 163.4h0M61.3 163.6h0M59.3 163.3h0M60.4 164.0h0M60.0 162.9h0M59.8 163.4h0M60.3 163.2h0M58.0 163.7h0M59.8 164.1h0M58.3 162.2h0M59.9 162.9h0M59.6 163.2h0M60.3 163.3h0M61.1 163.1h0M61.2 162.9h0M59.9 162.5h0M59.5 162.4h0M59.9 163.1h0M59.9 162.7h0M59.1 161.6h0M60.1 162.0h0M60.6 162.2h0M60.7 161.8h0M59.4 162.5h0M59.4 161.9h0M60.8 161.4h0M59.6 161.0h0M61.5 162.0h0M61.1 161.8h0M60.6 162.0h0M61.0 161.8h0M61.1 160.9h0M60.8 161.4h0M61.8 161.5h0M60.7 161.3h0M61.4 161.7h0M58.9 160.4h0M61.2 161.6h0M61.1 161.4h0M60.8 160.9h0M61.2 161.2h0M59.6 160.8h0M58.1 159.5h0M61.6 160.5h0M60.3 160.5h0M61.5 160.5h0M61.6 160.9h0M60.5 160.6h0M61.1 160.8h0M61.3 160.5h0M61.8 160.3h0M60.9 159.8h0M61.4 160.0h0M61.7 161.0h0M62.1 160.8h0M60.1 159.7h0M61.2 158.8h0M61.7 160.2h0M60.1 159.1h0M61.4 159.7h0M62.1 159.3h0M61.3 159.4h0M62.5 159.4h0M62.2 159.5h0M61.0 159.4h0M61.5 159.3h0M61.8 159.7h0M61.5 159.1h0M61.4 158.8h0M60.7 158.2h0M58.6 158.0h0M60.4 158.4h0M61.2 158.3h0M62.0 158.6h0M62.9 158.1h0M60.3 157.7h0M61.8 158.3h0M61.7 158.1h0M62.0 158.1h0M60.6 157.7h0M61.6 158.3h0M59.3 156.2h0M62.0 158.2h0M61.5 157.4h0M62.1 158.2h0M60.9 157.7h0M62.9 158.5h0M59.3 156.7h0M62.8 157.5h0M62.3 156.8h0M62.6 157.3h0M62.3 158.0h0M62.3 156.8h0M63.2 157.7h0M62.4 157.2h0M61.8 156.5h0M61.8 157.4h0M63.0 157.4h0M63.3 158.0h0M60.9 156.6h0M62.2 156.5h0M60.7 156.4h0M63.0 156.5h0M63.3 156.8h0M62.6 157.6h0M61.7 155.8h0M62.9 156.3h0M62.2 156.6h0M63.9 156.6h0M61.2 156.1h0M64.1 156.6h0M62.4 156.1h0M61.6 155.8h0M62.7 156.7h0M63.5 155.9h0M63.7 156.1h0M63.1 155.3h0M64.3 156.1h0M63.2 156.0h0M63.1 156.0h0M63.7 155.5h0M63.8 156.1h0M61.2 154.2h0M62.6 154.9h0M63.3 156.1h0M62.4 154.8h0M63.3 155.7h0M62.6 155.0h0M63.1 155.1h0M62.5 155.4h0M63.0 155.1h0M64.4 154.5h0M62.2 155.2h0M62.6 155.5h0M61.7 155.0h0M64.0 155.4h0M63.2 155.3h0M64.0 154.9h0M62.5 155.3h0M63.6 154.3h0M61.0 155.6h0M63.0 154.5h0M63.5 154.6h0M63.9 154.3h0M63.7 154.6h0M63.2 154.6h0M61.3 155.0h0M63.3 154.3h0M63.5 154.4h0M62.4 154.7h0M63.5 154.1h0M62.6 154.4h0M63.3 153.8h0M63.5 154.2h0M63.2 154.3h0M63.4 154.0h0M63.4 153.3h0M62.1 154.3h0M61.7 155.1h0M62.6 154.6h0M61.7 154.5h0M60.9 155.0h0M62.7 153.8h0M61.4 155.2h0M61.2 154.9h0M62.8 153.6h0M62.1 154.2h0M62.4 153.8h0M62.8 153.1h0M61.4 154.2h0M63.0 153.4h0M62.0 153.5h0M59.3 155.5h0M62.7 153.1h0M62.4 153.5h0M62.1 153.1h0M62.7 152.8h0M62.0 152.9h0M63.2 152.3h0M62.6 152.5h0M63.1 152.1h0M62.0 152.5h0M61.7 153.1h0M62.1 152.2h0M62.6 152.2h0M62.0 152.9h0M61.1 153.2h0M60.6 152.9h0M62.6 151.6h0M62.4 152.4h0M61.7 152.0h0M61.3 152.7h0M60.6 152.1h0M61.3 151.5h0M61.7 151.6h0M61.9 151.3h0M61.6 150.6h0M60.0 151.1h0M60.3 151.2h0M60.8 152.3h0M60.9 150.6h0M59.3 151.2h0M59.9 150.3h0M60.1 151.4h0M60.4 151.0h0M61.6 150.7h0M61.9 150.4h0M60.1 150.0h0M62.3 150.4h0M62.3 150.5h0M60.6 150.7h0M60.6 150.1h0M61.7 150.0h0M61.8 150.1h0M61.1 150.5h0M60.9 149.8h0M61.4 149.5h0M61.7 149.9h0M61.1 149.7h0M61.9 150.4h0M60.4 149.1h0M59.2 149.6h0M59.9 149.5h0M60.5 149.4h0M60.7 149.3h0M60.6 148.3h0M60.0 148.8h0M62.2 149.0h0M61.8 148.6h0M61.6 149.1h0M60.5 148.1h0M62.1 148.6h0M62.3 148.7h0M62.3 149.2h0M61.3 148.9h0M61.0 148.0h0M61.9 147.8h0M61.5 147.8h0M61.4 148.1h0M61.5 148.4h0M62.1 148.1h0M62.2 148.1h0M61.5 147.6h0M62.3 148.3h0M61.3 147.5h0M62.4 147.0h0M63.1 147.8h0M61.5 147.7h0M62.3 147.4h0M61.2 147.2h0M61.6 147.3h0M62.4 147.1h0M62.2 147.4h0M61.1 145.4h0M62.5 147.2h0M63.4 146.6h0M62.8 146.8h0M62.2 146.6h0M61.3 144.5h0M60.8 144.2h0M60.9 143.0h0M60.8 143.1h0M63.9 146.5h0M63.7 145.7h0M61.3 139.0h0M63.4 144.0h0M63.4 145.8h0M63.6 143.4h0M64.2 145.5h0M62.0 138.8h0M63.9 139.0h0M64.9 144.7h0M65.4 145.0h0M65.8 142.8h0M64.7 139.6h0M66.8 145.6h0M65.1 139.5h0M66.5 144.1h0M66.0 143.8h0M66.5 141.0h0M66.7 145.3h0M67.8 142.1h0M67.9 142.8h0M68.9 143.8h0M67.8 144.0h0M68.9 140.4h0M69.2 140.5h0M68.9 138.8h0M69.6 140.6h0M70.0 144.4h0M70.1 141.7h0M71.0 144.3h0M70.9 144.1h0M70.1 144.4h0M71.6 143.6h0M72.0 139.6h0M72.2 141.6h0M72.1 144.8h0M73.7 142.5h0M72.5 145.7h0M73.9 137.6h0M73.8 145.0h0M73.7 145.7h0M74.8 138.8h0M74.4 144.9h0M74.9 143.6h0M75.2 145.0h0M75.5 143.3h0M75.7 144.5h0M75.5 145.7h0M78.1 139.9h0M76.3 144.9h0M77.2 144.2h0M76.3 146.4h0M77.5 144.1h0M77.6 145.3h0M78.5 144.2h0M78.1 145.0h0M81.6 142.0h0M80.6 144.4h0M81.3 142.7h0M79.6 145.7h0M82.1 144.9h0M79.7 146.6h0M78.9 147.4h0M86.7 143.5h0M79.9 148.7h0M84.2 146.3h0M81.0 148.5h0M87.0 146.5h0M82.1 148.9h0M87.3 148.7h0M87.5 150.1h0M79.6 150.4h0M81.8 150.8h0M79.9 151.1h0M82.2 151.4h0M80.7 152.0h0M84.5 152.1h0M81.9 152.6h0M80.2 152.5h0M86.0 153.5h0M83.4 153.0h0M82.3 153.2h0M79.4 153.8h0M89.1 151.9h0M81.1 153.0h0M84.7 150.5h0M80.6 153.6h0M81.3 152.6h0M83.2 149.1h0M80.7 153.2h0M80.7 153.5h0M82.0 148.6h0M81.6 153.5h0M82.4 151.9h0M82.6 148.4h0M81.8 154.1h0M82.5 149.3h0M83.0 149.0h0M83.0 150.9h0M83.7 154.4h0M83.1 151.5h0M83.6 153.3h0M83.1 155.0h0M85.3 150.8h0M84.3 152.0h0M84.5 154.9h0M85.9 150.7h0M85.4 151.6h0M85.6 154.3h0M86.9 150.7h0M87.2 150.8h0M86.5 153.4h0M85.4 155.7h0M86.2 155.7h0M85.9 155.3h0M87.5 152.5h0M87.6 154.0h0M88.3 151.6h0M89.5 152.5h0M88.0 153.4h0M88.6 152.9h0M89.3 151.9h0M89.0 156.6h0M88.8 154.8h0M88.7 156.1h0M90.4 154.1h0M91.2 154.3h0M89.2 157.2h0M90.6 155.8h0M91.6 154.9h0M91.6 156.0h0M90.8 156.8h0M92.1 157.1h0M90.2 157.9h0M89.9 158.6h0M90.8 157.7h0M98.7 155.8h0M91.9 158.9h0M91.5 158.1h0M92.9 159.4h0M93.8 158.8h0M90.9 159.5h0M92.0 160.0h0M93.9 160.3h0M93.8 161.2h0M93.0 161.8h0M98.0 163.3h0M93.9 162.3h0M95.1 162.4h0M90.1 163.0h0M93.3 163.7h0M91.6 163.3h0M94.1 166.1h0M93.3 166.0h0M92.8 166.6h0M89.8 164.4h0M89.6 164.6h0M90.3 168.2h0M89.2 164.4h0M88.2 165.1h0M91.1 172.8h0M88.8 166.6h0M87.9 167.5h0M88.8 167.3h0M87.4 165.4h0M87.5 166.6h0M87.6 171.1h0M86.3 166.0h0M87.2 164.8h0M86.4 169.4h0M86.5 168.8h0M86.1 166.5h0M85.1 167.0h0M85.1 167.2h0M85.4 172.9h0M85.3 172.4h0M85.3 166.6h0M83.9 166.0h0M84.7 172.0h0M83.4 165.4h0M83.7 168.9h0M82.8 169.1h0M83.4 167.5h0M82.7 168.4h0M82.6 167.3h0M82.2 165.4h0M81.7 171.1h0M82.3 168.5h0M81.3 167.0h0M82.4 167.6h0M81.2 165.6h0M81.4 173.6h0M80.2 165.4h0M81.4 173.6h0M80.9 167.5h0M80.4 168.8h0M79.2 165.8h0M80.2 171.8h0M78.6 165.7h0M79.5 168.0h0M79.1 165.9h0M78.0 167.7h0M77.3 165.6h0M79.0 174.0h0M77.3 165.2h0M77.3 170.9h0M77.1 171.2h0M77.4 168.3h0M76.0 166.5h0M77.7 170.3h0M76.9 169.2h0M75.2 170.7h0M75.8 168.2h0M76.4 171.6h0M75.5 167.9h0M75.5 166.1h0M73.6 167.3h0M74.2 167.0h0M74.4 167.9h0M75.2 166.4h0M73.1 165.6h0M74.6 171.5h0M73.8 174.9h0M74.1 169.0h0M73.8 170.3h0M72.8 176.5h0M72.8 165.7h0M72.9 167.2h0M72.9 170.2h0M72.6 166.1h0M72.4 176.0h0M71.8 167.4h0M71.7 168.4h0M71.0 171.1h0M71.7 169.4h0M70.6 170.6h0M69.8 166.5h0M70.0 165.7h0M70.6 167.8h0M69.7 173.8h0M69.0 167.4h0M68.0 169.8h0M68.8 168.1h0M68.9 166.1h0M68.1 172.7h0M67.3 166.7h0M67.4 168.1h0M67.5 169.7h0M66.4 167.5h0M65.8 167.4h0M66.9 169.3h0M67.2 168.9h0M65.4 167.3h0M65.7 166.5h0M65.7 167.3h0M65.4 168.0h0M64.8 170.2h0M64.4 174.2h0M64.8 170.1h0M63.4 172.1h0M64.5 167.2h0M63.8 167.5h0M61.9 172.0h0M62.5 169.2h0M61.5 170.3h0M61.8 168.5h0M61.3 166.3h0M58.2 172.4h0M60.3 166.9h0M60.7 166.6h0M60.4 166.0h0M57.5 166.2h0M55.4 165.9h0M55.6 164.9h0M56.2 164.5h0M57.4 163.6h0M59.8 163.7h0M57.9 163.5h0M56.5 163.4h0M56.2 163.4h0M59.0 163.5h0M59.0 161.8h0M59.5 161.6h0M61.0 162.1h0M57.3 160.7h0M60.9 160.8h0M56.7 158.9h0M61.8 161.2h0M51.1 156.4h0M60.7 160.2h0M61.8 160.2h0M62.3 159.8h0M59.9 158.5h0M52.7 156.2h0M57.5 158.1h0M59.1 157.5h0M60.8 158.2h0M60.2 158.0h0M57.8 156.3h0M60.4 157.1h0M61.5 157.1h0M60.7 156.1h0M60.3 156.1h0M62.7 156.7h0M58.5 154.6h0M57.0 153.7h0M61.2 155.4h0M59.5 154.0h0M60.5 155.6h0M59.8 154.2h0M63.0 155.5h0M63.0 155.5h0M64.0 154.8h0M61.7 155.0h0M63.6 155.1h0M58.5 156.0h0M63.1 154.6h0M62.2 154.7h0M58.3 157.2h0M60.7 155.1h0M62.3 153.8h0M56.4 157.6h0M59.7 154.8h0M56.0 156.9h0M56.4 156.4h0M59.0 154.7h0M57.5 154.3h0M58.2 153.0h0M61.8 151.0h0M61.4 151.8h0M60.4 150.9h0M59.0 151.4h0M57.2 151.0h0M59.7 150.4h0M58.6 150.4h0M61.6 149.6h0M60.4 149.4h0M58.7 149.2h0M58.3 149.0h0M58.7 148.5h0M58.1 148.2h0M61.0 148.1h0M62.1 148.5h0M54.1 145.0h0M61.7 147.8h0M62.0 147.2h0M55.6 143.0h0M60.7 145.5h0M59.7 144.6h0M60.6 143.8h0M62.7 147.2h0M57.8 156.5h0M59.0 148.4h0M59.9 156.6h0M59.0 152.3h0M58.9 151.7h0M58.3 160.9h0M58.9 160.8h0M58.8 153.2h0M61.2 149.2h0M61.5 154.1h0M59.4 158.0h0M58.1 159.3h0M59.3 156.0h0M59.5 155.1h0M57.6 159.0h0M60.0 153.1h0M60.1 150.5h0M59.6 152.2h0M58.3 150.3h0M60.8 158.0h0M62.9 149.0h0M58.9 153.2h0M60.8 156.9h0M57.8 159.6h0M57.7 147.3h0M58.9 154.8h0M60.8 156.4h0M57.7 150.4h0M57.6 144.9h0M61.4 148.8h0M59.3 156.0h0M59.0 159.5h0M60.4 157.0h0M59.8 164.5h0M57.0 150.2h0M57.9 155.9h0M58.1 165.4h0M58.2 165.2h0M58.9 151.0h0M57.4 151.2h0M59.3 157.2h0M60.3 159.1h0M60.8 153.3h0M60.2 158.7h0M57.2 158.7h0M61.1 155.1h0M57.1 160.0h0M60.7 153.9h0M58.3 153.4h0M59.8 157.1h0M59.8 153.9h0M61.6 164.8h0M58.7 154.5h0M62.2 150.2h0M62.6 159.2h0M59.1 159.7h0M61.5 152.0h0M63.3 158.9h0M63.0 155.3h0M58.2 145.1h0M60.5 153.8h0M57.9 153.4h0M57.8 164.0h0M60.6 147.2h0M60.4 156.1h0M58.2 149.3h0M58.8 158.0h0M59.5 162.2h0M57.2 164.6h0M57.6 158.7h0M59.1 155.0h0M61.4 147.4h0M61.4 153.1h0M58.4 143.7h0M59.7 154.3h0M60.2 150.7h0M61.6 156.9h0M63.3 157.0h0M58.6 149.8h0M61.0 152.9h0M59.7 150.3h0M62.8 155.6h0M58.5 150.5h0M59.4 155.2h0M59.4 156.7h0M61.6 149.0h0M58.7 159.4h0M61.3 155.9h0M61.0 157.2h0M58.9 146.6h0M59.8 151.2h0M63.0 151.3h0M59.8 149.4h0M59.2 155.4h0M57.9 161.5h0M58.7 157.5h0M57.3 157.3h0M58.8 159.4h0M59.8 149.9h0M61.7 163.0h0M61.1 159.2h0M57.2 165.5h0M59.4 150.5h0M58.8 152.7h0M58.6 141.4h0M61.2 156.4h0M56.9 148.6h0M61.6 159.1h0M59.4 152.9h0M60.2 158.4h0M57.6 159.3h0M60.6 161.3h0M57.5 152.9h0M59.6 148.7h0M58.4 153.8h0M61.1 150.7h0M57.6 157.9h0M60.1 151.4h0M60.7 163.8h0M59.2 158.7h0M62.7 154.7h0M58.6 153.1h0M62.2 157.9h0M59.4 150.7h0M56.9 164.6h0M58.9 154.3h0M57.7 153.7h0M59.9 157.7h0M57.7 162.4h0M61.9 156.5h0M59.7 153.9h0M60.3 161.8h0M59.1 161.9h0M61.2 154.5h0M61.1 162.3h0M59.3 154.4h0M59.4 154.7h0M62.1 156.2h0M59.6 155.6h0M59.1 154.8h0M62.7 161.9h0M60.1 156.3h0M61.2 147.9h0M59.3 151.8h0M58.3 159.8h0M58.9 159.8h0M59.0 155.2h0M59.8 163.6h0M58.0 150.0h0M57.0 159.4h0M62.6 147.1h0M57.7 148.0h0M59.2 163.1h0M57.6 150.7h0M60.4 155.7h0M60.5 154.3h0M59.2 156.1h0M60.1 160.0h0M59.5 153.9h0M60.7 159.9h0M58.7 158.3h0M61.1 153.3h0M57.7 146.5h0M60.5 156.2h0M58.1 164.7h0M57.9 158.4h0M57.1 153.1h0M57.4 157.3h0M58.8 153.8h0M59.9 165.9h0M60.0 158.3h0M57.8 157.7h0M61.1 150.2h0M59.9 163.1h0M58.6 147.0h0M60.6 152.2h0M60.5 149.6h0M58.8 157.3h0M60.8 163.4h0M61.3 150.5h0M59.1 147.0h0M59.0 163.4h0M61.0 151.7h0M59.1 160.4h0M61.1 153.8h0M62.6 158.5h0M57.5 144.9h0M58.3 145.7h0M58.3 161.0h0M59.5 156.8h0M59.8 159.7h0M58.6 158.0h0M59.1 157.7h0M60.3 156.3h0M59.2 152.2h0M63.6 156.8h0M59.5 146.5h0M59.7 158.3h0M59.6 152.9h0M61.2 151.3h0M61.4 155.2h0M61.9 152.3h0M59.0 152.0h0M59.0 162.1h0M61.8 150.5h0M59.2 156.1h0M59.0 147.6h0M58.7 150.8h0M58.7 159.5h0M59.3 152.2h0M60.6 155.5h0M59.9 157.0h0M61.1 163.6h0M59.2 150.4h0M61.1 160.6h0M62.0 146.5h0M60.8 163.0h0M58.5 154.7h0M58.3 155.4h0M58.0 148.3h0M59.8 156.7h0M57.0 158.7h0M61.7 151.3h0M59.0 153.6h0M59.6 151.9h0M58.2 148.5h0M61.1 154.6h0M57.8 151.8h0M57.9 160.8h0M58.8 154.4h0M59.3 152.7h0M60.0 164.5h0M59.0 156.3h0M59.8 161.5h0M58.6 144.1h0M58.7 156.2h0M60.0 164.2h0M57.0 146.8h0M59.0 156.6h0M59.3 147.7h0M58.5 162.8h0M61.1 148.4h0M58.4 146.0h0M57.8 157.0h0M59.1 154.0h0M57.7 153.0h0M60.4 160.6h0M58.1 150.3h0M60.0 153.0h0M60.9 147.7h0M59.9 157.4h0M59.7 153.3h0M60.6 151.7h0M60.2 152.3h0M62.1 154.6h0M60.2 160.8h0M58.6 148.6h0M58.9 149.3h0M57.3 162.8h0M60.6 154.4h0M58.2 162.6h0M59.3 146.4h0M62.0 155.2h0M58.6 155.0h0M58.0 159.7h0M58.5 164.1h0M60.1 151.5h0M57.8 156.0h0M59.4 160.0h0M58.2 156.8h0M58.7 153.5h0M63.1 161.0h0M58.3 152.4h0M58.2 160.3h0M62.0 158.6h0M61.5 161.3h0M59.2 152.2h0M60.5 155.0h0M60.6 155.5h0M58.9 157.7h0M57.1 150.3h0M58.2 157.2h0M61.0 155.6h0M58.3 160.2h0M60.4 157.0h0M59.8 155.2h0M57.7 153.5h0M60.6 158.3h0M61.0 152.4h0M58.1 154.3h0M57.2 160.9h0M61.2 149.3h0M57.4 156.0h0M59.6 150.5h0M57.6 156.1h0M59.3 152.3h0M60.2 162.5h0M59.3 152.4h0M57.8 152.0h0M56.9 144.6h0M58.3 141.7h0M59.0 163.2h0M59.9 156.5h0M62.7 160.1h0M60.1 152.7h0M59.6 147.7h0M60.0 163.1h0M60.8 152.4h0M59.8 154.4h0M59.1 151.5h0M58.7 162.5h0M60.2 149.4h0M59.3 157.0h0M58.6 155.8h0M60.8 143.4h0M57.8 150.0h0M60.5 158.5h0M58.4 146.2h0M60.5 160.2h0M57.6 149.6h0M58.1 153.9h0M58.9 156.1h0M60.0 152.3h0M58.3 146.7h0M61.8 155.5h0M59.1 154.3h0M58.0 163.6h0M58.7 158.4h0M61.5 145.2h0M59.3 147.6h0M57.6 156.0h0M61.8 158.4h0M58.8 150.5h0M62.5 161.3h0M59.2 161.5h0M61.1 160.6h0M58.1 155.5h0M59.0 159.5h0M61.5 148.4h0M59.2 148.3h0M58.7 162.3h0M59.0 144.4h0M59.8 156.1h0M60.8 155.0h0M56.8 161.7h0M60.0 152.4h0M58.9 155.5h0M58.5 159.7h0M59.4 153.7h0M58.5 150.8h0M58.5 155.4h0M58.4 155.8h0M58.5 157.7h0M58.3 152.4h0M59.7 156.0h0M58.2 152.4h0M60.0 160.1h0M61.0 154.2h0M59.9 149.7h0M61.4 162.4h0M57.3 158.6h0M61.9 159.9h0M60.6 162.1h0M61.2 149.5h0M59.9 163.0h0M59.2 155.1h0M59.2 143.9h0M61.3 160.4h0M57.2 152.5h0M57.9 153.5h0M59.4 154.8h0M59.3 163.1h0M60.4 146.9h0M58.3 158.4h0M58.0 148.8h0M58.3 151.6h0M107.1 153.3h0M95.6 152.4h0M93.6 143.7h0M110.4 153.1h0M87.6 143.2h0M101.3 154.4h0M92.1 147.3h0M97.8 142.8h0M97.0 148.6h0M81.2 151.9h0M98.3 149.5h0M102.0 151.8h0M87.1 157.6h0M86.4 143.8h0M95.0 151.5h0M98.1 147.4h0M64.7 154.3h0M82.1 162.0h0M50.2 174.0h0M51.0 165.7h0M59.9 142.0h0M74.6 169.8h0M99.3 150.2h0M56.3 145.6h0M87.9 188.0h0M83.3 150.4h0M92.2 167.1h0M71.3 183.1h0M71.5 180.4h0M69.1 175.6h0M69.3 184.0h0M62.4 184.9h0M91.3 150.4h0M79.8 153.6h0M70.9 122.6h0M57.3 172.1h0M86.7 159.6h0M66.6 150.1h0M51.9 179.1h0M82.2 140.8h0M88.7 176.6h0M68.8 165.1h0M87.6 155.4h0M75.9 165.9h0M58.3 184.6h0M66.8 147.2h0M78.8 170.4h0M77.6 145.1h0M89.9 152.2h0M62.8 164.3h0M51.2 184.1h0M61.6 154.9h0M65.4 170.6h0M78.0 182.4h0M69.9 154.3h0M85.0 162.5h0M71.6 166.6h0M75.1 157.7h0M75.0 141.3h0M67.2 177.5h0M66.5 172.4h0M71.4 164.7h0M78.2 147.2h0M55.6 186.4h0M70.7 130.2h0M79.1 160.0h0M82.8 170.3h0M75.2 177.6h0M65.4 135.4h0M73.7 153.5h0M79.2 169.2h0M64.1 171.9h0M72.7 171.9h0M60.6 155.2h0M60.7 150.5h0M64.6 174.0h0M59.0 164.7h0M70.5 165.5h0M67.1 163.1h0M54.6 168.3h0M68.5 147.4h0M69.2 166.1h0M77.1 163.0h0M64.2 146.3h0M73.1 145.7h0M72.5 157.8h0M79.5 154.5h0M84.3 166.4h0M64.9 168.8h0M69.3 157.9h0M55.3 151.6h0M71.6 156.0h0M69.6 165.3h0M78.1 168.9h0M50.6 158.9h0M82.9 169.1h0" fill="none" stroke="#000" stroke-width="0.75" stroke-linecap="square" opacity="1"/>
<path d="M58.50 166.60C60.07 165.62 63.08 165.83 66.00 165.60C68.92 165.37 73.00 165.43 76.00 165.20C79.00 164.97 82.00 164.07 84.00 164.20C86.00 164.33 87.40 164.70 88.00 166.00C88.60 167.30 88.10 169.92 87.60 172.00C87.10 174.08 85.73 176.17 85.00 178.50C84.27 180.83 84.12 183.75 83.20 186.00C82.28 188.25 81.37 190.53 79.50 192.00C77.63 193.47 74.67 194.57 72.00 194.80C69.33 195.03 65.83 194.45 63.50 193.40C61.17 192.35 59.18 190.73 58.00 188.50C56.82 186.27 56.63 182.83 56.40 180.00C56.17 177.17 56.25 173.73 56.60 171.50C56.95 169.27 56.93 167.58 58.50 166.60Z" fill="#000" stroke="#000" stroke-width="2.4" stroke-linejoin="round"/>
<path d="M58.50 166.60C60.07 165.62 63.08 165.83 66.00 165.60C68.92 165.37 73.00 165.43 76.00 165.20C79.00 164.97 82.00 164.07 84.00 164.20C86.00 164.33 87.40 164.70 88.00 166.00C88.60 167.30 88.10 169.92 87.60 172.00C87.10 174.08 85.73 176.17 85.00 178.50C84.27 180.83 84.12 183.75 83.20 186.00C82.28 188.25 81.37 190.53 79.50 192.00C77.63 193.47 74.67 194.57 72.00 194.80C69.33 195.03 65.83 194.45 63.50 193.40C61.17 192.35 59.18 190.73 58.00 188.50C56.82 186.27 56.63 182.83 56.40 180.00C56.17 177.17 56.25 173.73 56.60 171.50C56.95 169.27 56.93 167.58 58.50 166.60Z" fill="#9a9a9a" stroke="#fff" stroke-width="0.9" stroke-linejoin="round"/>
<path d="M60.45 168.12C61.80 167.27 64.39 167.46 66.90 167.26C69.41 167.06 72.92 167.12 75.50 166.91C78.08 166.71 80.66 165.94 82.38 166.06C84.10 166.17 85.31 166.49 85.82 167.60C86.34 168.72 85.91 170.97 85.48 172.76C85.05 174.55 83.87 176.35 83.24 178.35C82.61 180.36 82.48 182.87 81.70 184.80C80.91 186.74 80.12 188.70 78.51 189.96C76.91 191.22 74.36 192.17 72.06 192.37C69.77 192.57 66.76 192.07 64.75 191.17C62.75 190.26 61.04 188.87 60.02 186.95C59.01 185.03 58.85 182.08 58.65 179.64C58.45 177.21 58.52 174.25 58.82 172.33C59.12 170.41 59.11 168.96 60.45 168.12Z" fill="#909090" stroke="#666" stroke-width="0.5"/>
<path d="M62.96 170.07C64.03 169.40 66.08 169.55 68.06 169.39C70.05 169.23 72.82 169.28 74.86 169.12C76.90 168.96 78.94 168.35 80.30 168.44C81.66 168.53 82.62 168.78 83.02 169.66C83.43 170.55 83.09 172.33 82.75 173.74C82.41 175.16 81.48 176.58 80.98 178.16C80.49 179.75 80.38 181.73 79.76 183.26C79.14 184.79 78.51 186.35 77.24 187.34C75.97 188.34 73.96 189.09 72.14 189.25C70.33 189.41 67.95 189.01 66.36 188.30C64.78 187.58 63.43 186.48 62.62 184.96C61.82 183.45 61.69 181.11 61.54 179.18C61.38 177.26 61.43 174.92 61.67 173.40C61.91 171.89 61.90 170.74 62.96 170.07Z" fill="#868686" stroke="#666" stroke-width="0.5"/>
<path d="M65.79 173.30C66.51 172.84 67.90 172.94 69.24 172.84C70.58 172.73 72.46 172.76 73.84 172.65C75.22 172.54 76.60 172.13 77.52 172.19C78.44 172.25 79.08 172.42 79.36 173.02C79.64 173.62 79.41 174.82 79.18 175.78C78.95 176.74 78.32 177.70 77.98 178.77C77.64 179.84 77.57 181.19 77.15 182.22C76.73 183.25 76.31 184.31 75.45 184.98C74.59 185.65 73.23 186.16 72.00 186.27C70.77 186.38 69.16 186.11 68.09 185.62C67.02 185.14 66.10 184.40 65.56 183.37C65.02 182.34 64.93 180.76 64.82 179.46C64.72 178.16 64.75 176.58 64.92 175.55C65.08 174.52 65.07 173.75 65.79 173.30Z" fill="#7e7e7e" stroke="#777" stroke-width="0.5"/>
<ellipse cx="78" cy="177" rx="2.2" ry="3.4" fill="#4a4a4a"/>
<ellipse cx="72" cy="177.6" rx="1.6" ry="2.3" fill="#e6e6e6"/>
<path d="M82.2 185.1h0M83.5 185.3h0M62.5 182.8h0M77.6 176.3h0M83.1 178.4h0M76.7 174.8h0M67.9 187.6h0M74.2 190.5h0M62.8 174.0h0M75.0 177.8h0M78.8 178.9h0M79.3 176.9h0M83.4 183.9h0M60.8 186.1h0M83.3 178.2h0M59.1 187.3h0M80.4 178.0h0M68.1 188.6h0M70.5 187.8h0M65.5 181.5h0M80.5 169.9h0M79.5 175.2h0M62.2 174.6h0M83.3 180.3h0M74.1 187.0h0M70.2 179.4h0M69.6 189.8h0M82.5 181.7h0M79.7 183.9h0M67.2 190.9h0M62.6 182.0h0M78.0 188.7h0M77.5 187.4h0M78.4 188.4h0M75.7 173.7h0M75.4 177.9h0M74.3 182.4h0M80.9 186.1h0M76.1 184.2h0M75.8 185.1h0M80.7 182.6h0M70.7 185.0h0M62.7 176.5h0M73.1 180.8h0M71.9 187.8h0M71.8 187.4h0M70.6 174.1h0M63.0 183.0h0M70.2 190.9h0M67.5 187.2h0M64.3 184.7h0M82.8 187.3h0M69.2 171.3h0M75.4 186.7h0M77.4 186.9h0M59.3 181.1h0M81.7 172.6h0M73.5 178.2h0M59.5 189.4h0M67.0 170.5h0M67.6 190.9h0M77.1 181.2h0M66.6 186.0h0M69.7 174.6h0M77.3 180.5h0M84.0 187.1h0M64.6 178.2h0M61.4 172.4h0M82.2 183.5h0M64.2 177.7h0M62.5 173.2h0M77.1 186.4h0M72.7 180.1h0M79.7 187.5h0M63.6 183.7h0M72.8 171.3h0M83.9 181.0h0M78.7 185.7h0M60.6 184.4h0M78.9 182.3h0M78.8 182.2h0M76.9 186.1h0M61.7 176.2h0M81.9 190.6h0M62.8 183.3h0M62.3 170.2h0M64.6 182.1h0M68.7 183.1h0M73.2 187.2h0M79.7 171.8h0M84.0 181.0h0M72.8 180.5h0M67.9 180.7h0M67.5 187.5h0M69.2 182.3h0M65.4 182.6h0M66.0 175.4h0M83.7 181.5h0M66.1 185.0h0M78.4 168.8h0M59.1 175.8h0M74.7 185.3h0M76.4 173.3h0M84.0 176.3h0M72.7 175.3h0M81.5 172.8h0M72.6 171.8h0M78.9 180.1h0M60.0 190.0h0M69.1 188.8h0M61.5 188.5h0M67.2 190.0h0M67.2 184.2h0M77.7 170.9h0M75.9 188.7h0M82.6 185.2h0M80.4 170.9h0M59.4 187.1h0M77.8 178.7h0M69.6 168.6h0M75.6 171.7h0M76.1 174.0h0M62.0 189.2h0M62.8 183.3h0M61.3 174.6h0M70.5 188.5h0M81.8 179.4h0M81.0 184.9h0M73.3 180.8h0M65.1 169.2h0M78.9 169.9h0M83.9 184.8h0M78.5 177.0h0M76.9 173.3h0M63.3 182.7h0M81.6 187.9h0M64.9 170.1h0M63.6 171.6h0M71.8 180.0h0M72.5 173.5h0M66.5 188.6h0M66.1 177.9h0M66.7 174.6h0M77.8 172.9h0M62.6 168.6h0M64.3 177.3h0M67.9 181.4h0M72.0 172.7h0M63.7 168.2h0M63.6 186.0h0M72.8 185.3h0M74.2 189.3h0M81.6 189.6h0M81.0 181.1h0M76.6 187.2h0M68.5 170.6h0M62.2 177.4h0M65.6 182.2h0M80.0 169.1h0M76.8 186.3h0M78.7 172.6h0M67.2 169.3h0M75.6 187.3h0M82.8 184.9h0M80.2 174.2h0M61.5 175.5h0M69.7 190.9h0M74.1 169.0h0M82.3 184.2h0M65.4 172.0h0M82.8 171.0h0M71.4 189.7h0M69.7 190.8h0M73.9 179.2h0M61.2 169.3h0M76.9 169.1h0M68.1 175.2h0M69.7 170.1h0M83.7 180.9h0M79.3 168.3h0M74.8 176.5h0M68.9 185.4h0M79.7 173.6h0M73.0 181.0h0M72.5 179.5h0M73.0 184.0h0M72.8 186.9h0M71.7 184.1h0M59.4 176.7h0M80.5 179.1h0M68.9 171.9h0M61.6 172.4h0M70.6 169.9h0M80.1 171.7h0M69.1 174.9h0M72.8 181.6h0M59.2 170.8h0M71.5 170.1h0M77.5 173.1h0M62.4 189.5h0M64.8 183.1h0M69.3 170.0h0M83.0 168.8h0M70.5 184.5h0M66.6 181.3h0M80.8 178.7h0M77.3 188.7h0M70.0 178.4h0M77.8 183.4h0M63.2 188.7h0M74.8 176.8h0M65.2 175.6h0M77.5 189.7h0M61.7 175.3h0M73.3 181.7h0M66.0 175.3h0M60.9 174.6h0M61.0 177.6h0M80.5 183.2h0M72.0 169.2h0" fill="none" stroke="#bbb" stroke-width="0.8" stroke-linecap="square" opacity="0.55"/>
<path d="M66.1 181.9h0M75.0 180.6h0M60.0 181.4h0M59.1 181.0h0M70.5 177.4h0M68.9 172.3h0M59.0 179.2h0M59.7 180.9h0M63.4 174.5h0M69.2 182.0h0M82.6 168.1h0M59.8 176.9h0M74.5 187.7h0M73.8 177.8h0M83.0 173.6h0M64.2 181.3h0M77.8 190.0h0M72.0 189.2h0M74.9 189.2h0M61.0 171.0h0M77.0 177.6h0M65.7 176.8h0M73.0 168.5h0M79.3 179.1h0M62.1 186.4h0M69.4 171.0h0M67.9 181.3h0M82.6 178.5h0M68.1 181.0h0M72.7 173.8h0M74.6 186.0h0M78.0 173.0h0M66.8 169.5h0M64.1 178.2h0M81.3 183.5h0M74.7 186.5h0M62.2 177.9h0M59.2 177.2h0M61.3 172.9h0M81.4 174.2h0M59.9 180.2h0M73.0 183.3h0M67.9 189.1h0M76.4 169.6h0M77.1 171.6h0M75.2 173.0h0M63.2 169.3h0M61.3 181.0h0M75.7 175.5h0M77.1 179.2h0M73.6 183.1h0M68.7 170.7h0M66.6 181.6h0M62.8 176.9h0M74.8 169.5h0M69.0 179.5h0M73.6 180.9h0M68.1 170.0h0M62.0 170.8h0M83.0 178.2h0M81.4 175.8h0M68.7 176.7h0M80.6 168.0h0M72.0 187.8h0M62.8 188.8h0M67.7 174.9h0M75.0 176.0h0M63.4 184.9h0M73.7 182.9h0M62.8 183.3h0M76.0 176.0h0M67.3 168.6h0M59.9 175.6h0M77.6 190.2h0M72.3 178.0h0M75.1 176.1h0M79.9 179.6h0M61.2 176.9h0M79.0 187.4h0M65.9 168.2h0M73.8 183.1h0M81.1 182.7h0M78.5 184.6h0M73.1 176.5h0M80.7 187.2h0M82.6 183.2h0M70.0 180.4h0M72.7 181.9h0M74.9 171.5h0M80.7 187.6h0M74.2 176.3h0M74.6 185.6h0M83.9 190.6h0M60.7 169.1h0M71.4 183.5h0M66.9 177.5h0M71.0 185.8h0M73.3 185.5h0M83.6 178.0h0M66.8 171.3h0M68.4 180.0h0M74.6 169.6h0M76.0 187.6h0M68.0 176.1h0M70.7 173.4h0M64.2 170.4h0M77.6 172.4h0M61.0 185.3h0M82.9 174.1h0M68.4 171.9h0M61.3 188.6h0M76.1 187.5h0M67.9 186.8h0M70.2 178.0h0M74.3 178.4h0M79.7 187.2h0M74.6 181.9h0M82.7 168.3h0M73.8 180.1h0M76.0 172.8h0M68.1 175.0h0M74.2 188.5h0M83.7 181.7h0M83.9 185.4h0M77.7 182.6h0M66.2 169.7h0M62.2 185.6h0M68.9 174.5h0M77.0 172.3h0M82.5 184.6h0M82.1 180.7h0M73.7 168.5h0M64.0 173.1h0M80.5 177.8h0M66.4 182.0h0M81.3 188.7h0M70.7 189.9h0M73.0 187.1h0M83.3 171.3h0M74.9 172.9h0M68.4 189.8h0M76.6 183.5h0M71.8 176.4h0M79.2 173.7h0M66.9 184.6h0M68.0 190.2h0M78.0 172.4h0M79.3 179.5h0M66.6 188.7h0M61.1 182.1h0M81.6 188.7h0M69.2 169.3h0M80.9 173.1h0M73.8 168.5h0M76.6 190.8h0M61.5 185.8h0M60.7 173.3h0M67.9 182.8h0M77.1 178.0h0M69.7 170.3h0" fill="none" stroke="#555" stroke-width="0.8" stroke-linecap="square" opacity="0.5"/>
<path d="M63.30 147.00C64.60 146.05 67.80 145.37 70.00 145.30C72.20 145.23 74.95 145.82 76.50 146.60C78.05 147.38 78.78 148.68 79.30 150.00C79.82 151.32 78.73 153.57 79.60 154.50C80.47 155.43 82.88 155.08 84.50 155.60C86.12 156.12 88.33 156.62 89.30 157.60C90.27 158.58 90.52 160.37 90.30 161.50C90.08 162.63 90.55 163.73 88.00 164.40C85.45 165.07 79.23 165.18 75.00 165.50C70.77 165.82 64.93 166.62 62.60 166.30C60.27 165.98 61.00 164.82 61.00 163.60C61.00 162.38 62.07 160.43 62.60 159.00C63.13 157.57 64.27 156.33 64.20 155.00C64.13 153.67 62.35 152.33 62.20 151.00C62.05 149.67 62.00 147.95 63.30 147.00Z" fill="#000" stroke="#000" stroke-width="2.2" stroke-linejoin="round"/>
<path d="M63.30 147.00C64.60 146.05 67.80 145.37 70.00 145.30C72.20 145.23 74.95 145.82 76.50 146.60C78.05 147.38 78.78 148.68 79.30 150.00C79.82 151.32 78.73 153.57 79.60 154.50C80.47 155.43 82.88 155.08 84.50 155.60C86.12 156.12 88.33 156.62 89.30 157.60C90.27 158.58 90.52 160.37 90.30 161.50C90.08 162.63 90.55 163.73 88.00 164.40C85.45 165.07 79.23 165.18 75.00 165.50C70.77 165.82 64.93 166.62 62.60 166.30C60.27 165.98 61.00 164.82 61.00 163.60C61.00 162.38 62.07 160.43 62.60 159.00C63.13 157.57 64.27 156.33 64.20 155.00C64.13 153.67 62.35 152.33 62.20 151.00C62.05 149.67 62.00 147.95 63.30 147.00Z" fill="#f4f4f4" stroke="#fff" stroke-width="0.8" stroke-linejoin="round"/>
<path d="M76 165 Q78 158.6 88.6 158.6 Q90 161.5 87.6 164.2Z" fill="#b4b4b4"/>
<path d="M64.3 149.4 Q70 147 75.6 149 Q77.6 152.5 74.5 156.5 Q69.6 160 65.6 163.8" fill="none" stroke="#666" stroke-width="0.6"/>
<ellipse cx="71" cy="150.6" rx="2.7" ry="2" fill="none" stroke="#666" stroke-width="0.6"/>
<path d="M68 164.4 Q74 158.6 86 159.6" fill="none" stroke="#666" stroke-width="0.6"/>
<path d="M72 164.4 Q77 160.6 85 161.8" fill="none" stroke="#777" stroke-width="0.5"/>
<rect x="55.9" y="140.2" width="57.300000000000004" height="24.0" fill="none" stroke="#000" stroke-width="1.5"/>
<text transform="translate(87.5 135.8) translate(-0.617 0) scale(1.0280 1)" font-size="12" letter-spacing="0.264" stroke="#000" stroke-width="0.5">20.5</text>
<text transform="translate(72 115.6) translate(-0.979 0) scale(1.0195 1)" font-size="12" letter-spacing="0.264" stroke="#000" stroke-width="0.5">RTX</text>
<path d="M29.5 57 V215 H86" fill="none" stroke="#000" stroke-width="2.2" stroke-linejoin="miter"/>
<path d="M23.4 66.4 L29.5 57.2 L35.6 66.4" fill="none" stroke="#000" stroke-width="2.2" stroke-miterlimit="10"/>
<path d="M77.6 209 L85.8 215 L77.6 221" fill="none" stroke="#000" stroke-width="2.2" stroke-miterlimit="10"/>
<text transform="translate(92.3 220) translate(-0.650 0) scale(1.0000 1)" font-size="13" letter-spacing="-0.306" stroke="#000" stroke-width="0.4">CD20</text>
<text transform="translate(33.5 50.5) rotate(-90) translate(-0.650 0) scale(1.0000 1)" font-size="13" letter-spacing="0.004" stroke="#000" stroke-width="0.4">CD19</text>
<rect x="43.2" y="264.8" width="85.89999999999999" height="85.0" fill="#fff" stroke="#6a6a6a" stroke-width="0.8"/>
<path d="M68.7 350.4h0M69.2 350.4h0M67.1 350.4h0M41.9 286.1h0M41.9 287.8h0M93.0 350.4h0M88.3 350.4h0M90.8 350.4h0M41.9 307.3h0M41.9 308.0h0M114.5 350.4h0M111.7 350.4h0M111.9 350.4h0M41.9 328.6h0M41.9 331.2h0" fill="none" stroke="#333" stroke-width="0.8" stroke-linecap="square" opacity="1"/>
<path d="M63.7 305.6h0M62.7 304.5h0M63.4 305.7h0M62.4 302.5h0M63.6 306.7h0M64.3 305.5h0M63.3 304.8h0M63.6 304.1h0M64.1 305.1h0M64.5 306.2h0M64.0 304.7h0M63.0 305.2h0M62.9 303.6h0M63.4 305.0h0M64.6 305.0h0M64.7 305.2h0M64.0 305.0h0M64.0 304.0h0M63.5 303.2h0M65.2 306.0h0M64.5 304.7h0M63.7 303.9h0M65.0 305.1h0M65.4 305.8h0M64.0 303.6h0M64.9 303.9h0M65.0 304.2h0M65.5 305.1h0M63.9 302.7h0M65.5 305.6h0M65.0 303.4h0M66.5 305.1h0M64.9 302.8h0M65.6 304.5h0M66.0 305.5h0M64.5 302.9h0M64.7 303.7h0M65.3 303.3h0M65.1 305.9h0M66.1 304.3h0M66.1 303.0h0M66.0 304.8h0M65.4 303.4h0M65.1 301.6h0M66.2 305.2h0M65.9 305.6h0M65.5 304.5h0M66.3 305.2h0M66.6 303.4h0M66.7 303.8h0M66.8 302.5h0M66.2 305.0h0M66.0 302.1h0M66.4 305.2h0M67.0 304.3h0M66.7 304.9h0M67.5 304.9h0M67.3 304.4h0M66.5 302.1h0M67.6 305.2h0M66.6 304.6h0M66.8 302.7h0M66.5 302.7h0M67.0 303.8h0M67.7 305.1h0M67.5 304.5h0M68.1 303.3h0M67.7 302.7h0M68.4 304.9h0M67.7 303.0h0M67.4 303.6h0M67.9 304.1h0M67.2 302.9h0M68.2 304.9h0M68.6 303.7h0M67.9 302.4h0M67.6 300.0h0M68.0 302.6h0M68.1 304.3h0M68.2 303.0h0M68.7 301.3h0M68.0 304.4h0M68.1 304.5h0M68.6 304.5h0M68.8 303.9h0M68.6 301.3h0M68.5 303.3h0M68.5 302.2h0M68.5 301.9h0M69.6 304.9h0M69.0 301.8h0M68.8 304.8h0M68.4 302.8h0M69.9 303.6h0M69.3 302.6h0M69.2 300.3h0M69.2 304.0h0M69.8 303.7h0M69.4 301.0h0M69.1 302.1h0M69.1 303.7h0M69.3 302.8h0M70.2 302.7h0M69.8 302.5h0M69.2 300.6h0M69.6 303.0h0M70.5 303.1h0M70.2 301.2h0M69.8 304.7h0M70.0 304.4h0M70.3 303.9h0M69.9 301.8h0M70.9 303.7h0M69.8 302.2h0M70.4 302.0h0M70.6 302.8h0M70.2 303.0h0M70.5 303.7h0M70.4 303.9h0M70.6 303.5h0M70.5 301.9h0M71.2 303.9h0M71.6 304.0h0M71.2 302.7h0M71.1 303.1h0M71.4 301.5h0M70.9 301.1h0M71.5 304.3h0M71.3 304.3h0M70.3 300.2h0M71.1 300.7h0M71.9 302.8h0M71.5 299.7h0M72.1 302.0h0M71.5 301.9h0M71.0 301.6h0M72.0 302.9h0M71.7 302.5h0M72.0 304.7h0M71.0 302.7h0M72.8 304.2h0M72.0 300.8h0M72.2 303.5h0M71.8 301.2h0M73.1 304.5h0M72.9 303.7h0M72.6 303.0h0M72.4 302.6h0M72.5 302.4h0M72.7 303.8h0M73.4 303.5h0M72.7 303.1h0M72.9 303.6h0M73.0 303.7h0M73.1 303.2h0M73.1 301.5h0M73.3 302.2h0M73.0 303.8h0M73.1 302.2h0M73.0 301.1h0M74.1 303.6h0M73.3 303.0h0M73.2 301.2h0M74.0 303.6h0M73.2 302.8h0M73.5 301.1h0M74.2 302.9h0M73.5 303.1h0M73.4 297.5h0M73.6 298.6h0M73.8 301.4h0M74.7 302.4h0M74.2 300.0h0M73.7 301.2h0M74.7 301.8h0M74.5 301.6h0M74.3 302.5h0M74.1 302.5h0M74.3 303.4h0M74.4 300.8h0M74.9 303.1h0M75.4 302.2h0M74.9 302.8h0M75.1 304.0h0M75.1 302.6h0M75.5 302.4h0M75.2 302.0h0M75.8 303.0h0M75.1 303.1h0M74.5 304.2h0M76.4 301.1h0M76.0 304.2h0M75.6 304.6h0M75.3 303.7h0M75.8 302.1h0M75.8 302.5h0M74.9 301.5h0M76.3 301.4h0M75.9 302.5h0M76.0 302.4h0M76.2 302.0h0M76.8 301.6h0M77.0 303.7h0M76.2 304.4h0M76.7 304.1h0M76.5 301.8h0M76.5 302.4h0M76.5 300.6h0M76.1 302.1h0M76.6 301.8h0M76.0 303.0h0M77.7 302.9h0M77.2 300.6h0M76.7 301.7h0M77.0 300.3h0M76.9 301.8h0M77.3 301.7h0M76.9 300.8h0M77.4 300.5h0M76.7 303.7h0M77.5 303.0h0M77.0 301.7h0M78.0 302.4h0M77.7 301.2h0M78.2 302.4h0M77.9 302.5h0M77.7 303.5h0M78.0 303.1h0M77.8 302.7h0M78.1 303.4h0M78.6 304.6h0M77.6 301.6h0M77.3 302.4h0M78.5 303.5h0M78.5 303.0h0M78.3 302.4h0M78.5 303.7h0M78.9 303.5h0M78.2 303.0h0M78.5 300.0h0M78.2 301.5h0M78.7 303.5h0M79.4 302.1h0M79.1 301.0h0M79.3 302.7h0M79.1 303.7h0M79.3 303.4h0M78.7 302.9h0M78.7 301.6h0M78.7 302.3h0M79.3 303.2h0M79.2 303.2h0M79.2 303.6h0M79.2 303.8h0M80.5 301.0h0M79.8 302.3h0M79.9 300.8h0M80.3 302.5h0M80.2 300.6h0M79.2 303.9h0M79.6 302.3h0M80.4 301.4h0M79.7 300.7h0M79.7 301.2h0M80.3 301.5h0M80.8 302.6h0M80.9 301.6h0M80.5 303.3h0M80.2 304.0h0M80.0 302.6h0M80.7 301.4h0M80.1 303.2h0M80.1 303.3h0M80.1 303.1h0M80.7 302.1h0M81.3 302.9h0M81.4 303.6h0M81.4 302.4h0M81.4 303.7h0M81.7 304.0h0M80.7 302.6h0M81.7 301.2h0M80.9 303.1h0M81.2 301.0h0M81.5 299.2h0M81.9 302.3h0M81.9 303.5h0M81.8 301.1h0M82.1 303.7h0M82.1 303.3h0M81.6 302.6h0M81.5 302.8h0M81.6 304.4h0M81.8 299.3h0M81.9 303.2h0M82.5 303.4h0M81.6 301.8h0M82.1 303.0h0M82.4 302.5h0M82.7 300.3h0M82.4 302.7h0M82.6 302.2h0M82.5 300.8h0M82.7 303.5h0M82.5 304.0h0M82.9 301.6h0M83.0 302.4h0M83.2 302.8h0M83.1 302.1h0M82.9 303.4h0M83.2 300.5h0M84.1 302.9h0M83.7 303.2h0M83.4 302.0h0M83.5 303.9h0M83.5 300.4h0M83.7 304.2h0M83.3 304.4h0M83.5 302.5h0M83.6 304.0h0M84.2 304.0h0M84.0 303.7h0M84.1 303.5h0M84.6 302.9h0M83.5 302.8h0M84.4 302.7h0M83.5 303.4h0M83.8 304.3h0M83.9 302.1h0M85.1 302.5h0M84.6 304.1h0M84.6 303.8h0M85.3 304.0h0M84.4 303.8h0M85.2 303.0h0M85.4 303.6h0M85.6 301.8h0M84.8 303.6h0M84.7 302.6h0M85.4 301.7h0M85.7 303.8h0M86.1 300.6h0M86.0 302.1h0M84.9 304.5h0M85.8 302.7h0M85.3 303.6h0M85.1 302.1h0M84.9 303.7h0M86.0 301.7h0M86.6 301.1h0M86.8 304.8h0M86.7 301.9h0M85.7 305.1h0M85.8 303.6h0M85.8 304.9h0M86.4 303.0h0M85.8 303.7h0M85.8 303.8h0M86.2 303.9h0M86.5 302.5h0M86.7 303.1h0M86.6 304.7h0M86.9 303.9h0M86.5 303.2h0M86.5 304.4h0M86.6 302.5h0M86.8 302.2h0M87.1 302.5h0M85.9 304.1h0M87.8 302.7h0M87.5 302.3h0M87.6 302.1h0M88.0 302.2h0M87.6 304.2h0M87.1 303.9h0M87.6 304.2h0M86.9 304.2h0M86.9 302.9h0M87.0 305.2h0M87.3 304.9h0M87.8 303.4h0M87.7 304.0h0M87.5 304.1h0M87.7 304.4h0M87.7 303.4h0M87.8 304.7h0M87.3 304.7h0M87.4 303.1h0M88.6 302.9h0M89.7 300.8h0M87.4 304.7h0M88.1 303.3h0M89.1 301.6h0M88.5 303.7h0M87.6 303.9h0M89.8 303.1h0M88.6 303.8h0M88.0 304.4h0M89.4 302.8h0M89.1 304.7h0M89.4 302.8h0M89.8 304.3h0M89.2 303.5h0M89.7 304.1h0M88.7 304.4h0M89.0 304.7h0M89.2 302.4h0M89.3 304.0h0M89.4 303.9h0M90.2 304.1h0M89.9 304.6h0M89.4 304.5h0M90.8 301.9h0M88.7 304.4h0M88.9 305.4h0M89.6 305.9h0M89.9 305.6h0M89.6 304.5h0M90.8 302.9h0M90.3 304.4h0M90.1 304.2h0M90.2 305.7h0M90.7 304.0h0M89.9 305.6h0M89.9 305.7h0M90.5 305.3h0M90.6 303.9h0M90.4 305.6h0M91.0 304.1h0M90.5 304.8h0M89.9 305.4h0M90.7 305.7h0M90.8 305.8h0M92.3 301.9h0M91.0 305.2h0M91.8 303.9h0M91.4 305.0h0M90.9 305.2h0M91.1 306.5h0M91.7 305.0h0M93.6 302.7h0M91.5 305.9h0M91.3 305.8h0M91.9 305.9h0M92.0 303.4h0M91.3 307.0h0M91.7 305.6h0M92.9 303.6h0M92.8 304.9h0M92.0 305.3h0M93.2 303.5h0M92.6 305.1h0M91.9 306.5h0M94.7 303.0h0M92.8 305.8h0M92.4 306.4h0M92.0 306.6h0M92.0 305.7h0M92.8 305.8h0M93.5 306.3h0M93.3 305.0h0M93.0 305.1h0M93.7 305.5h0M92.6 305.1h0M93.4 306.6h0M94.2 304.9h0M93.9 306.4h0M94.5 305.0h0M93.9 305.8h0M94.0 305.6h0M96.5 304.0h0M96.0 304.0h0M93.3 307.4h0M93.4 307.0h0M94.4 306.5h0M94.0 306.4h0M92.9 307.5h0M93.2 307.1h0M93.6 306.9h0M93.8 307.8h0M93.9 307.0h0M94.5 306.2h0M93.2 308.2h0M95.0 307.3h0M97.0 305.9h0M95.6 306.5h0M95.4 306.5h0M95.0 307.3h0M94.2 307.8h0M93.8 308.2h0M93.9 308.8h0M95.3 307.6h0M93.4 308.6h0M95.6 307.2h0M95.9 307.5h0M94.1 308.8h0M95.7 308.4h0M96.2 307.4h0M95.7 308.5h0M94.0 308.9h0M93.9 309.2h0M95.9 308.6h0M94.7 308.9h0M95.6 308.4h0M94.1 309.2h0M94.8 309.1h0M94.6 308.6h0M94.0 309.3h0M94.9 309.5h0M95.7 309.3h0M95.6 309.3h0M97.4 308.9h0M98.4 308.5h0M97.7 309.3h0M95.1 309.7h0M94.4 309.6h0M97.2 309.6h0M93.8 309.9h0M94.0 309.9h0M95.0 309.8h0M94.8 309.8h0M96.9 310.3h0M97.0 310.2h0M94.6 310.1h0M93.7 310.0h0M96.4 310.3h0M94.7 310.1h0M96.4 309.6h0M96.0 311.0h0M96.0 310.2h0M95.5 310.8h0M95.2 310.9h0M94.2 311.2h0M94.1 310.5h0M96.3 311.1h0M94.8 310.8h0M94.1 311.4h0M95.6 312.0h0M94.7 311.5h0M95.7 310.9h0M94.9 310.8h0M93.4 311.4h0M96.0 311.6h0M94.6 311.0h0M95.7 311.1h0M96.4 311.9h0M95.3 312.0h0M95.4 311.9h0M95.8 312.2h0M95.0 312.2h0M94.0 312.0h0M95.0 312.1h0M94.3 311.7h0M93.0 311.5h0M95.4 312.2h0M96.7 313.3h0M95.2 312.8h0M93.7 313.0h0M94.5 312.3h0M94.8 312.9h0M93.9 312.6h0M93.9 312.4h0M93.3 312.8h0M94.5 311.8h0M94.7 312.4h0M93.9 313.5h0M97.2 313.5h0M94.6 313.4h0M93.9 313.5h0M95.0 313.0h0M95.9 313.9h0M94.2 313.6h0M95.3 313.7h0M95.4 313.6h0M94.3 313.2h0M94.1 313.5h0M95.7 314.3h0M93.4 313.9h0M95.0 314.1h0M95.1 314.3h0M93.3 313.5h0M97.8 314.8h0M93.1 314.3h0M95.4 314.0h0M93.8 313.8h0M94.8 314.4h0M96.6 314.9h0M93.4 314.0h0M94.6 314.2h0M94.3 314.6h0M94.5 314.7h0M93.0 314.5h0M94.5 314.7h0M95.0 314.4h0M95.6 314.9h0M94.2 314.4h0M96.3 315.9h0M93.8 315.5h0M93.9 315.3h0M93.4 315.5h0M95.4 315.5h0M93.9 314.9h0M94.5 315.9h0M94.4 315.9h0M97.6 316.4h0M93.8 315.2h0M96.3 315.5h0M95.3 316.9h0M92.8 316.2h0M93.3 316.1h0M96.1 316.5h0M93.6 316.4h0M98.5 317.1h0M96.7 317.0h0M93.3 315.9h0M93.7 316.4h0M93.1 316.3h0M93.8 315.9h0M94.3 317.0h0M94.4 316.6h0M95.1 317.0h0M95.8 317.2h0M92.9 316.3h0M95.2 318.2h0M95.1 316.6h0M94.4 316.6h0M95.8 317.2h0M94.2 317.1h0M93.1 316.6h0M94.7 318.0h0M94.4 317.3h0M93.0 317.0h0M93.8 317.4h0M93.1 317.6h0M95.9 317.9h0M94.7 318.0h0M94.7 318.5h0M91.7 316.7h0M93.5 318.2h0M94.3 318.0h0M95.1 318.0h0M92.6 317.7h0M95.9 318.5h0M95.4 318.4h0M94.8 318.5h0M94.9 318.1h0M92.8 317.9h0M93.5 318.5h0M93.9 318.5h0M95.0 318.6h0M94.7 318.7h0M96.1 320.3h0M93.0 318.2h0M94.4 319.3h0M93.1 319.2h0M92.4 318.6h0M94.1 319.0h0M93.9 319.5h0M97.5 320.2h0M93.0 318.6h0M94.3 319.9h0M93.9 319.4h0M95.9 320.1h0M91.5 319.0h0M94.1 319.0h0M93.4 319.7h0M92.8 319.7h0M94.2 319.7h0M92.3 319.2h0M93.7 319.8h0M95.1 320.4h0M91.9 319.5h0M93.3 319.0h0M92.4 319.2h0M94.3 320.8h0M95.2 320.5h0M95.4 321.5h0M92.7 321.0h0M92.2 320.4h0M94.0 320.3h0M92.4 320.1h0M91.3 320.2h0M92.9 320.4h0M91.5 319.9h0M92.4 320.3h0M94.6 320.8h0M93.8 322.1h0M91.6 320.6h0M94.5 321.1h0M91.7 321.0h0M93.1 320.9h0M92.5 321.1h0M93.3 321.8h0M92.7 321.2h0M94.0 322.2h0M95.4 322.2h0M93.7 321.7h0M92.1 320.1h0M94.6 323.0h0M91.2 320.8h0M93.6 321.8h0M91.4 321.5h0M93.8 322.1h0M91.0 321.4h0M93.2 322.4h0M93.7 321.7h0M92.2 320.7h0M92.3 322.0h0M91.6 320.9h0M91.9 321.9h0M94.9 323.2h0M90.3 322.5h0M91.3 322.2h0M91.8 321.9h0M91.1 321.7h0M92.3 322.2h0M90.4 321.8h0M91.3 321.2h0M94.2 323.1h0M92.6 323.1h0M93.3 322.7h0M94.2 323.1h0M95.6 325.4h0M91.3 322.8h0M90.9 322.4h0M92.2 322.9h0M91.3 321.6h0M91.4 322.2h0M90.5 323.4h0M91.2 322.5h0M91.0 322.4h0M92.3 322.4h0M90.9 322.9h0M91.3 323.2h0M90.6 323.3h0M93.8 325.6h0M90.4 323.8h0M93.7 324.8h0M91.7 323.9h0M90.5 323.9h0M95.0 325.9h0M91.1 323.5h0M90.7 323.2h0M94.0 325.5h0M91.1 323.8h0M91.0 323.4h0M90.0 323.8h0M90.3 324.1h0M90.7 323.7h0M92.2 325.8h0M91.4 325.0h0M89.2 324.2h0M89.8 324.0h0M92.5 324.2h0M90.2 323.9h0M91.0 324.0h0M89.9 323.6h0M90.9 324.5h0M92.6 326.6h0M90.9 325.2h0M92.8 327.0h0M91.9 325.8h0M90.8 324.8h0M90.1 325.5h0M91.0 325.3h0M89.3 324.5h0M93.0 326.8h0M92.0 326.5h0M90.8 324.4h0M89.8 324.4h0M91.5 326.4h0M90.5 326.3h0M89.8 325.5h0M89.6 325.0h0M91.7 326.4h0M89.7 325.2h0M88.9 325.5h0M89.8 325.0h0M90.0 325.4h0M90.8 326.3h0M91.4 326.8h0M89.3 326.1h0M88.9 326.2h0M92.1 327.4h0M89.0 325.8h0M88.1 325.9h0M91.3 327.1h0M89.5 326.4h0M89.0 325.6h0M90.9 327.3h0M89.1 326.4h0M91.8 328.3h0M89.0 327.1h0M92.5 329.5h0M90.8 328.8h0M89.3 326.6h0M88.0 326.4h0M89.3 327.3h0M92.3 329.8h0M88.3 326.1h0M88.2 326.2h0M89.5 327.6h0M90.2 328.1h0M88.5 326.4h0M87.7 327.2h0M88.5 328.3h0M88.5 327.9h0M90.7 329.2h0M88.8 327.2h0M89.2 327.5h0M88.4 327.7h0M88.8 327.2h0M88.6 327.0h0M88.8 327.1h0M89.3 328.3h0M88.7 328.9h0M87.2 327.4h0M88.9 327.9h0M89.2 328.7h0M91.0 329.8h0M90.9 330.8h0M88.5 327.9h0M88.8 328.3h0M88.0 327.7h0M87.9 327.6h0M87.8 327.1h0M87.6 327.9h0M88.2 328.8h0M88.4 329.1h0M87.5 329.4h0M87.6 329.3h0M87.8 329.3h0M86.4 328.3h0M88.5 329.4h0M87.5 327.5h0M86.6 327.4h0M90.3 330.8h0M87.0 327.9h0M87.3 329.6h0M87.2 329.4h0M86.8 329.1h0M87.1 328.1h0M85.9 328.6h0M87.2 328.8h0M87.4 329.4h0M88.4 330.0h0M87.6 329.1h0M87.7 330.0h0M86.8 328.9h0M86.7 329.1h0M86.6 329.4h0M87.8 330.1h0M87.5 330.2h0M87.1 330.9h0M87.9 331.2h0M87.5 330.7h0M87.2 330.1h0M86.6 329.4h0M87.6 330.7h0M86.2 329.8h0M85.4 329.5h0M86.4 330.4h0M86.4 330.1h0M85.9 330.2h0M87.5 331.2h0M86.0 329.3h0M85.7 330.6h0M86.8 331.6h0M86.6 330.4h0M86.4 330.6h0M89.1 333.2h0M85.9 331.9h0M86.1 331.3h0M86.1 331.2h0M86.9 332.8h0M86.0 330.8h0M86.2 332.0h0M86.0 331.7h0M85.0 330.5h0M86.0 330.6h0M85.6 331.1h0M84.7 330.9h0M84.1 330.5h0M84.3 331.0h0M85.1 332.1h0M84.9 331.2h0M85.0 331.2h0M87.4 333.4h0M86.5 333.7h0M85.3 332.6h0M83.7 329.8h0M84.5 330.9h0M84.9 330.8h0M84.2 331.5h0M84.2 330.9h0M84.3 331.2h0M84.1 331.7h0M84.0 330.8h0M83.0 330.9h0M84.3 331.6h0M85.7 333.7h0M84.8 332.3h0M85.6 332.9h0M84.3 333.2h0M83.3 331.6h0M85.0 334.3h0M85.5 333.5h0M86.0 335.6h0M84.3 334.4h0M84.5 332.5h0M83.2 331.8h0M83.6 331.3h0M85.0 333.7h0M83.7 332.1h0M82.6 331.8h0M83.2 331.6h0M83.3 332.9h0M82.3 331.4h0M83.0 332.6h0M84.3 332.7h0M83.8 334.1h0M83.2 331.9h0M84.1 333.3h0M82.8 333.7h0M82.7 332.6h0M82.0 331.6h0M83.7 336.0h0M82.7 333.0h0M82.0 331.4h0M83.5 333.6h0M84.2 335.9h0M82.9 333.2h0M82.2 333.9h0M82.8 334.4h0M82.7 332.9h0M81.9 333.1h0M82.2 333.1h0M82.9 334.9h0M81.5 332.3h0M82.6 333.3h0M81.6 332.8h0M82.2 334.9h0M81.6 333.8h0M81.8 334.7h0M81.7 333.4h0M80.7 332.1h0M81.3 334.2h0M81.2 331.9h0M81.8 334.4h0M82.1 336.2h0M80.9 332.8h0M81.1 332.8h0M81.7 335.3h0M81.1 333.8h0M81.5 333.7h0M81.4 333.5h0M80.8 333.9h0M81.3 334.7h0M81.3 333.8h0M80.6 332.5h0M80.0 332.7h0M81.2 334.7h0M79.4 332.9h0M80.9 331.9h0M80.5 334.2h0M80.0 332.3h0M80.4 333.9h0M80.5 334.3h0M79.9 334.3h0M79.2 335.9h0M79.6 333.4h0M79.6 334.9h0M79.3 334.4h0M80.0 332.4h0M79.5 334.1h0M79.6 334.5h0M79.4 333.2h0M78.9 333.3h0M79.0 336.0h0M79.1 332.9h0M78.6 332.9h0M79.5 332.8h0M78.6 333.3h0M79.1 333.2h0M78.6 333.9h0M79.0 334.1h0M78.3 333.0h0M78.2 333.7h0M78.6 336.1h0M78.6 334.7h0M78.8 336.1h0M77.7 333.3h0M79.0 333.6h0M78.2 332.8h0M78.6 333.0h0M78.0 332.4h0M78.0 333.1h0M78.1 333.3h0M78.1 334.2h0M78.0 333.8h0M76.8 332.5h0M78.2 334.4h0M78.2 334.5h0M77.3 333.3h0M76.7 332.9h0M77.4 332.5h0M77.4 333.0h0M76.3 334.7h0M77.5 332.7h0M76.8 334.0h0M77.0 334.3h0M76.7 333.5h0M77.0 332.9h0M77.0 334.8h0M76.3 333.5h0M76.6 332.7h0M77.1 334.3h0M77.0 333.4h0M76.3 333.1h0M76.1 333.0h0M76.0 335.8h0M76.3 332.3h0M76.3 334.1h0M76.9 334.5h0M76.6 334.7h0M76.0 332.6h0M76.2 332.8h0M74.3 338.8h0M75.6 332.4h0M75.5 333.6h0M75.7 334.5h0M75.5 335.4h0M74.9 336.1h0M75.8 333.5h0M75.8 333.6h0M73.8 336.6h0M74.4 334.5h0M75.4 332.6h0M75.3 332.8h0M75.2 333.5h0M74.7 332.1h0M75.8 332.4h0M74.2 335.1h0M74.0 333.6h0M74.6 331.8h0M74.2 333.7h0M73.6 333.7h0M74.7 332.3h0M74.5 333.6h0M74.0 331.9h0M75.0 333.3h0M73.1 335.0h0M73.8 332.5h0M74.2 332.4h0M73.1 333.7h0M73.6 332.8h0M74.1 333.3h0M73.1 333.7h0M73.8 332.8h0M73.1 334.0h0M73.3 332.7h0M72.8 335.3h0M72.7 333.6h0M72.8 332.8h0M73.6 331.9h0M73.2 333.4h0M73.2 333.1h0M73.4 332.9h0M72.8 333.3h0M73.2 332.8h0M72.5 333.3h0M72.7 333.5h0M72.9 332.7h0M72.1 333.0h0M72.4 333.5h0M71.8 334.2h0M72.8 331.7h0M72.6 331.7h0M72.1 331.1h0M71.5 332.4h0M72.1 332.6h0M72.2 332.0h0M72.9 333.0h0M70.8 333.6h0M71.3 333.5h0M71.6 331.3h0M71.8 331.7h0M72.6 331.3h0M71.2 332.7h0M71.5 333.5h0M72.1 332.6h0M72.6 330.7h0M71.5 331.9h0M69.6 333.7h0M71.9 331.5h0M71.5 332.2h0M70.0 333.4h0M71.4 330.6h0M71.6 331.9h0M70.7 332.1h0M70.0 334.3h0M71.9 330.7h0M70.2 332.3h0M70.3 331.0h0M70.3 331.7h0M70.9 331.4h0M69.8 332.2h0M71.7 331.2h0M71.1 331.3h0M71.2 331.3h0M69.9 331.2h0M71.4 330.0h0M70.3 330.8h0M70.6 330.6h0M71.3 330.4h0M69.4 331.8h0M69.4 331.5h0M70.0 331.2h0M69.1 332.6h0M70.2 330.2h0M70.0 330.3h0M69.7 330.8h0M69.6 331.0h0M69.3 331.1h0M69.5 330.3h0M70.2 330.2h0M70.8 330.3h0M69.9 330.3h0M69.5 329.8h0M67.3 332.7h0M68.8 331.5h0M69.0 329.8h0M69.0 330.3h0M69.4 329.3h0M68.4 331.2h0M69.5 329.8h0M70.6 329.2h0M69.7 330.4h0M69.0 329.2h0M66.5 331.4h0M70.4 329.3h0M70.1 329.3h0M68.9 330.7h0M70.1 329.2h0M68.4 330.3h0M69.2 329.4h0M66.2 331.8h0M69.6 328.8h0M68.4 330.0h0M68.7 328.0h0M69.0 328.5h0M66.9 330.2h0M68.0 329.8h0M68.9 328.5h0M67.1 330.3h0M69.5 328.1h0M69.4 329.6h0M69.2 327.6h0M68.9 328.9h0M68.6 327.7h0M68.8 328.0h0M68.2 329.0h0M69.1 328.1h0M67.3 329.4h0M67.8 328.7h0M68.7 327.7h0M67.5 329.8h0M68.9 327.8h0M67.1 328.5h0M67.5 328.1h0M66.8 328.9h0M67.8 327.9h0M68.4 328.0h0M67.4 328.7h0M66.0 329.2h0M66.5 328.3h0M68.9 327.9h0M65.7 330.3h0M67.6 328.6h0M67.8 326.7h0M67.6 327.8h0M68.2 327.2h0M65.6 328.6h0M68.0 327.7h0M67.5 327.4h0M66.8 327.7h0M68.0 327.4h0M65.5 328.1h0M68.1 327.0h0M66.5 328.0h0M67.3 326.8h0M66.6 326.1h0M66.6 327.8h0M67.0 326.6h0M67.3 326.9h0M66.3 327.5h0M67.9 326.7h0M66.1 328.1h0M65.7 326.9h0M67.0 327.4h0M66.6 327.1h0M67.1 326.8h0M63.8 327.7h0M64.9 327.8h0M67.3 326.2h0M66.0 326.7h0M67.6 325.7h0M65.2 327.2h0M66.7 326.5h0M67.5 325.8h0M66.2 326.6h0M66.7 327.0h0M65.3 326.3h0M64.8 326.8h0M66.4 325.9h0M66.4 325.1h0M66.5 325.4h0M66.1 325.2h0M67.0 325.5h0M66.8 325.3h0M66.2 326.1h0M65.0 326.0h0M67.3 325.6h0M66.7 324.7h0M65.3 324.9h0M65.5 325.3h0M64.0 326.0h0M66.9 324.7h0M66.4 325.5h0M66.0 325.1h0M65.0 325.6h0M63.4 327.3h0M65.1 325.9h0M62.2 327.0h0M64.5 325.1h0M65.2 324.2h0M65.6 324.1h0M66.0 325.2h0M66.5 324.5h0M65.9 324.2h0M65.1 324.6h0M64.5 324.7h0M64.8 324.5h0M66.2 323.8h0M65.2 324.9h0M65.3 323.7h0M64.9 323.6h0M65.1 324.1h0M64.9 323.4h0M64.2 324.5h0M62.7 325.1h0M65.8 323.5h0M64.4 324.6h0M63.6 324.6h0M62.9 325.1h0M65.5 323.5h0M65.4 323.6h0M63.5 323.7h0M63.9 324.5h0M65.0 323.1h0M65.8 323.1h0M65.3 322.8h0M64.1 323.3h0M63.3 324.1h0M64.4 323.3h0M65.6 323.5h0M63.9 322.4h0M62.2 324.0h0M61.8 323.7h0M63.2 323.5h0M65.2 322.4h0M64.0 322.7h0M62.6 323.4h0M64.5 323.4h0M63.7 322.6h0M62.3 323.9h0M63.8 322.8h0M63.8 322.1h0M65.5 321.8h0M63.7 322.0h0M64.1 321.1h0M61.8 322.6h0M61.7 322.8h0M64.7 322.4h0M65.1 321.4h0M64.4 321.4h0M65.0 321.5h0M63.6 322.4h0M63.3 322.5h0M63.8 321.0h0M62.2 321.0h0M62.6 322.2h0M64.3 320.9h0M64.4 321.6h0M64.2 321.7h0M63.4 321.6h0M61.1 322.1h0M62.0 322.1h0M65.0 320.6h0M62.4 321.9h0M63.8 320.2h0M64.1 320.2h0M60.3 321.6h0M63.1 320.3h0M62.6 321.1h0M64.2 320.5h0M62.9 320.9h0M62.0 321.8h0M61.9 320.9h0M61.6 321.6h0M63.1 320.8h0M63.0 320.4h0M64.3 319.9h0M61.5 320.8h0M63.7 320.2h0M63.9 319.1h0M64.1 319.5h0M63.8 319.1h0M62.0 321.1h0M61.7 320.5h0M62.8 320.2h0M63.6 319.1h0M63.1 319.5h0M61.3 320.2h0M62.5 319.6h0M63.0 319.2h0M59.2 320.6h0M61.8 320.1h0M63.6 318.8h0M62.5 319.3h0M60.2 320.1h0M63.9 319.1h0M61.6 319.9h0M61.2 319.6h0M61.4 318.8h0M61.2 319.3h0M64.0 318.2h0M63.0 318.0h0M63.3 318.0h0M59.6 319.9h0M59.9 319.4h0M62.0 319.2h0M63.5 318.5h0M61.6 319.2h0M63.7 318.0h0M62.9 318.1h0M61.7 318.6h0M62.8 317.4h0M63.3 317.5h0M63.6 317.5h0M59.8 318.8h0M59.3 319.2h0M61.9 318.8h0M62.1 318.4h0M61.8 318.0h0M59.6 318.9h0M63.0 317.3h0M62.5 316.8h0M62.2 317.1h0M63.1 317.1h0M62.9 317.9h0M62.8 317.2h0M57.6 318.9h0M61.8 317.7h0M63.3 317.8h0M60.6 318.0h0M62.2 316.9h0M63.5 316.3h0M58.9 318.2h0M61.3 316.5h0M62.0 316.7h0M60.4 317.4h0M61.6 316.9h0M61.2 316.5h0M59.3 317.6h0M62.3 316.5h0M62.9 316.6h0M62.4 316.2h0M62.8 315.8h0M60.7 316.7h0M58.5 317.1h0M62.9 315.8h0M62.7 315.9h0M60.3 316.7h0M62.5 315.8h0M61.4 316.1h0M60.0 316.2h0M59.1 316.5h0M62.4 315.2h0M61.5 316.0h0M58.8 316.5h0M60.9 315.7h0M61.8 315.6h0M62.0 315.3h0M61.6 315.8h0M61.7 315.3h0M60.8 315.4h0M60.0 315.5h0M61.9 314.9h0M62.8 314.6h0M62.6 314.5h0M61.8 315.1h0M62.5 314.5h0M61.1 315.6h0M59.0 315.0h0M60.3 314.5h0M61.2 314.7h0M60.7 314.3h0M59.0 315.4h0M61.6 314.5h0M60.1 315.4h0M61.8 314.1h0M61.6 314.7h0M62.6 313.9h0M59.7 314.7h0M62.0 313.8h0M61.2 313.9h0M60.6 313.6h0M60.8 313.9h0M61.8 313.6h0M58.4 315.1h0M61.0 313.8h0M62.2 313.3h0M60.5 313.7h0M61.6 313.5h0M61.9 313.2h0M61.0 313.8h0M61.0 313.3h0M60.9 313.0h0M61.5 313.0h0M60.3 313.4h0M61.4 312.6h0M60.5 313.3h0M58.6 313.7h0M60.8 312.9h0M61.3 313.0h0M61.4 313.2h0M60.7 312.5h0M60.7 312.4h0M60.4 313.1h0M60.6 312.4h0M62.0 312.1h0M62.1 311.9h0M61.1 312.5h0M57.6 312.3h0M61.3 312.3h0M58.1 311.8h0M60.1 312.1h0M60.5 312.1h0M60.0 312.3h0M61.2 312.0h0M59.8 311.5h0M59.3 312.0h0M58.3 311.7h0M61.8 311.6h0M60.6 311.8h0M57.7 311.8h0M61.4 311.7h0M55.5 311.9h0M59.8 311.2h0M61.4 311.0h0M60.5 311.1h0M61.4 310.9h0M60.1 311.3h0M61.3 310.5h0M61.3 310.4h0M58.6 311.0h0M60.1 310.3h0M60.0 310.4h0M60.5 310.5h0M61.3 310.8h0M57.8 309.9h0M59.9 310.0h0M61.7 309.9h0M60.0 310.3h0M59.3 310.1h0M56.1 309.5h0M60.3 309.4h0M59.8 309.5h0M61.3 310.4h0M59.5 309.8h0M61.6 309.4h0M58.8 309.2h0M61.2 309.3h0M60.1 309.2h0M58.8 308.4h0M58.8 308.6h0M61.8 309.0h0M57.3 307.7h0M60.7 309.4h0M60.9 308.8h0M59.9 309.0h0M60.9 308.2h0M61.8 308.4h0M59.5 308.2h0M61.7 308.2h0M59.1 307.7h0M59.1 307.7h0M59.6 307.3h0M61.1 307.5h0M61.6 308.6h0M59.2 306.9h0M59.4 306.9h0M61.9 308.0h0M59.4 306.0h0M62.5 307.9h0M61.6 307.6h0M60.3 307.8h0M59.8 305.8h0M60.1 306.8h0M61.9 307.0h0M59.9 305.8h0M62.2 307.7h0M61.6 306.8h0M61.7 307.5h0M61.8 306.6h0M62.4 307.1h0M62.1 307.4h0M61.6 307.5h0M60.8 306.1h0M60.5 305.1h0M61.6 306.5h0M61.2 305.8h0M61.7 306.1h0M62.3 306.7h0M62.7 307.4h0M61.5 304.7h0M62.4 306.9h0M62.1 305.5h0M62.3 305.5h0M61.3 304.8h0M62.0 306.2h0M61.7 304.8h0M62.7 306.1h0M63.0 306.4h0M62.9 307.3h0M63.1 306.8h0M62.9 306.5h0M61.9 304.3h0M64.3 306.1h0M63.0 305.4h0M63.7 306.4h0M62.2 305.1h0M62.1 304.4h0M62.1 304.6h0M59.0 299.0h0M63.5 304.6h0M64.1 305.1h0M62.6 302.3h0M63.9 304.5h0M62.0 298.5h0M63.5 302.6h0M64.9 303.4h0M64.9 305.4h0M64.5 301.7h0M64.3 302.5h0M65.0 303.0h0M66.4 304.2h0M64.7 299.4h0M65.1 299.0h0M66.1 302.3h0M65.7 302.9h0M68.1 304.7h0M66.6 301.1h0M66.2 302.5h0M68.1 305.2h0M67.3 300.9h0M66.5 299.8h0M68.6 304.8h0M68.6 303.7h0M67.8 301.2h0M67.5 296.2h0M68.9 302.2h0M68.6 301.6h0M66.9 293.1h0M68.9 302.0h0M69.7 303.2h0M69.5 301.6h0M70.4 301.8h0M70.3 303.0h0M69.7 296.4h0M70.1 300.9h0M70.9 301.5h0M70.7 300.2h0M70.4 297.4h0M71.3 299.6h0M72.4 302.8h0M71.8 302.9h0M71.0 292.4h0M72.5 303.7h0M72.6 302.6h0M73.5 303.5h0M72.8 299.2h0M72.9 299.6h0M73.3 300.0h0M73.7 300.6h0M73.4 302.4h0M74.1 302.3h0M74.7 301.0h0M74.0 300.4h0M75.3 304.2h0M75.2 299.9h0M75.0 301.2h0M75.6 295.3h0M75.9 297.4h0M75.7 295.9h0M76.3 297.4h0M76.8 301.6h0M76.3 303.9h0M77.2 295.8h0M77.6 302.4h0M77.3 300.4h0M77.8 301.6h0M77.9 300.2h0M78.2 301.7h0M78.4 303.4h0M78.5 303.3h0M78.0 302.3h0M78.8 297.9h0M78.8 300.7h0M79.0 299.8h0M80.7 303.5h0M80.0 301.9h0M80.8 300.5h0M81.0 296.3h0M80.8 300.5h0M81.0 296.3h0M81.9 298.4h0M81.5 299.2h0M81.4 302.0h0M82.1 302.3h0M82.9 298.4h0M82.4 299.9h0M83.9 295.4h0M83.1 296.4h0M83.0 303.7h0M83.7 302.0h0M83.7 301.5h0M83.0 303.2h0M85.5 292.5h0M84.2 302.6h0M86.7 291.6h0M84.5 303.6h0M84.6 303.9h0M86.3 293.2h0M86.1 295.8h0M85.5 301.6h0M86.7 298.7h0M86.9 299.3h0M87.4 293.0h0M86.3 302.6h0M88.1 300.0h0M88.0 297.7h0M88.0 298.8h0M87.4 300.4h0M90.3 295.0h0M87.6 303.9h0M88.3 302.9h0M89.3 303.3h0M88.7 302.1h0M90.8 297.1h0M89.3 301.3h0M89.4 303.1h0M91.9 297.8h0M89.7 304.0h0M94.2 293.3h0M90.1 305.3h0M93.2 297.0h0M90.8 305.7h0M93.0 299.9h0M92.8 301.1h0M91.0 304.4h0M95.9 295.9h0M92.5 303.7h0M99.8 290.6h0M91.8 305.7h0M92.4 304.1h0M95.8 302.0h0M93.4 305.2h0M98.7 300.7h0M101.3 298.8h0M93.4 307.0h0M96.5 305.3h0M101.1 303.8h0M93.7 308.1h0M101.3 304.9h0M98.4 307.5h0M95.0 309.0h0M96.0 309.2h0M94.4 309.6h0M98.6 309.0h0M103.2 308.7h0M103.9 309.3h0M94.0 309.7h0M94.6 310.3h0M94.6 310.9h0M94.2 311.0h0M96.8 311.1h0M98.1 313.1h0M98.5 311.6h0M95.4 311.9h0M101.5 313.2h0M99.7 312.8h0M98.1 313.6h0M101.7 314.6h0M99.6 314.0h0M96.0 314.2h0M95.4 314.5h0M96.0 313.7h0M101.4 315.9h0M97.6 315.3h0M93.8 314.6h0M93.3 314.8h0M96.7 316.3h0M97.5 316.4h0M95.3 316.5h0M94.9 316.6h0M96.3 316.8h0M94.7 317.0h0M98.4 318.0h0M102.3 318.5h0M94.3 317.4h0M97.9 317.9h0M101.6 319.5h0M98.8 319.9h0M95.4 318.5h0M93.0 317.6h0M94.5 318.9h0M95.6 320.3h0M100.2 321.0h0M96.6 320.9h0M101.1 323.0h0M98.1 320.9h0M99.5 322.3h0M96.3 321.5h0M94.1 320.9h0M105.7 325.6h0M101.1 323.9h0M92.1 320.7h0M93.3 322.2h0M93.7 322.2h0M91.5 321.5h0M90.8 321.3h0M92.7 322.7h0M94.3 322.6h0M94.7 323.4h0M93.9 323.9h0M89.5 323.0h0M95.8 325.1h0M93.7 324.7h0M96.2 326.1h0M94.1 324.8h0M90.6 323.9h0M95.2 327.2h0M91.4 324.5h0M95.5 327.4h0M89.5 324.3h0M91.4 325.6h0M95.9 328.2h0M91.3 326.5h0M93.1 327.8h0M92.3 326.3h0M91.1 326.5h0M89.3 326.3h0M93.3 329.1h0M89.9 326.4h0M92.5 328.5h0M94.6 331.3h0M89.7 327.5h0M90.7 328.0h0M92.0 328.4h0M93.3 331.5h0M90.5 328.9h0M90.7 329.0h0M93.9 332.1h0M87.8 327.7h0M95.0 333.4h0M95.3 333.8h0M87.6 328.9h0M88.1 329.6h0M87.2 327.9h0M90.4 332.6h0M87.8 329.6h0M87.5 328.4h0M88.2 331.9h0M89.3 332.1h0M89.0 332.7h0M86.4 330.7h0M88.5 332.3h0M87.9 332.6h0M85.6 331.2h0M90.5 336.7h0M85.5 330.4h0M85.9 331.7h0M90.4 337.4h0M89.0 335.9h0M87.6 336.2h0M87.4 335.2h0M85.3 333.4h0M87.1 337.7h0M85.8 335.2h0M86.7 335.4h0M86.2 337.8h0M86.9 338.6h0M86.1 337.4h0M85.9 340.0h0M82.9 333.1h0M82.8 333.2h0M82.7 333.3h0M85.0 338.0h0M81.7 334.2h0M82.0 334.1h0M82.6 336.9h0M81.2 332.8h0M81.2 335.1h0M81.2 337.1h0M82.5 340.3h0M81.1 336.2h0M80.4 335.7h0M81.1 337.8h0M79.8 335.9h0M80.2 333.6h0M79.1 340.0h0M78.8 335.0h0M79.3 338.3h0M79.1 342.6h0M78.5 333.6h0M78.5 332.3h0M77.6 335.3h0M77.6 337.8h0M76.6 332.7h0M77.2 333.3h0M76.8 337.7h0M77.0 334.3h0M74.8 347.0h0M75.6 339.5h0M75.7 333.0h0M75.7 334.4h0M75.8 333.9h0M75.1 332.5h0M75.2 332.5h0M73.2 336.9h0M73.9 333.7h0M73.2 333.0h0M74.3 332.0h0M73.5 334.4h0M73.8 332.4h0M72.8 334.9h0M69.3 342.6h0M73.5 331.6h0M73.2 331.3h0M72.1 333.2h0M69.0 338.6h0M72.2 332.8h0M67.4 340.0h0M64.4 343.9h0M65.1 340.8h0M63.2 343.2h0M71.5 331.4h0M70.4 332.3h0M71.4 330.8h0M71.2 330.4h0M70.6 330.6h0M68.9 332.7h0M65.4 336.4h0M68.7 332.0h0M70.8 330.3h0M68.2 331.3h0M66.3 333.7h0M69.1 329.8h0M68.6 330.6h0M66.6 331.7h0M68.8 330.4h0M68.3 329.8h0M64.8 332.5h0M64.0 331.3h0M68.4 328.0h0M64.0 331.8h0M64.4 330.9h0M67.3 328.2h0M60.8 333.2h0M61.3 330.6h0M67.3 327.9h0M65.7 328.5h0M66.7 326.7h0M60.6 331.1h0M67.3 326.8h0M65.5 327.0h0M64.7 327.8h0M65.7 326.5h0M64.1 327.4h0M64.4 326.7h0M57.4 330.8h0M62.7 327.1h0M63.2 327.1h0M62.8 327.3h0M64.8 325.0h0M64.3 324.4h0M64.9 324.4h0M65.4 324.3h0M61.4 326.2h0M63.9 324.9h0M63.9 323.9h0M63.9 323.6h0M65.4 322.7h0M61.0 324.8h0M63.2 323.3h0M63.0 323.5h0M64.1 322.2h0M59.2 324.8h0M61.3 323.9h0M63.6 322.2h0M64.1 320.8h0M58.2 323.9h0M60.5 322.9h0M59.8 321.7h0M60.9 320.9h0M60.7 321.7h0M60.7 320.4h0M61.8 320.9h0M61.1 320.8h0M61.6 320.4h0M60.3 320.5h0M62.3 319.4h0M62.2 318.7h0M58.5 320.2h0M57.9 319.9h0M60.7 318.9h0M60.9 318.3h0M58.3 319.3h0M53.3 321.3h0M62.5 316.9h0M54.5 320.0h0M61.0 317.4h0M59.6 317.6h0M59.9 316.9h0M59.5 316.5h0M55.0 317.3h0M60.2 317.2h0M58.6 316.6h0M58.3 315.9h0M59.2 314.7h0M59.1 315.1h0M55.1 315.8h0M52.8 316.9h0M56.4 315.8h0M57.4 314.2h0M57.8 314.4h0M59.7 313.1h0M51.7 315.2h0M60.6 313.0h0M60.1 313.1h0M47.3 315.5h0M58.3 313.4h0M56.9 312.5h0M54.9 313.8h0M59.7 312.4h0M61.2 311.3h0M61.2 311.1h0M58.9 311.2h0M60.2 311.0h0M59.0 310.4h0M59.0 309.9h0M56.1 308.9h0M57.7 309.5h0M59.2 309.3h0M53.2 305.8h0M54.2 307.1h0M60.4 308.1h0M55.2 306.2h0M58.4 307.3h0M57.6 305.7h0M58.9 306.5h0M59.3 306.9h0M58.2 304.6h0M54.7 302.0h0M59.1 304.3h0M59.3 304.2h0M58.8 303.8h0M61.7 306.5h0M60.4 304.5h0M59.8 302.7h0M60.7 304.0h0M57.3 298.7h0M62.2 305.0h0M61.5 303.3h0M100.1 293.1h0M101.9 293.4h0M101.6 296.9h0M101.3 294.5h0M103.0 297.3h0M103.4 298.3h0M102.8 296.1h0M100.8 295.8h0M100.8 296.0h0M101.9 293.3h0M102.0 294.9h0M102.5 294.0h0M105.8 294.1h0M101.0 295.1h0M102.5 297.9h0M100.6 293.6h0M102.0 296.1h0M102.6 295.3h0M101.6 293.6h0M104.4 295.3h0M103.0 293.9h0M100.4 291.5h0M103.5 295.2h0M100.9 291.5h0M102.4 292.9h0M103.5 294.3h0M100.1 295.0h0M102.5 293.8h0M99.9 293.2h0M101.5 293.3h0M103.6 294.0h0M103.8 296.0h0M101.9 294.1h0M101.4 295.4h0M102.4 293.6h0M101.6 295.7h0M100.4 294.1h0M102.0 296.2h0M102.5 297.0h0M105.0 291.8h0M103.3 292.6h0M101.2 295.6h0M100.5 294.5h0M99.9 293.6h0M101.7 295.0h0M101.3 296.3h0M101.7 295.7h0M103.5 296.8h0M103.4 293.7h0M100.1 292.5h0M100.2 292.2h0M99.9 295.7h0M104.2 298.1h0M100.8 295.2h0M102.0 297.3h0M102.9 296.3h0M100.9 294.0h0M103.4 298.6h0M99.6 298.0h0M99.5 293.4h0M99.0 294.0h0M97.8 293.1h0M103.0 295.9h0M102.5 294.1h0M101.4 296.3h0M104.3 294.4h0M101.3 293.6h0M101.8 294.6h0M102.0 295.3h0M100.4 293.6h0M101.2 293.1h0M100.2 294.9h0M102.0 294.8h0M102.4 293.0h0M103.1 292.5h0M103.3 296.2h0M103.9 294.5h0M103.3 296.8h0M101.0 294.6h0M104.5 293.7h0M101.4 294.3h0M104.5 299.3h0M102.6 295.1h0M105.1 293.1h0M100.2 296.2h0M106.3 296.1h0M98.8 288.8h0M97.4 298.0h0M99.5 293.2h0M105.3 299.7h0M101.2 299.8h0M103.9 296.0h0M98.8 293.8h0M101.9 292.9h0M102.5 288.8h0M95.8 291.8h0M102.7 291.9h0M102.9 294.2h0M103.6 291.3h0M102.0 294.7h0M102.3 295.4h0M105.0 291.7h0M98.7 293.2h0M100.6 296.2h0M95.6 292.6h0M103.0 294.0h0M104.1 298.3h0M99.4 296.5h0M100.6 290.7h0M101.6 299.2h0M106.5 288.1h0M108.8 297.9h0M109.1 302.6h0M103.1 289.6h0M96.6 301.4h0M105.4 292.7h0M102.2 292.0h0M100.9 289.2h0M103.9 297.8h0M105.2 296.4h0M106.7 295.1h0M98.0 296.6h0M98.8 290.8h0M96.9 294.9h0M104.9 296.1h0M96.8 297.8h0M97.9 294.3h0M96.9 285.1h0M97.7 294.4h0M110.1 299.3h0M99.6 302.1h0M100.7 300.3h0M104.9 297.3h0M98.9 299.6h0M106.0 301.5h0M102.7 295.8h0M95.9 298.7h0M107.3 290.1h0M105.1 291.5h0M102.4 295.2h0M100.5 291.5h0M103.2 294.7h0M99.9 299.2h0M100.1 293.0h0M101.7 293.7h0M105.1 293.8h0M99.8 289.8h0M106.9 300.4h0M100.8 295.9h0M98.4 291.9h0M101.6 300.4h0M104.4 299.7h0M104.4 297.1h0M101.7 299.1h0M96.3 289.7h0M103.3 291.5h0M101.7 308.6h0M106.2 299.9h0M96.5 300.3h0M102.6 314.6h0M98.3 305.1h0M100.4 310.9h0M104.7 301.1h0M90.2 327.2h0M94.1 321.6h0M106.8 293.1h0M100.1 303.6h0M100.8 321.8h0M109.6 308.0h0M95.8 304.1h0M105.5 302.0h0M108.5 308.4h0M109.4 307.9h0M120.3 309.1h0M110.3 313.2h0M97.0 305.3h0M118.6 321.6h0M111.0 299.4h0M109.3 311.3h0M82.9 311.0h0M99.1 310.9h0M100.1 298.1h0M99.5 323.7h0M103.8 323.9h0M101.0 311.9h0M101.9 306.4h0M95.3 309.3h0M101.5 314.8h0M92.4 314.3h0M85.8 312.5h0M97.0 308.1h0M100.1 306.3h0M102.1 302.7h0M102.6 319.1h0M96.2 307.3h0M111.8 309.8h0M91.6 321.4h0M102.5 317.8h0M96.6 309.6h0M104.7 328.5h0M101.3 313.4h0M96.5 327.6h0M83.9 311.8h0M105.3 312.7h0M95.9 314.4h0M93.8 307.6h0M93.7 308.0h0M99.2 305.4h0M93.8 313.3h0M96.9 309.1h0M109.0 306.1h0M106.4 303.1h0M103.9 311.9h0M98.9 297.9h0M100.6 307.7h0M107.8 315.4h0M101.6 288.5h0M105.4 316.5h0M110.1 322.0h0M99.4 303.7h0M101.3 309.9h0M93.2 308.4h0M91.7 323.1h0M100.3 302.9h0M91.4 299.8h0M95.3 312.3h0M90.7 297.4h0M105.9 321.1h0M102.4 312.2h0M104.0 302.8h0M100.0 318.4h0M105.6 298.3h0M95.8 315.6h0M98.6 310.9h0M102.4 302.6h0M94.2 306.5h0M110.0 314.8h0M98.1 309.8h0M102.6 296.5h0M96.1 308.7h0M105.5 299.8h0M92.2 301.7h0M99.9 307.5h0M108.7 319.5h0M112.0 298.5h0M104.0 288.6h0M91.5 314.0h0M95.3 315.2h0M103.6 319.7h0M108.4 310.5h0M111.4 311.1h0M93.2 306.5h0M87.2 300.3h0M112.4 324.4h0M94.7 317.2h0M93.9 291.2h0M94.9 305.2h0M101.5 319.0h0M100.1 307.0h0M103.3 300.4h0M98.4 330.0h0M98.2 310.1h0M94.2 292.0h0M95.9 307.1h0M91.3 321.4h0M93.9 310.0h0M92.8 306.2h0M95.9 314.8h0M97.3 324.9h0M107.0 334.7h0M102.7 311.0h0M101.2 304.7h0M99.2 317.2h0M104.7 298.9h0M106.8 299.0h0M87.7 328.9h0M97.4 298.6h0M106.2 313.8h0M103.6 320.8h0M96.9 313.1h0M93.9 312.2h0M107.9 310.8h0M94.3 302.7h0M112.6 305.7h0M106.3 315.9h0M99.0 311.9h0M115.0 297.2h0M93.9 311.1h0M104.6 320.7h0M103.0 313.8h0M110.3 303.8h0M109.8 311.9h0M104.1 304.8h0M100.1 300.4h0M105.4 317.3h0M96.9 310.1h0M104.2 298.0h0M90.0 309.3h0M102.1 303.0h0M83.9 293.6h0M102.3 312.3h0M100.7 302.9h0M110.2 316.9h0M96.5 305.9h0M96.3 323.6h0M87.9 321.7h0M109.3 316.5h0M94.0 313.2h0M105.4 325.9h0M100.3 306.7h0M97.1 308.0h0M106.4 318.1h0M88.7 312.4h0M101.0 320.0h0M115.1 320.2h0M106.2 300.8h0M116.5 300.9h0M94.7 310.9h0M98.6 320.3h0M93.2 316.6h0M100.0 291.8h0M106.1 314.4h0M99.2 306.0h0M108.4 319.7h0M106.6 320.3h0M103.5 317.0h0M98.4 330.6h0M94.3 304.7h0M97.6 299.5h0M88.7 305.8h0M113.6 311.9h0M114.4 325.4h0M101.9 312.1h0M113.7 305.7h0M90.5 315.5h0M118.5 310.7h0M103.0 306.7h0M93.0 297.7h0M100.7 316.7h0M102.4 304.5h0M105.5 316.0h0M84.1 301.0h0M111.8 331.1h0M85.6 308.0h0M101.9 315.9h0M107.1 320.4h0M102.6 321.1h0M101.9 317.6h0M89.4 313.5h0M95.9 312.1h0M100.3 310.3h0M107.9 325.6h0M99.7 301.5h0M107.4 324.6h0M97.1 302.4h0M103.6 300.7h0M96.5 311.9h0M93.3 310.9h0M99.5 315.1h0M98.3 309.0h0M107.1 306.5h0M111.4 299.5h0M103.0 306.3h0M87.8 306.4h0M101.3 302.4h0M113.2 302.5h0M105.8 309.1h0M105.9 319.6h0M109.6 308.2h0M109.7 318.8h0M109.3 318.8h0M107.6 318.9h0M98.4 305.5h0M91.2 310.2h0M112.6 299.9h0M89.7 308.9h0M97.7 302.8h0M99.8 318.0h0M111.3 309.8h0M97.9 316.9h0M95.6 316.3h0M94.5 325.8h0M110.1 307.4h0M100.4 327.0h0M99.8 310.2h0M106.4 309.2h0M89.6 315.7h0M95.4 306.1h0M91.5 327.4h0M100.1 307.0h0M110.6 318.2h0M108.3 307.9h0M99.3 310.5h0M105.4 300.0h0M114.8 300.1h0M94.9 303.4h0M95.5 288.7h0M64.2 277.1h0M74.3 285.7h0M77.6 290.0h0M82.5 285.5h0M111.9 285.9h0M79.1 305.3h0M72.6 299.0h0M83.7 305.9h0M83.5 318.7h0M88.9 303.7h0M89.2 306.1h0M84.8 295.6h0M84.3 297.2h0M81.3 304.6h0M80.4 312.9h0M82.8 293.3h0M88.0 279.7h0M104.1 305.8h0M88.9 303.8h0M92.2 288.5h0M88.8 291.4h0M65.8 282.2h0M95.8 293.8h0M80.4 300.1h0M79.3 286.2h0M92.2 297.2h0M97.7 301.5h0M72.1 291.6h0M93.6 274.5h0M65.0 291.6h0M85.1 289.2h0M93.1 291.1h0M102.9 297.5h0M84.8 295.1h0M80.1 289.8h0M69.2 307.1h0M84.6 292.4h0M70.5 285.1h0M84.6 297.8h0M105.5 295.9h0M85.6 291.3h0M81.5 291.0h0M85.8 297.7h0M77.2 301.2h0M86.7 304.4h0M101.1 303.0h0M81.9 289.0h0M96.3 297.5h0M67.9 293.6h0M94.3 302.4h0M84.9 301.3h0M84.2 292.0h0M77.1 300.3h0M66.8 298.9h0M83.8 306.6h0M68.4 304.9h0M94.7 291.3h0M84.1 290.2h0M88.3 284.8h0M93.1 296.2h0M100.3 291.3h0M67.4 305.1h0M86.4 298.1h0M81.6 285.8h0M84.0 299.1h0M70.5 299.5h0M85.1 285.7h0M85.3 289.0h0M84.2 296.2h0M61.2 302.2h0M90.8 289.7h0M74.8 293.0h0M94.7 282.3h0M80.4 302.9h0M69.4 283.2h0M87.5 293.9h0M96.2 296.0h0M103.6 307.9h0M78.6 298.3h0M99.5 287.7h0M102.3 304.7h0M98.3 291.5h0M77.3 295.1h0M90.8 293.9h0M98.0 302.9h0M91.9 290.2h0M76.9 283.2h0M64.0 298.5h0M79.9 289.7h0M78.1 306.1h0M79.1 301.1h0M89.9 293.0h0M83.1 283.8h0M89.4 298.4h0M90.4 303.9h0M82.0 296.0h0M88.0 286.7h0M80.4 282.2h0M76.8 290.8h0" fill="none" stroke="#000" stroke-width="0.75" stroke-linecap="square" opacity="1"/>
<path d="M64.00 306.60C65.40 305.72 67.75 305.13 70.00 304.70C72.25 304.27 74.92 304.02 77.50 304.00C80.08 303.98 83.15 304.17 85.50 304.60C87.85 305.03 90.25 305.60 91.60 306.60C92.95 307.60 93.50 308.70 93.60 310.60C93.70 312.50 93.07 315.43 92.20 318.00C91.33 320.57 90.02 323.77 88.40 326.00C86.78 328.23 84.57 330.35 82.50 331.40C80.43 332.45 78.00 332.62 76.00 332.30C74.00 331.98 72.17 331.05 70.50 329.50C68.83 327.95 67.28 325.33 66.00 323.00C64.72 320.67 63.53 317.67 62.80 315.50C62.07 313.33 61.40 311.48 61.60 310.00C61.80 308.52 62.60 307.48 64.00 306.60Z" fill="#000" stroke="#000" stroke-width="2.4" stroke-linejoin="round"/>
<path d="M64.00 306.60C65.40 305.72 67.75 305.13 70.00 304.70C72.25 304.27 74.92 304.02 77.50 304.00C80.08 303.98 83.15 304.17 85.50 304.60C87.85 305.03 90.25 305.60 91.60 306.60C92.95 307.60 93.50 308.70 93.60 310.60C93.70 312.50 93.07 315.43 92.20 318.00C91.33 320.57 90.02 323.77 88.40 326.00C86.78 328.23 84.57 330.35 82.50 331.40C80.43 332.45 78.00 332.62 76.00 332.30C74.00 331.98 72.17 331.05 70.50 329.50C68.83 327.95 67.28 325.33 66.00 323.00C64.72 320.67 63.53 317.67 62.80 315.50C62.07 313.33 61.40 311.48 61.60 310.00C61.80 308.52 62.60 307.48 64.00 306.60Z" fill="#a6a6a6" stroke="#fff" stroke-width="1.4" stroke-linejoin="round"/>
<path d="M65 309.5 Q77.5 305 91 309.5 Q90.5 316 86.5 321.6 Q77.5 316.5 68 321.5 Q65.6 315 65 309.5Z" fill="#7a7a7a"/>
<path d="M67 310.3 Q77.5 306.6 89 310.3" fill="none" stroke="#444" stroke-width="0.7"/>
<ellipse cx="78.5" cy="312.6" rx="6.5" ry="1.6" fill="#cdcdcd"/>
<ellipse cx="78" cy="316.4" rx="3.6" ry="1.0" fill="#bbb"/>
<path d="M66.3 321.6 Q77.5 316.6 88.8 322.3 Q83.6 331 76 331.6 Q70 329 66.3 321.6Z" fill="#fafafa"/>
<path d="M69.5 324 Q77.5 320.6 85.5 324.4" fill="none" stroke="#999" stroke-width="0.5"/>
<path d="M72 327 Q77.5 325 83 327.4" fill="none" stroke="#aaa" stroke-width="0.5"/>
<rect x="93.3" y="285.8" width="18.60000000000001" height="17.5" fill="none" stroke="#000" stroke-width="1.5"/>
<text transform="translate(93.5 283) translate(-0.433 0) scale(1.0309 1)" font-size="12" letter-spacing="0.264" stroke="#000" stroke-width="0.5">0.5</text>
<text transform="translate(61.2 261.7) translate(-0.793 0) scale(1.0171 1)" font-size="12" letter-spacing="0.264" stroke="#000" stroke-width="0.5">no RTX</text>
<rect x="43.5" y="366.7" width="85.0" height="84.60000000000002" fill="#fff" stroke="#6a6a6a" stroke-width="0.8"/>
<path d="M66.6 451.9h0M66.9 451.9h0M68.5 451.9h0M42.2 387.9h0M42.2 392.8h0M92.0 451.9h0M88.7 451.9h0M89.0 451.9h0M42.2 409.0h0M42.2 413.8h0M109.9 451.9h0M111.3 451.9h0M112.7 451.9h0M42.2 430.1h0M42.2 431.6h0" fill="none" stroke="#333" stroke-width="0.8" stroke-linecap="square" opacity="1"/>
<path d="M64.0 409.7h0M62.7 407.5h0M64.4 408.1h0M64.7 409.3h0M63.8 407.6h0M63.8 406.4h0M64.7 408.7h0M65.4 408.8h0M64.9 407.2h0M63.7 406.1h0M65.9 408.2h0M65.7 407.1h0M65.1 407.5h0M66.4 408.3h0M66.8 407.9h0M65.4 405.0h0M66.1 405.9h0M65.1 404.0h0M66.5 407.1h0M66.6 405.1h0M66.9 406.7h0M66.7 406.8h0M67.9 407.5h0M68.1 407.2h0M66.0 403.5h0M68.2 407.0h0M68.0 406.7h0M68.4 406.9h0M68.7 406.6h0M68.9 407.1h0M68.3 404.5h0M69.8 406.6h0M69.7 406.8h0M69.9 407.5h0M69.0 403.5h0M69.6 407.0h0M69.1 404.5h0M70.5 406.0h0M70.4 405.7h0M70.3 406.3h0M70.8 405.6h0M71.1 405.4h0M71.3 405.9h0M71.8 406.3h0M71.5 403.0h0M71.5 404.7h0M71.8 400.1h0M72.4 404.8h0M71.9 405.0h0M72.7 402.6h0M73.7 406.3h0M73.0 405.7h0M73.4 402.3h0M73.1 406.2h0M73.5 403.9h0M74.1 405.2h0M74.2 404.8h0M73.8 405.6h0M74.9 406.3h0M75.2 405.8h0M75.1 406.1h0M74.6 405.7h0M75.5 404.8h0M75.3 406.4h0M75.8 405.9h0M75.5 405.8h0M76.3 406.2h0M76.2 405.2h0M76.4 404.4h0M76.8 404.0h0M76.9 406.1h0M77.6 404.6h0M77.1 405.4h0M77.4 405.2h0M77.8 402.8h0M78.1 402.4h0M78.2 404.3h0M77.4 405.7h0M78.2 406.2h0M78.9 403.9h0M78.3 404.8h0M78.9 405.9h0M79.4 404.3h0M79.0 405.9h0M79.9 406.4h0M79.6 404.8h0M80.4 403.7h0M80.9 403.3h0M80.8 404.2h0M80.4 404.5h0M80.8 406.1h0M81.1 404.8h0M81.5 405.3h0M81.6 405.6h0M82.2 404.3h0M81.7 405.3h0M82.1 405.7h0M82.5 406.2h0M82.8 405.6h0M81.6 406.1h0M82.6 407.3h0M83.4 404.2h0M82.8 406.8h0M83.3 406.9h0M83.0 406.7h0M83.3 405.1h0M82.6 407.6h0M84.3 407.3h0M84.2 406.0h0M84.7 404.4h0M84.4 408.1h0M84.5 406.9h0M85.6 403.8h0M84.7 406.5h0M84.5 407.7h0M85.6 405.7h0M86.4 407.1h0M86.0 407.6h0M85.1 408.0h0M86.1 406.0h0M87.2 405.6h0M87.0 406.4h0M86.1 406.7h0M86.2 408.1h0M85.8 408.0h0M86.7 407.7h0M88.7 406.2h0M86.7 409.0h0M88.1 406.2h0M89.3 406.8h0M87.9 409.0h0M87.7 408.0h0M89.7 405.9h0M88.2 409.1h0M88.4 408.6h0M88.8 409.0h0M88.5 409.1h0M88.1 409.8h0M89.9 408.9h0M92.4 405.2h0M91.9 406.9h0M91.8 406.7h0M89.5 410.3h0M90.5 409.6h0M89.8 409.9h0M89.6 410.8h0M92.1 408.1h0M94.5 406.6h0M90.4 411.3h0M89.9 411.3h0M92.2 410.3h0M90.6 410.4h0M91.2 411.4h0M95.0 409.5h0M90.6 411.4h0M91.4 412.6h0M91.8 411.4h0M93.7 410.8h0M92.1 412.3h0M93.4 412.0h0M92.6 411.9h0M94.1 412.5h0M92.3 413.0h0M91.2 413.7h0M93.5 413.3h0M94.1 413.2h0M91.5 414.4h0M92.9 414.5h0M93.2 414.0h0M92.9 414.2h0M93.1 415.3h0M91.8 414.7h0M93.3 414.6h0M93.6 415.7h0M93.3 415.9h0M97.6 414.1h0M95.5 416.1h0M94.6 415.9h0M92.9 416.4h0M93.0 416.6h0M93.6 416.8h0M93.7 416.2h0M94.1 416.5h0M95.3 416.8h0M92.4 417.6h0M92.0 417.3h0M94.8 417.5h0M95.9 417.5h0M95.1 418.2h0M92.2 418.2h0M92.4 418.8h0M93.8 418.5h0M91.9 418.8h0M93.4 419.0h0M93.2 419.1h0M95.5 419.7h0M91.9 420.3h0M92.7 419.7h0M93.5 420.8h0M93.7 420.7h0M93.1 420.6h0M93.3 421.0h0M93.8 420.7h0M91.8 421.0h0M91.8 421.9h0M92.6 421.2h0M93.7 421.4h0M93.6 422.4h0M91.6 421.9h0M93.8 422.9h0M93.4 423.2h0M93.2 422.7h0M91.7 422.4h0M92.0 422.8h0M92.4 424.0h0M94.9 424.2h0M94.1 425.1h0M92.7 423.6h0M91.2 423.5h0M90.8 423.7h0M92.5 424.2h0M93.1 424.8h0M91.4 424.6h0M90.3 424.9h0M95.3 426.6h0M90.9 425.4h0M91.2 425.2h0M93.4 426.4h0M91.5 426.2h0M93.4 426.7h0M92.6 426.6h0M92.6 426.5h0M92.9 427.3h0M91.2 426.5h0M90.2 426.3h0M91.0 426.3h0M93.5 428.3h0M89.6 426.5h0M90.6 427.0h0M89.9 427.0h0M89.6 427.4h0M90.1 427.7h0M90.6 428.6h0M89.9 428.1h0M89.9 428.5h0M90.5 428.9h0M92.9 430.9h0M90.1 429.6h0M89.4 428.7h0M90.8 429.8h0M91.3 431.3h0M90.4 430.0h0M88.9 429.8h0M88.5 429.8h0M91.1 431.1h0M89.3 430.3h0M88.5 429.3h0M88.0 430.1h0M87.6 430.0h0M87.9 430.3h0M88.7 431.6h0M88.1 431.0h0M87.5 430.8h0M90.8 433.5h0M87.8 432.0h0M88.1 430.5h0M88.6 433.1h0M88.0 432.2h0M86.6 431.4h0M88.2 433.5h0M87.2 433.4h0M87.5 433.0h0M87.2 433.2h0M87.1 434.7h0M85.6 432.1h0M85.1 431.8h0M85.8 433.3h0M85.4 432.4h0M86.3 433.8h0M85.2 432.1h0M85.9 433.2h0M87.1 436.3h0M85.0 433.8h0M83.9 433.0h0M83.5 433.6h0M85.1 435.7h0M84.5 434.9h0M83.6 434.4h0M84.1 433.4h0M84.1 434.7h0M83.9 435.4h0M83.5 435.1h0M83.4 435.0h0M83.9 435.5h0M83.9 435.9h0M82.5 434.4h0M82.4 433.9h0M81.7 434.6h0M82.1 434.1h0M82.1 436.7h0M81.3 435.0h0M81.7 437.0h0M81.8 435.5h0M81.7 437.0h0M80.9 434.2h0M80.7 436.0h0M80.8 436.1h0M81.0 437.8h0M79.3 436.2h0M80.6 438.1h0M79.3 435.5h0M80.1 436.7h0M79.2 434.6h0M79.0 434.8h0M79.1 436.0h0M79.2 435.2h0M78.9 437.8h0M78.1 435.5h0M77.7 435.7h0M78.3 436.8h0M77.3 439.0h0M77.4 438.6h0M77.9 437.7h0M77.1 435.3h0M77.0 434.8h0M77.0 437.0h0M76.0 435.8h0M76.7 434.9h0M76.0 436.2h0M76.1 435.3h0M76.1 435.7h0M75.8 435.5h0M75.3 435.0h0M75.1 435.7h0M75.1 435.6h0M74.7 435.3h0M73.5 436.5h0M74.9 435.0h0M73.9 435.5h0M74.3 437.5h0M73.9 436.9h0M73.9 436.6h0M71.9 440.0h0M73.2 437.3h0M73.0 434.5h0M72.3 436.5h0M72.3 437.2h0M72.4 436.0h0M72.6 434.2h0M72.4 435.1h0M71.7 436.4h0M71.4 435.2h0M71.7 434.8h0M69.7 437.1h0M71.8 433.6h0M70.7 435.1h0M71.0 434.0h0M70.4 434.3h0M70.4 434.6h0M70.3 433.9h0M69.9 434.0h0M70.3 434.2h0M70.3 434.2h0M69.9 432.5h0M69.3 434.3h0M70.1 433.2h0M68.7 434.2h0M68.1 434.8h0M68.6 434.0h0M68.5 432.8h0M69.8 431.7h0M68.1 432.7h0M67.5 433.4h0M67.9 432.8h0M68.2 432.5h0M67.0 433.0h0M65.4 433.6h0M67.9 431.6h0M67.7 430.6h0M67.5 431.1h0M67.0 431.7h0M65.6 433.2h0M67.0 430.5h0M65.2 432.8h0M66.8 431.2h0M64.6 432.3h0M67.3 430.3h0M65.5 430.7h0M65.8 430.4h0M66.5 429.8h0M66.3 431.1h0M65.9 430.1h0M63.7 431.7h0M66.4 429.3h0M64.9 430.6h0M66.2 429.7h0M64.8 429.2h0M62.4 431.9h0M65.3 429.5h0M63.8 430.1h0M63.6 429.5h0M63.3 430.3h0M61.5 430.0h0M65.1 428.1h0M63.4 429.4h0M64.1 428.7h0M65.0 427.8h0M62.6 428.2h0M64.1 427.4h0M64.5 427.5h0M62.8 427.6h0M61.1 428.3h0M60.7 429.1h0M59.6 429.6h0M63.8 427.0h0M63.7 425.9h0M63.3 426.9h0M61.0 427.2h0M64.0 426.0h0M63.2 426.3h0M61.2 427.0h0M62.2 426.1h0M61.1 426.4h0M63.7 425.3h0M62.7 425.5h0M62.6 425.2h0M63.2 425.1h0M63.6 424.5h0M60.3 424.9h0M59.1 425.7h0M63.3 424.4h0M62.6 423.5h0M59.5 424.8h0M61.6 423.9h0M61.0 423.0h0M58.2 424.5h0M62.4 422.4h0M62.6 422.5h0M62.4 422.6h0M59.4 422.7h0M62.7 421.9h0M62.2 422.1h0M61.4 422.5h0M61.1 422.1h0M61.6 420.3h0M61.8 420.4h0M60.4 421.6h0M61.9 421.3h0M57.9 421.9h0M59.4 421.0h0M62.6 420.1h0M60.2 420.8h0M59.8 420.2h0M59.4 419.9h0M61.8 419.8h0M59.8 420.0h0M61.5 418.7h0M54.7 420.4h0M61.6 419.0h0M61.8 418.9h0M61.7 418.1h0M56.4 418.7h0M60.4 419.2h0M61.4 418.7h0M61.8 418.4h0M61.6 417.6h0M57.4 417.1h0M61.3 417.6h0M62.2 417.5h0M61.6 416.9h0M60.7 416.4h0M60.4 415.7h0M57.8 416.9h0M60.4 415.2h0M59.7 415.0h0M59.8 414.8h0M62.3 415.5h0M60.8 415.1h0M59.9 414.5h0M62.4 415.0h0M58.8 413.7h0M58.2 413.9h0M62.3 414.2h0M60.3 414.1h0M59.3 413.4h0M61.7 413.3h0M62.0 413.8h0M61.4 412.8h0M58.4 412.4h0M61.8 413.1h0M59.2 412.3h0M60.7 412.5h0M61.0 412.4h0M62.8 412.0h0M62.1 412.2h0M61.1 411.3h0M62.2 411.2h0M62.1 411.4h0M62.3 411.6h0M62.6 410.6h0M60.9 409.6h0M61.1 409.8h0M62.8 410.3h0M61.1 408.6h0M60.7 408.4h0M63.3 410.0h0M62.0 408.9h0M61.9 407.2h0M64.2 410.2h0M63.0 407.0h0M62.6 405.5h0M63.8 405.2h0M62.2 402.1h0M62.6 401.8h0M65.7 404.7h0M65.4 402.1h0M66.8 406.3h0M66.6 402.6h0M68.2 406.0h0M68.4 406.5h0M69.2 406.2h0M67.5 399.9h0M69.9 403.3h0M69.7 405.5h0M70.7 404.9h0M69.9 400.4h0M70.7 400.1h0M71.3 401.0h0M71.6 399.8h0M71.5 399.8h0M72.3 403.3h0M74.0 404.7h0M74.2 400.8h0M73.9 403.7h0M75.2 405.6h0M74.8 399.8h0M75.3 403.6h0M75.9 403.8h0M76.8 405.8h0M77.0 404.9h0M77.6 404.5h0M79.0 399.5h0M78.9 400.4h0M79.0 402.2h0M80.8 400.9h0M79.9 405.5h0M81.1 397.8h0M81.7 399.7h0M81.9 400.7h0M81.3 406.7h0M82.5 403.4h0M85.5 397.9h0M83.4 405.8h0M86.0 399.3h0M84.5 406.2h0M84.8 405.5h0M87.3 401.5h0M88.1 401.4h0M88.2 402.3h0M88.3 403.4h0M89.6 402.5h0M91.4 400.4h0M93.7 399.5h0M89.5 407.3h0M89.2 408.4h0M91.6 405.6h0M91.6 406.8h0M90.5 408.7h0M90.9 408.7h0M92.9 409.2h0M95.2 407.8h0M91.2 410.3h0M90.5 411.6h0M96.3 409.0h0M96.2 410.8h0M98.3 410.6h0M93.8 413.1h0M91.4 414.5h0M91.9 415.2h0M98.4 413.6h0M92.5 415.6h0M96.2 416.0h0M92.0 417.3h0M92.5 417.9h0M94.2 418.7h0M95.8 419.0h0M92.2 419.3h0M93.5 420.8h0M92.8 420.8h0M92.3 419.9h0M105.0 424.1h0M100.1 424.1h0M96.4 423.3h0M94.1 423.8h0M100.8 425.9h0M93.1 423.6h0M91.3 423.3h0M99.3 426.9h0M91.2 424.4h0M92.3 425.1h0M96.4 427.5h0M92.4 426.0h0M91.0 426.4h0M90.0 426.2h0M90.4 427.1h0M89.3 427.1h0M94.4 429.9h0M90.2 428.2h0M89.1 428.7h0M88.9 428.5h0M88.3 429.5h0M91.9 431.8h0M91.0 432.0h0M89.9 431.2h0M91.8 435.0h0M91.1 433.8h0M90.1 433.8h0M88.8 432.3h0M90.2 434.4h0M89.3 434.4h0M89.3 435.6h0M89.2 434.6h0M85.4 431.6h0M87.6 436.0h0M84.9 434.3h0M87.4 439.2h0M89.4 442.6h0M83.6 433.6h0M85.1 437.4h0M85.9 439.7h0M84.1 439.9h0M83.2 439.3h0M81.5 436.9h0M81.7 439.5h0M80.7 440.1h0M79.7 438.3h0M79.1 436.5h0M78.5 437.9h0M77.8 440.0h0M77.1 435.5h0M76.3 437.9h0M75.9 442.0h0M75.8 438.4h0M74.2 444.8h0M73.9 439.3h0M74.4 434.5h0M72.7 437.7h0M72.4 436.6h0M72.4 436.6h0M72.1 435.8h0M66.8 446.1h0M71.2 434.6h0M70.1 434.9h0M68.9 435.9h0M67.2 437.5h0M66.6 436.4h0M63.8 439.3h0M67.4 435.4h0M68.0 432.1h0M68.0 431.3h0M67.3 432.3h0M65.3 433.8h0M63.7 432.8h0M66.8 430.4h0M60.9 434.4h0M59.5 434.6h0M63.5 431.1h0M65.2 429.8h0M65.6 427.7h0M62.4 430.2h0M61.2 430.1h0M63.1 428.8h0M56.8 430.7h0M64.1 427.3h0M58.8 428.5h0M57.0 427.6h0M57.2 427.0h0M61.5 424.3h0M62.0 423.5h0M56.1 424.9h0M52.2 426.4h0M62.8 422.6h0M61.4 422.3h0M61.1 422.2h0M58.5 422.1h0M57.9 421.4h0M61.2 420.1h0M60.3 418.9h0M59.4 419.6h0M60.5 418.7h0M58.5 418.4h0M58.2 417.8h0M61.3 417.3h0M57.1 416.7h0M58.1 416.8h0M61.1 416.4h0M55.0 415.5h0M53.4 413.3h0M60.8 413.7h0M61.8 414.4h0M59.3 413.0h0M58.0 412.4h0M54.3 411.0h0M59.6 411.5h0M59.8 409.2h0M56.5 405.8h0M64.1 410.5h0M62.4 407.8h0" fill="none" stroke="#2a2a2a" stroke-width="0.8" stroke-linecap="square" opacity="0.85"/>
<path d="M64.50 410.00C65.73 408.95 67.92 407.82 70.00 407.20C72.08 406.58 74.67 406.25 77.00 406.30C79.33 406.35 81.90 406.72 84.00 407.50C86.10 408.28 88.30 409.42 89.60 411.00C90.90 412.58 91.60 414.83 91.80 417.00C92.00 419.17 91.60 421.75 90.80 424.00C90.00 426.25 88.63 428.78 87.00 430.50C85.37 432.22 83.08 433.62 81.00 434.30C78.92 434.98 76.58 435.05 74.50 434.60C72.42 434.15 70.20 433.03 68.50 431.60C66.80 430.17 65.35 428.10 64.30 426.00C63.25 423.90 62.48 421.08 62.20 419.00C61.92 416.92 62.22 415.00 62.60 413.50C62.98 412.00 63.27 411.05 64.50 410.00Z" fill="#555" stroke="#555" stroke-width="1.4" stroke-linejoin="round"/>
<path d="M64.50 410.00C65.73 408.95 67.92 407.82 70.00 407.20C72.08 406.58 74.67 406.25 77.00 406.30C79.33 406.35 81.90 406.72 84.00 407.50C86.10 408.28 88.30 409.42 89.60 411.00C90.90 412.58 91.60 414.83 91.80 417.00C92.00 419.17 91.60 421.75 90.80 424.00C90.00 426.25 88.63 428.78 87.00 430.50C85.37 432.22 83.08 433.62 81.00 434.30C78.92 434.98 76.58 435.05 74.50 434.60C72.42 434.15 70.20 433.03 68.50 431.60C66.80 430.17 65.35 428.10 64.30 426.00C63.25 423.90 62.48 421.08 62.20 419.00C61.92 416.92 62.22 415.00 62.60 413.50C62.98 412.00 63.27 411.05 64.50 410.00Z" fill="#bdbdbd" stroke="#fff" stroke-width="1.2" stroke-linejoin="round"/>
<ellipse cx="76" cy="416.5" rx="9.5" ry="6" fill="#949494"/>
<ellipse cx="74" cy="414" rx="5" ry="2.6" fill="#7e7e7e"/>
<ellipse cx="75.5" cy="415.4" rx="3.6" ry="1.1" fill="#e2e2e2"/>
<path d="M66 424.5 Q77 420.6 88 425.5 Q83 432.6 75 432.3 Q69.5 430.2 66 424.5Z" fill="#e8e8e8"/>
<path d="M69 426.5 Q77 423.6 85 427" fill="none" stroke="#aaa" stroke-width="0.5"/>
<path d="M70.6 411.3h0M84.7 410.6h0M66.2 417.1h0M84.4 412.4h0M75.6 427.2h0M68.9 421.1h0M68.3 421.1h0M78.5 421.9h0M70.9 415.5h0M85.9 409.6h0M81.6 423.5h0M74.2 416.6h0M72.5 414.2h0M79.6 425.6h0M66.6 425.2h0M85.8 420.4h0M73.9 424.3h0M69.1 413.7h0M84.5 410.5h0M69.6 426.0h0M79.5 417.6h0M72.9 418.3h0M79.0 409.5h0M72.8 411.7h0M84.7 413.3h0M70.1 420.4h0M66.4 419.3h0M87.2 409.0h0M65.6 419.9h0M72.6 412.5h0M66.5 416.9h0M84.3 421.8h0M70.6 410.5h0M76.1 411.0h0M70.2 427.2h0M77.4 414.8h0M75.6 419.0h0M73.5 410.9h0M70.1 415.4h0M76.9 424.7h0M68.8 420.8h0M84.8 419.3h0M85.7 423.1h0M76.3 424.3h0M75.9 425.1h0M70.8 420.2h0M85.0 417.2h0M80.2 418.7h0M83.7 417.0h0M80.5 414.4h0M76.0 422.2h0M68.5 419.0h0M67.4 412.1h0M75.6 427.4h0M86.7 416.3h0M77.1 426.9h0M72.8 426.8h0M65.1 420.7h0M72.0 427.1h0M76.9 421.4h0M83.6 418.7h0M68.1 425.2h0M81.1 416.2h0M70.3 409.4h0M87.3 422.6h0M83.3 418.5h0M74.0 409.9h0M68.0 418.4h0M74.0 412.2h0M65.6 420.0h0M79.3 410.9h0M66.1 427.9h0M69.9 416.3h0M78.3 412.6h0M67.5 412.6h0M67.7 409.5h0M69.2 420.4h0M76.4 418.9h0M79.3 416.0h0M72.4 413.4h0M72.4 412.8h0M80.3 409.3h0M71.3 422.3h0M77.2 420.0h0M79.1 422.1h0M86.3 427.9h0M85.6 410.3h0M68.3 415.4h0M69.9 424.6h0M86.9 413.5h0M73.8 409.8h0M76.0 414.9h0M66.1 417.5h0M84.5 410.3h0M69.1 427.8h0M74.7 427.7h0M87.7 427.7h0M66.9 420.0h0M77.7 418.9h0M75.7 426.7h0M86.5 418.4h0M74.5 412.3h0M86.3 412.0h0M73.6 427.1h0M78.0 413.2h0M72.8 427.4h0M72.0 423.3h0M77.9 417.2h0M80.1 416.9h0M83.3 426.5h0M68.8 426.9h0M72.7 416.3h0M74.3 412.2h0M68.1 412.7h0M66.6 413.5h0M87.3 412.4h0M72.0 409.8h0M73.4 426.7h0M68.4 410.6h0M74.4 427.8h0" fill="none" stroke="#666" stroke-width="0.8" stroke-linecap="square" opacity="0.45"/>
<rect x="94.2" y="388.6" width="19.6" height="19" fill="#dcdcdc" opacity="0.75"/>
<rect x="93.2" y="387.5" width="18.7" height="18.1" fill="#f3f3f3" stroke="#000" stroke-width="1.5"/>
<line x1="93.2" y1="387.5" x2="111.9" y2="387.5" stroke="#fff" stroke-width="0.7" opacity="0.45"/>
<text transform="translate(93.8 383.7) translate(-0.447 0) scale(1.0638 1)" font-size="12" letter-spacing="0.264" stroke="#000" stroke-width="0.5">0.0</text>
<text transform="translate(72 363.7) translate(-0.979 0) scale(1.0195 1)" font-size="12" letter-spacing="0.264" stroke="#000" stroke-width="0.5">RTX</text>
<path d="M32 305 V461.9 H88.4" fill="none" stroke="#000" stroke-width="2.2" stroke-linejoin="miter"/>
<path d="M25.8 314.2 L32 305.1 L38.2 314.2" fill="none" stroke="#000" stroke-width="2.2" stroke-miterlimit="10"/>
<path d="M80.2 456 L88.2 461.9 L80.2 467.8" fill="none" stroke="#000" stroke-width="2.2" stroke-miterlimit="10"/>
<text transform="translate(94.6 466.5) translate(-0.650 0) scale(1.0000 1)" font-size="13" letter-spacing="-0.151" stroke="#000" stroke-width="0.4">CD38</text>
<text transform="translate(35.7 298.3) rotate(-90) translate(-1.045 0) scale(1.0050 1)" font-size="13" letter-spacing="0.286" stroke="#000" stroke-width="0.4">BCL-6</text>
<line x1="194.9" y1="19.610000000000003" x2="194.9" y2="205.79999999999998" stroke="#000" stroke-width="2.2" stroke-linecap="butt"/>
<line x1="188.20000000000002" y1="204.7" x2="318.5" y2="204.7" stroke="#000" stroke-width="2.2" stroke-linecap="butt"/>
<line x1="188.20000000000002" y1="20.6" x2="194.9" y2="20.6" stroke="#000" stroke-width="1.9800000000000002" stroke-linecap="butt"/>
<line x1="188.20000000000002" y1="66.6" x2="194.9" y2="66.6" stroke="#000" stroke-width="1.9800000000000002" stroke-linecap="butt"/>
<line x1="188.20000000000002" y1="112.7" x2="194.9" y2="112.7" stroke="#000" stroke-width="1.9800000000000002" stroke-linecap="butt"/>
<line x1="188.20000000000002" y1="158.7" x2="194.9" y2="158.7" stroke="#000" stroke-width="1.9800000000000002" stroke-linecap="butt"/>
<line x1="225.8" y1="204.7" x2="225.8" y2="211.0" stroke="#000" stroke-width="1.9800000000000002" stroke-linecap="butt"/>
<line x1="287" y1="204.7" x2="287" y2="211.0" stroke="#000" stroke-width="1.9800000000000002" stroke-linecap="butt"/>
<text transform="translate(186.6 25.3) translate(-12.557 0) scale(1.0395 1)" font-size="11" letter-spacing="0.242" stroke="#000" stroke-width="0.4">80</text>
<text transform="translate(186.6 71.3) translate(-12.677 0) scale(1.0494 1)" font-size="11" letter-spacing="0.242" stroke="#000" stroke-width="0.4">60</text>
<text transform="translate(186.6 117.4) translate(-12.324 0) scale(1.0202 1)" font-size="11" letter-spacing="0.242" stroke="#000" stroke-width="0.4">40</text>
<text transform="translate(186.6 163.39999999999998) translate(-12.677 0) scale(1.0494 1)" font-size="11" letter-spacing="0.242" stroke="#000" stroke-width="0.4">20</text>
<text transform="translate(186.6 209.39999999999998) translate(-6.219 0) scale(1.0872 1)" font-size="11" letter-spacing="0.000" stroke="#000" stroke-width="0.4">0</text>
<path d="M223.7 24.8 V18.0 H288.6 V24.8" fill="none" stroke="#000" stroke-width="2.3"/>
<text transform="translate(257.65 8.7) translate(-18.673 0) scale(1.1582 1)" font-size="10.4" letter-spacing="0.000" stroke="#000" stroke-width="0.5">p=0.62</text>
<circle cx="225.75" cy="69.25" r="4.9"/>
<circle cx="232.75" cy="104.4" r="4.9"/>
<circle cx="218.5" cy="116.6" r="4.9"/>
<circle cx="218.25" cy="128.1" r="4.9"/>
<circle cx="218.25" cy="133.5" r="4.9"/>
<circle cx="232.5" cy="130.9" r="4.9"/>
<circle cx="232.5" cy="139.4" r="4.9"/>
<circle cx="218.5" cy="150" r="4.9"/>
<circle cx="232.5" cy="154.4" r="4.9"/>
<circle cx="225.6" cy="157.5" r="4.9"/>
<circle cx="218.5" cy="156.3" r="4.9"/>
<circle cx="218.5" cy="162" r="4.9"/>
<circle cx="218.5" cy="167.5" r="4.9"/>
<circle cx="232.5" cy="161.3" r="4.9"/>
<circle cx="232.5" cy="167" r="4.9"/>
<circle cx="232.5" cy="173.1" r="4.9"/>
<circle cx="218.5" cy="186.5" r="4.9"/>
<circle cx="223" cy="156" r="4.9"/>
<circle cx="280.1" cy="123.8" r="4.7" fill="#fff" stroke="#000" stroke-width="2.3"/>
<circle cx="294" cy="128.7" r="4.7" fill="#fff" stroke="#000" stroke-width="2.3"/>
<circle cx="287.2" cy="157" r="4.7" fill="#fff" stroke="#000" stroke-width="2.3"/>
<circle cx="287" cy="180.5" r="4.7" fill="#fff" stroke="#000" stroke-width="2.3"/>
<circle cx="287" cy="195.75" r="4.7" fill="#fff" stroke="#000" stroke-width="2.3"/>
<line x1="205.2" y1="145.4" x2="246.2" y2="145.4" stroke="#000" stroke-width="2.4" stroke-linecap="butt"/>
<line x1="266.4" y1="157" x2="307.2" y2="157" stroke="#000" stroke-width="2.3" stroke-linecap="butt"/>
<text transform="translate(205.2 224.6) translate(-0.790 0) scale(1.0122 1)" font-size="12" letter-spacing="0.264" stroke="#000" stroke-width="0.5">no RTX</text>
<text transform="translate(276.3 224.6) translate(-0.960 0) scale(1.0000 1)" font-size="12" letter-spacing="-0.310" stroke="#000" stroke-width="0.5">RTX</text>
<text transform="translate(164.8 176) rotate(-90) translate(-0.433 0) scale(0.9516 1)" font-size="13" letter-spacing="-0.520" stroke="#000" stroke-width="0.45">%CD19<tspan font-size="8.5" dy="-4.5">+</tspan><tspan dy="4.5"> (of lymphocytes)</tspan></text>
<line x1="397.4" y1="19.01" x2="397.4" y2="204.1" stroke="#000" stroke-width="2.2" stroke-linecap="butt"/>
<line x1="390.7" y1="203" x2="520" y2="203" stroke="#000" stroke-width="2.2" stroke-linecap="butt"/>
<line x1="390.7" y1="20.0" x2="397.4" y2="20.0" stroke="#000" stroke-width="1.9800000000000002" stroke-linecap="butt"/>
<line x1="390.7" y1="81.0" x2="397.4" y2="81.0" stroke="#000" stroke-width="1.9800000000000002" stroke-linecap="butt"/>
<line x1="390.7" y1="142.0" x2="397.4" y2="142.0" stroke="#000" stroke-width="1.9800000000000002" stroke-linecap="butt"/>
<line x1="428" y1="203" x2="428" y2="209.3" stroke="#000" stroke-width="1.9800000000000002" stroke-linecap="butt"/>
<line x1="489.4" y1="203" x2="489.4" y2="209.3" stroke="#000" stroke-width="1.9800000000000002" stroke-linecap="butt"/>
<text transform="translate(353.2 24.7) translate(-0.593 0) scale(1.0783 1)" font-size="11" letter-spacing="0.242" stroke="#000" stroke-width="0.4">6×10<tspan font-size="8.5" dy="-4.3">07</tspan></text>
<text transform="translate(353.2 85.7) translate(-0.235 0) scale(1.0680 1)" font-size="11" letter-spacing="0.242" stroke="#000" stroke-width="0.4">4×10<tspan font-size="8.5" dy="-4.3">07</tspan></text>
<text transform="translate(353.2 146.7) translate(-0.593 0) scale(1.0783 1)" font-size="11" letter-spacing="0.242" stroke="#000" stroke-width="0.4">2×10<tspan font-size="8.5" dy="-4.3">07</tspan></text>
<text transform="translate(389.5 207.8) translate(-6.219 0) scale(1.0872 1)" font-size="11" letter-spacing="0.000" stroke="#000" stroke-width="0.4">0</text>
<path d="M429.5 26.3 V19.9 H494.3 V26.3" fill="none" stroke="#000" stroke-width="2.3"/>
<text transform="translate(458.95 11.8) translate(-18.568 0) scale(1.1499 1)" font-size="10.4" letter-spacing="0.000" stroke="#000" stroke-width="0.5">p=0.43</text>
<circle cx="428" cy="49.3" r="4.9"/>
<circle cx="428" cy="123.8" r="4.9"/>
<circle cx="420.5" cy="135.8" r="4.9"/>
<circle cx="434.8" cy="147.3" r="4.9"/>
<circle cx="434.8" cy="161.2" r="4.9"/>
<circle cx="420.8" cy="169.8" r="4.9"/>
<circle cx="420.8" cy="174.4" r="4.9"/>
<circle cx="434.8" cy="181.9" r="4.9"/>
<circle cx="420.8" cy="183.7" r="4.9"/>
<circle cx="427.7" cy="188.8" r="4.9"/>
<circle cx="424.2" cy="192.3" r="4.9"/>
<circle cx="431.2" cy="192.3" r="4.9"/>
<circle cx="434.8" cy="187" r="4.9"/>
<circle cx="413.8" cy="198.7" r="4.9"/>
<circle cx="420.8" cy="198.7" r="4.9"/>
<circle cx="427.7" cy="198.7" r="4.9"/>
<circle cx="434.6" cy="198.7" r="4.9"/>
<circle cx="442.1" cy="198.7" r="4.9"/>
<circle cx="475.5" cy="184" r="4.2" fill="#fff" stroke="#000" stroke-width="2.4"/>
<circle cx="489.4" cy="185.5" r="4.2" fill="#fff" stroke="#000" stroke-width="2.4"/>
<circle cx="503.6" cy="182.5" r="4.2" fill="#fff" stroke="#000" stroke-width="2.4"/>
<circle cx="496.7" cy="192.1" r="4.2" fill="#fff" stroke="#000" stroke-width="2.4"/>
<circle cx="482.5" cy="203.1" r="4.2" fill="#fff" stroke="#000" stroke-width="2.4"/>
<line x1="407.5" y1="172.1" x2="448" y2="172.1" stroke="#000" stroke-width="2.4" stroke-linecap="butt"/>
<line x1="469.2" y1="189.2" x2="510.2" y2="189.2" stroke="#000" stroke-width="2.4" stroke-linecap="butt"/>
<text transform="translate(401.2 225.6) translate(-0.790 0) scale(1.0122 1)" font-size="12" letter-spacing="0.264" stroke="#000" stroke-width="0.5">no RTX</text>
<text transform="translate(472.6 225.6) translate(-0.960 0) scale(1.0000 1)" font-size="12" letter-spacing="-0.310" stroke="#000" stroke-width="0.5">RTX</text>
<text transform="translate(344.6 157.4) rotate(-90) translate(-0.000 0) scale(1.0000 1)" font-size="12" letter-spacing="0.113" stroke="#000" stroke-width="0.45">#CD19<tspan font-size="8" dy="-4.3">+</tspan><tspan dy="4.3"> cells/LN</tspan></text>
<line x1="196.6" y1="264.51" x2="196.6" y2="449.5" stroke="#000" stroke-width="2.2" stroke-linecap="butt"/>
<line x1="189.9" y1="448.4" x2="318.8" y2="448.4" stroke="#000" stroke-width="2.2" stroke-linecap="butt"/>
<line x1="189.9" y1="265.5" x2="196.6" y2="265.5" stroke="#000" stroke-width="1.9800000000000002" stroke-linecap="butt"/>
<line x1="189.9" y1="326.5" x2="196.6" y2="326.5" stroke="#000" stroke-width="1.9800000000000002" stroke-linecap="butt"/>
<line x1="189.9" y1="387.5" x2="196.6" y2="387.5" stroke="#000" stroke-width="1.9800000000000002" stroke-linecap="butt"/>
<line x1="227" y1="448.4" x2="227" y2="454.7" stroke="#000" stroke-width="1.9800000000000002" stroke-linecap="butt"/>
<line x1="287.6" y1="448.4" x2="287.6" y2="454.7" stroke="#000" stroke-width="1.9800000000000002" stroke-linecap="butt"/>
<text transform="translate(188.7 269.8) translate(-16.276 0) scale(1.0622 1)" font-size="11" letter-spacing="0.242" stroke="#000" stroke-width="0.4">1.5</text>
<text transform="translate(188.7 330.8) translate(-16.273 0) scale(1.0582 1)" font-size="11" letter-spacing="0.242" stroke="#000" stroke-width="0.4">1.0</text>
<text transform="translate(188.7 391.8) translate(-15.797 0) scale(1.0309 1)" font-size="11" letter-spacing="0.242" stroke="#000" stroke-width="0.4">0.5</text>
<text transform="translate(188.7 452.7) translate(-15.795 0) scale(1.0272 1)" font-size="11" letter-spacing="0.242" stroke="#000" stroke-width="0.4">0.0</text>
<path d="M228.9 273.1 V266.4 H285.4 V273.1" fill="none" stroke="#000" stroke-width="2.3"/>
<text transform="translate(257.4 259.2) translate(-24.086 0) scale(1.0995 1)" font-size="10.4" letter-spacing="0.000" stroke="#000" stroke-width="0.5">p=0.0019</text>
<circle cx="227" cy="326.3" r="4.9"/>
<circle cx="227" cy="380" r="4.9"/>
<circle cx="233.75" cy="388.25" r="4.9"/>
<circle cx="220" cy="394.5" r="4.9"/>
<circle cx="233.75" cy="395" r="4.9"/>
<circle cx="220.2" cy="401.3" r="4.9"/>
<circle cx="241" cy="412.9" r="4.9"/>
<circle cx="213.3" cy="423.8" r="4.9"/>
<circle cx="227.1" cy="426.2" r="4.9"/>
<circle cx="227.1" cy="436" r="4.9"/>
<circle cx="220.2" cy="442.9" r="4.9"/>
<circle cx="234" cy="442.9" r="4.9"/>
<circle cx="212.7" cy="447.5" r="4.9"/>
<circle cx="220.2" cy="447.5" r="4.9"/>
<circle cx="227.1" cy="447.5" r="4.9"/>
<circle cx="234" cy="447.5" r="4.9"/>
<circle cx="241.5" cy="447.5" r="4.9"/>
<circle cx="227.1" cy="449.2" r="4.9"/>
<circle cx="273.3" cy="448.3" r="4.1" fill="#fff" stroke="#000" stroke-width="2.2"/>
<circle cx="280.8" cy="448.3" r="4.1" fill="#fff" stroke="#000" stroke-width="2.2"/>
<circle cx="287.7" cy="448.3" r="4.1" fill="#fff" stroke="#000" stroke-width="2.2"/>
<circle cx="294.6" cy="448.3" r="4.1" fill="#fff" stroke="#000" stroke-width="2.2"/>
<circle cx="302.1" cy="448.3" r="4.1" fill="#fff" stroke="#000" stroke-width="2.2"/>
<line x1="207.2" y1="421.6" x2="247.4" y2="421.6" stroke="#000" stroke-width="2.4" stroke-linecap="butt"/>
<line x1="268" y1="448.4" x2="308" y2="448.4" stroke="#000" stroke-width="2.2" stroke-linecap="butt"/>
<text transform="translate(203 472.2) translate(-0.793 0) scale(1.0171 1)" font-size="12" letter-spacing="0.264" stroke="#000" stroke-width="0.5">no RTX</text>
<text transform="translate(274.5 472.2) translate(-0.960 0) scale(1.0000 1)" font-size="12" letter-spacing="0.090" stroke="#000" stroke-width="0.5">RTX</text>
<text transform="translate(164.8 434.1) rotate(-90) translate(-0.420 0) scale(1.0000 1)" font-size="12" letter-spacing="0.247" stroke="#000" stroke-width="0.45">%CD38<tspan font-size="8" dy="-4.3">+</tspan><tspan dy="4.3">Bcl6</tspan><tspan font-size="8" dy="-4.3">+</tspan><tspan dy="4.3">(CD19</tspan><tspan font-size="8" dy="-4.3">+</tspan><tspan dy="4.3"> cells)</tspan></text>
<line x1="393.4" y1="274.31" x2="393.4" y2="452.8" stroke="#000" stroke-width="2.2" stroke-linecap="butt"/>
<line x1="386.7" y1="451.7" x2="510.5" y2="451.7" stroke="#000" stroke-width="2.2" stroke-linecap="butt"/>
<line x1="386.7" y1="275.3" x2="393.4" y2="275.3" stroke="#000" stroke-width="1.9800000000000002" stroke-linecap="butt"/>
<line x1="386.7" y1="334.1" x2="393.4" y2="334.1" stroke="#000" stroke-width="1.9800000000000002" stroke-linecap="butt"/>
<line x1="386.7" y1="392.9" x2="393.4" y2="392.9" stroke="#000" stroke-width="1.9800000000000002" stroke-linecap="butt"/>
<line x1="422.6" y1="451.7" x2="422.6" y2="458.0" stroke="#000" stroke-width="1.9800000000000002" stroke-linecap="butt"/>
<line x1="481.3" y1="451.7" x2="481.3" y2="458.0" stroke="#000" stroke-width="1.9800000000000002" stroke-linecap="butt"/>
<text transform="translate(344 281.0) translate(-0.825 0) scale(1.0000 1)" font-size="11" letter-spacing="0.153" stroke="#000" stroke-width="0.4">1.5×10<tspan font-size="8.5" dy="-4.6">05</tspan></text>
<text transform="translate(344 339.8) translate(-0.825 0) scale(1.0000 1)" font-size="11" letter-spacing="0.153" stroke="#000" stroke-width="0.4">1.0×10<tspan font-size="8.5" dy="-4.6">05</tspan></text>
<text transform="translate(344 398.59999999999997) translate(-0.440 0) scale(1.0000 1)" font-size="11" letter-spacing="0.079" stroke="#000" stroke-width="0.4">5.0×10<tspan font-size="8.5" dy="-4.6">04</tspan></text>
<text transform="translate(385.5 456.3) translate(-15.795 0) scale(1.0272 1)" font-size="11" letter-spacing="0.242" stroke="#000" stroke-width="0.4">0.0</text>
<path d="M423.8 283.6 V277.3 H485.1 V283.6" fill="none" stroke="#000" stroke-width="2.3"/>
<text transform="translate(453.85 269.8) translate(-23.416 0) scale(1.0677 1)" font-size="10.4" letter-spacing="0.000" stroke="#000" stroke-width="0.5">p=0.0026</text>
<circle cx="423.2" cy="328.8" r="4.6"/>
<circle cx="423.2" cy="348.8" r="4.6"/>
<circle cx="423" cy="381.75" r="4.6"/>
<circle cx="429.4" cy="412.9" r="4.6"/>
<circle cx="416.2" cy="417.3" r="4.6"/>
<circle cx="416.2" cy="426.8" r="4.6"/>
<circle cx="429.4" cy="427.1" r="4.6"/>
<circle cx="416.2" cy="431.7" r="4.6"/>
<circle cx="429.4" cy="436.9" r="4.6"/>
<circle cx="436.9" cy="445.2" r="4.6"/>
<circle cx="408.3" cy="446.7" r="4.6"/>
<circle cx="422.5" cy="447.3" r="4.6"/>
<circle cx="415.6" cy="451.3" r="4.6"/>
<circle cx="423" cy="450.5" r="4.6"/>
<circle cx="429.4" cy="450.8" r="4.6"/>
<circle cx="467.5" cy="451.8" r="3.9" fill="#fff" stroke="#000" stroke-width="2.1"/>
<circle cx="474.3" cy="451.8" r="3.9" fill="#fff" stroke="#000" stroke-width="2.1"/>
<circle cx="481.3" cy="451.8" r="3.9" fill="#fff" stroke="#000" stroke-width="2.1"/>
<circle cx="487.9" cy="451.8" r="3.9" fill="#fff" stroke="#000" stroke-width="2.1"/>
<circle cx="494.8" cy="451.8" r="3.9" fill="#fff" stroke="#000" stroke-width="2.1"/>
<line x1="403.2" y1="428.5" x2="441.8" y2="428.5" stroke="#000" stroke-width="2.3" stroke-linecap="butt"/>
<line x1="462.5" y1="451.7" x2="500" y2="451.7" stroke="#000" stroke-width="2.2" stroke-linecap="butt"/>
<text transform="translate(397 474.2) translate(-0.784 0) scale(1.0049 1)" font-size="12" letter-spacing="0.264" stroke="#000" stroke-width="0.5">no RTX</text>
<text transform="translate(468.3 474.2) translate(-0.960 0) scale(1.0000 1)" font-size="12" letter-spacing="0.090" stroke="#000" stroke-width="0.5">RTX</text>
<text transform="translate(334.2 418.2) rotate(-90) translate(-0.000 0) scale(1.0918 1)" font-size="11" letter-spacing="0.000" stroke="#000" stroke-width="0.45">#CD38<tspan font-size="7.5" dy="-4">+</tspan><tspan dy="4">Bcl6</tspan><tspan font-size="7.5" dy="-4">+</tspan><tspan dy="4">CD19</tspan><tspan font-size="7.5" dy="-4">+</tspan></text>
<line x1="50.3" y1="509.54499999999996" x2="50.3" y2="680.75" stroke="#000" stroke-width="1.9" stroke-linecap="butt"/>
<line x1="46.3" y1="679.8" x2="135" y2="679.8" stroke="#000" stroke-width="1.9" stroke-linecap="butt"/>
<line x1="46.3" y1="510.4" x2="50.3" y2="510.4" stroke="#000" stroke-width="1.71" stroke-linecap="butt"/>
<line x1="46.3" y1="552.75" x2="50.3" y2="552.75" stroke="#000" stroke-width="1.71" stroke-linecap="butt"/>
<line x1="46.3" y1="595.1" x2="50.3" y2="595.1" stroke="#000" stroke-width="1.71" stroke-linecap="butt"/>
<line x1="46.3" y1="637.45" x2="50.3" y2="637.45" stroke="#000" stroke-width="1.71" stroke-linecap="butt"/>
<line x1="71.4" y1="679.8" x2="71.4" y2="684.0" stroke="#000" stroke-width="1.71" stroke-linecap="butt"/>
<line x1="112.8" y1="679.8" x2="112.8" y2="684.0" stroke="#000" stroke-width="1.71" stroke-linecap="butt"/>
<text transform="translate(45.2 514.1999999999999) translate(-25.452 0) scale(1.0263 1)" font-size="11" letter-spacing="0.242" stroke="#000" stroke-width="0.4">8000</text>
<text transform="translate(45.2 556.55) translate(-25.567 0) scale(1.0309 1)" font-size="11" letter-spacing="0.242" stroke="#000" stroke-width="0.4">6000</text>
<text transform="translate(45.2 598.9) translate(-25.224 0) scale(1.0171 1)" font-size="11" letter-spacing="0.242" stroke="#000" stroke-width="0.4">4000</text>
<text transform="translate(45.2 641.25) translate(-25.567 0) scale(1.0309 1)" font-size="11" letter-spacing="0.242" stroke="#000" stroke-width="0.4">2000</text>
<text transform="translate(45.2 683.5999999999999) translate(-6.219 0) scale(1.0872 1)" font-size="11" letter-spacing="0.000" stroke="#000" stroke-width="0.4">0</text>
<path d="M69 510.1 V506.3 H111.8 V510.1" fill="none" stroke="#000" stroke-width="1.6"/>
<text transform="translate(90.1 500.6) translate(-22.542 0) scale(1.0290 1)" font-size="10.4" letter-spacing="0.000" stroke="#000" stroke-width="0.25">p&lt;0.0001</text>
<line x1="71.4" y1="590.75" x2="112.9" y2="520.5" stroke="#000" stroke-width="1.65" stroke-linecap="butt"/>
<line x1="71.4" y1="617.9" x2="112.9" y2="566.75" stroke="#000" stroke-width="1.65" stroke-linecap="butt"/>
<line x1="71.4" y1="633.8" x2="112.9" y2="588" stroke="#000" stroke-width="1.65" stroke-linecap="butt"/>
<line x1="71.4" y1="634.5" x2="112.9" y2="605" stroke="#000" stroke-width="1.65" stroke-linecap="butt"/>
<line x1="71.4" y1="641.9" x2="112.9" y2="600.2" stroke="#000" stroke-width="1.65" stroke-linecap="butt"/>
<line x1="71.4" y1="643" x2="112.9" y2="613.7" stroke="#000" stroke-width="1.65" stroke-linecap="butt"/>
<line x1="71.4" y1="654" x2="112.9" y2="609.8" stroke="#000" stroke-width="1.65" stroke-linecap="butt"/>
<line x1="71.4" y1="657" x2="112.9" y2="618.5" stroke="#000" stroke-width="1.65" stroke-linecap="butt"/>
<line x1="71.4" y1="664.6" x2="112.9" y2="629.4" stroke="#000" stroke-width="1.65" stroke-linecap="butt"/>
<line x1="71.4" y1="666" x2="112.9" y2="640" stroke="#000" stroke-width="1.65" stroke-linecap="butt"/>
<line x1="71.4" y1="668" x2="112.9" y2="647.3" stroke="#000" stroke-width="1.65" stroke-linecap="butt"/>
<line x1="71.4" y1="669.5" x2="112.9" y2="651.2" stroke="#000" stroke-width="1.65" stroke-linecap="butt"/>
<line x1="71.4" y1="671" x2="112.9" y2="657.9" stroke="#000" stroke-width="1.65" stroke-linecap="butt"/>
<line x1="71.4" y1="672.5" x2="112.9" y2="663.7" stroke="#000" stroke-width="1.65" stroke-linecap="butt"/>
<line x1="71.4" y1="674" x2="112.9" y2="670.4" stroke="#000" stroke-width="1.65" stroke-linecap="butt"/>
<line x1="71.4" y1="675.4" x2="112.9" y2="673.7" stroke="#000" stroke-width="1.65" stroke-linecap="butt"/>
<circle cx="71.4" cy="590.75" r="2.85"/>
<circle cx="71.4" cy="617.9" r="2.85"/>
<circle cx="71.4" cy="633.8" r="2.85"/>
<circle cx="71.4" cy="634.5" r="2.85"/>
<circle cx="71.4" cy="641.9" r="2.85"/>
<circle cx="71.4" cy="643" r="2.85"/>
<circle cx="71.4" cy="654" r="2.85"/>
<circle cx="71.4" cy="657" r="2.85"/>
<circle cx="71.4" cy="664.6" r="2.85"/>
<circle cx="71.4" cy="666" r="2.85"/>
<circle cx="71.4" cy="668" r="2.85"/>
<circle cx="71.4" cy="669.5" r="2.85"/>
<circle cx="71.4" cy="671" r="2.85"/>
<circle cx="71.4" cy="672.5" r="2.85"/>
<circle cx="71.4" cy="674" r="2.85"/>
<circle cx="71.4" cy="675.4" r="2.85"/>
<rect x="110.10000000000001" y="517.7" width="5.6" height="5.6"/>
<rect x="110.10000000000001" y="563.95" width="5.6" height="5.6"/>
<rect x="110.10000000000001" y="585.2" width="5.6" height="5.6"/>
<rect x="110.10000000000001" y="602.2" width="5.6" height="5.6"/>
<rect x="110.10000000000001" y="597.4000000000001" width="5.6" height="5.6"/>
<rect x="110.10000000000001" y="610.9000000000001" width="5.6" height="5.6"/>
<rect x="110.10000000000001" y="607.0" width="5.6" height="5.6"/>
<rect x="110.10000000000001" y="615.7" width="5.6" height="5.6"/>
<rect x="110.10000000000001" y="626.6" width="5.6" height="5.6"/>
<rect x="110.10000000000001" y="637.2" width="5.6" height="5.6"/>
<rect x="110.10000000000001" y="644.5" width="5.6" height="5.6"/>
<rect x="110.10000000000001" y="648.4000000000001" width="5.6" height="5.6"/>
<rect x="110.10000000000001" y="655.1" width="5.6" height="5.6"/>
<rect x="110.10000000000001" y="660.9000000000001" width="5.6" height="5.6"/>
<rect x="110.10000000000001" y="667.6" width="5.6" height="5.6"/>
<rect x="110.10000000000001" y="670.9000000000001" width="5.6" height="5.6"/>
<text transform="translate(52.5 696.9) translate(-0.650 0) scale(1.0000 1)" font-size="13" letter-spacing="-0.235" stroke="#000" stroke-width="0.45">CD38<tspan font-size="8.8" dy="-4.2">lo</tspan></text>
<text transform="translate(96.7 696.9) translate(-0.650 0) scale(1.0000 1)" font-size="13" letter-spacing="-0.069" stroke="#000" stroke-width="0.45">CD38<tspan font-size="8.8" dy="-4.2">hi</tspan></text>
<text transform="translate(52.5 711) translate(-1.040 0) scale(1.0000 1)" font-size="13" letter-spacing="0.274" stroke="#000" stroke-width="0.45">Bcl6<tspan font-size="8.8" dy="-4.2">-</tspan></text>
<text transform="translate(97.7 711) translate(-1.040 0) scale(1.0000 1)" font-size="13" letter-spacing="-0.265" stroke="#000" stroke-width="0.45">Bcl6<tspan font-size="8.8" dy="-4.2">+</tspan></text>
<text transform="translate(9.6 629) rotate(-90) translate(-0.996 0) scale(1.0376 1)" font-size="12" letter-spacing="0.264" stroke="#000" stroke-width="0.45">MFI CD20</text>
<line x1="220.4" y1="512.01" x2="220.4" y2="681.6" stroke="#000" stroke-width="2.2" stroke-linecap="butt"/>
<line x1="213.70000000000002" y1="680.5" x2="332.5" y2="680.5" stroke="#000" stroke-width="2.2" stroke-linecap="butt"/>
<line x1="213.70000000000002" y1="513.0" x2="220.4" y2="513.0" stroke="#000" stroke-width="1.9800000000000002" stroke-linecap="butt"/>
<line x1="213.70000000000002" y1="568.8" x2="220.4" y2="568.8" stroke="#000" stroke-width="1.9800000000000002" stroke-linecap="butt"/>
<line x1="213.70000000000002" y1="624.6" x2="220.4" y2="624.6" stroke="#000" stroke-width="1.9800000000000002" stroke-linecap="butt"/>
<line x1="248.3" y1="680.5" x2="248.3" y2="686.8" stroke="#000" stroke-width="1.9800000000000002" stroke-linecap="butt"/>
<line x1="304.3" y1="680.5" x2="304.3" y2="686.8" stroke="#000" stroke-width="1.9800000000000002" stroke-linecap="butt"/>
<text transform="translate(213.3 517.5) translate(-24.285 0) scale(1.0000 1)" font-size="11" letter-spacing="0.070" stroke="#000" stroke-width="0.4">3000</text>
<text transform="translate(213.3 573.3) translate(-24.450 0) scale(1.0000 1)" font-size="11" letter-spacing="0.125" stroke="#000" stroke-width="0.4">2000</text>
<text transform="translate(213.3 629.1) translate(-24.725 0) scale(1.0000 1)" font-size="11" letter-spacing="0.217" stroke="#000" stroke-width="0.4">1000</text>
<text transform="translate(213.3 685.0) translate(-6.219 0) scale(1.0872 1)" font-size="11" letter-spacing="0.000" stroke="#000" stroke-width="0.4">0</text>
<path d="M247.1 518.7 V512.6 H306.2 V518.7" fill="none" stroke="#000" stroke-width="2.3"/>
<text transform="translate(276.3 506.8) translate(-22.027 0) scale(1.0056 1)" font-size="10.4" letter-spacing="0.000" stroke="#000" stroke-width="0.5">p=0.0017</text>
<circle cx="248.75" cy="525.5" r="4.35"/>
<circle cx="235.75" cy="565.75" r="4.35"/>
<circle cx="248.25" cy="567.5" r="4.35"/>
<circle cx="261.25" cy="562" r="4.35"/>
<circle cx="235.75" cy="584.5" r="4.35"/>
<circle cx="248.25" cy="587.6" r="4.35"/>
<circle cx="261.25" cy="585.9" r="4.35"/>
<circle cx="248.3" cy="611.5" r="4.35"/>
<circle cx="235.6" cy="615.9" r="4.35"/>
<circle cx="248.3" cy="624.6" r="4.35"/>
<circle cx="261.2" cy="624.6" r="4.35"/>
<circle cx="242" cy="638.4" r="4.35"/>
<circle cx="254.9" cy="642.9" r="4.35"/>
<circle cx="254.9" cy="649.6" r="4.35"/>
<circle cx="242" cy="657.7" r="4.35"/>
<circle cx="291.5" cy="660.5" r="3.85" fill="#fff" stroke="#000" stroke-width="2.1"/>
<circle cx="298.2" cy="657.3" r="3.85" fill="#fff" stroke="#000" stroke-width="2.1"/>
<circle cx="310.3" cy="659" r="3.85" fill="#fff" stroke="#000" stroke-width="2.1"/>
<circle cx="304.2" cy="668.8" r="3.85" fill="#fff" stroke="#000" stroke-width="2.1"/>
<circle cx="316.9" cy="668.8" r="3.85" fill="#fff" stroke="#000" stroke-width="2.1"/>
<line x1="229.5" y1="611.5" x2="266.8" y2="611.5" stroke="#000" stroke-width="2.1" stroke-linecap="butt"/>
<line x1="286.9" y1="660.5" x2="322.7" y2="660.5" stroke="#000" stroke-width="2.1" stroke-linecap="butt"/>
<text transform="translate(223.8 702) translate(-0.797 0) scale(1.0220 1)" font-size="12" letter-spacing="0.264" stroke="#000" stroke-width="0.5">no RTX</text>
<text transform="translate(295 702) translate(-0.960 0) scale(1.0000 1)" font-size="12" letter-spacing="-0.060" stroke="#000" stroke-width="0.5">RTX</text>
<text transform="translate(184.3 652.6) rotate(-90) translate(-0.960 0) scale(1.0000 1)" font-size="12" letter-spacing="-0.421" stroke="#000" stroke-width="0.45">MFI CD20 (on CD19<tspan font-size="8" dy="-4.3">+</tspan><tspan dy="4.3">)</tspan></text>
</svg>
</body></html>
